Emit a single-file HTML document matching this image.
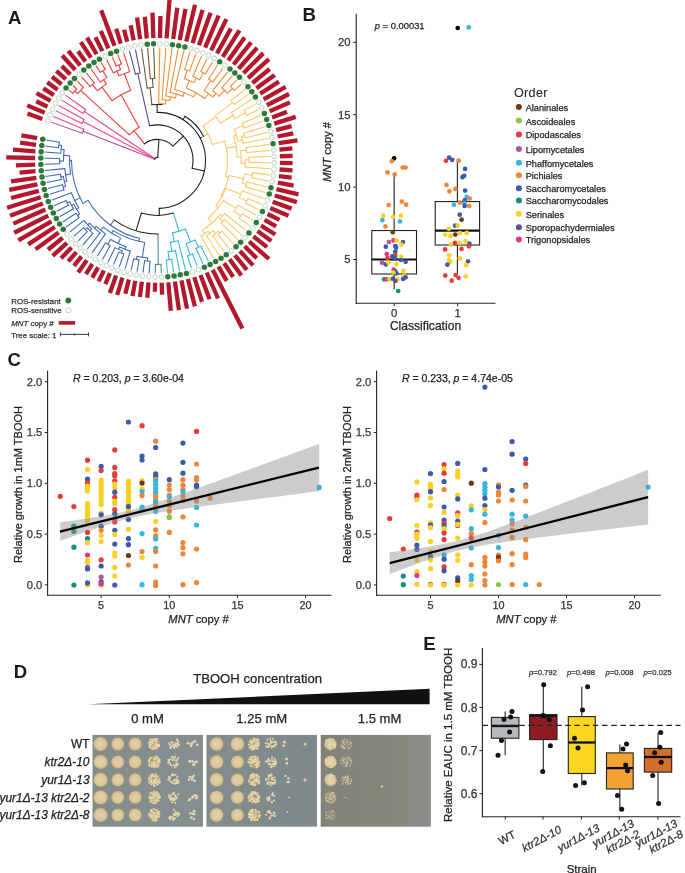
<!DOCTYPE html>
<html><head><meta charset="utf-8"><style>
html,body{margin:0;padding:0;background:#fff;}
svg{display:block;font-family:"Liberation Sans",sans-serif;will-change:transform;}

</style></head><body>
<svg width="685" height="873" viewBox="0 0 685 873">
<rect x="0" y="0" width="685" height="873" fill="#fff"/>
<text x="8" y="23.5" font-size="18.6" text-anchor="start" font-weight="bold" font-style="normal" fill="#1a1a1a" stroke="#1a1a1a" stroke-width="0" >A</text>
<line x1="42.34" y1="118.94" x2="27.47" y2="113.59" stroke="#B3192C" stroke-width="4.3" />
<line x1="44.75" y1="112.77" x2="27.25" y2="105.37" stroke="#B3192C" stroke-width="4.3" />
<line x1="47.49" y1="106.73" x2="36.26" y2="101.25" stroke="#B3192C" stroke-width="4.3" />
<line x1="50.56" y1="100.86" x2="36.58" y2="93.07" stroke="#B3192C" stroke-width="4.3" />
<line x1="53.94" y1="95.15" x2="43.28" y2="88.44" stroke="#B3192C" stroke-width="4.3" />
<line x1="57.62" y1="89.64" x2="47.26" y2="82.3" stroke="#B3192C" stroke-width="4.3" />
<line x1="61.6" y1="84.34" x2="52.04" y2="76.76" stroke="#B3192C" stroke-width="4.3" />
<line x1="65.86" y1="79.26" x2="56.35" y2="70.84" stroke="#B3192C" stroke-width="4.3" />
<line x1="70.38" y1="74.42" x2="61.77" y2="65.92" stroke="#B3192C" stroke-width="4.3" />
<line x1="75.17" y1="69.83" x2="62.18" y2="55.55" stroke="#B3192C" stroke-width="4.3" />
<line x1="80.19" y1="65.51" x2="68.31" y2="50.93" stroke="#B3192C" stroke-width="4.3" />
<line x1="85.44" y1="61.46" x2="78.02" y2="51.28" stroke="#B3192C" stroke-width="4.3" />
<line x1="90.9" y1="57.7" x2="80.83" y2="42.18" stroke="#B3192C" stroke-width="4.3" />
<line x1="96.56" y1="54.25" x2="87.05" y2="37.69" stroke="#B3192C" stroke-width="4.3" />
<line x1="102.39" y1="51.11" x2="95.41" y2="37.27" stroke="#B3192C" stroke-width="4.3" />
<line x1="108.39" y1="48.28" x2="100.77" y2="30.88" stroke="#B3192C" stroke-width="4.3" />
<line x1="114.53" y1="45.79" x2="101.19" y2="10.21" stroke="#B3192C" stroke-width="4.3" />
<line x1="120.8" y1="43.63" x2="116.12" y2="28.75" stroke="#B3192C" stroke-width="4.3" />
<line x1="127.17" y1="41.82" x2="124.1" y2="29.8" stroke="#B3192C" stroke-width="4.3" />
<line x1="133.64" y1="40.35" x2="130.63" y2="25.24" stroke="#B3192C" stroke-width="4.3" />
<line x1="140.17" y1="39.23" x2="137.05" y2="17.45" stroke="#B3192C" stroke-width="4.3" />
<line x1="146.75" y1="38.47" x2="144.84" y2="16.76" stroke="#B3192C" stroke-width="4.3" />
<line x1="153.37" y1="38.07" x2="152.51" y2="12.68" stroke="#B3192C" stroke-width="4.3" />
<line x1="160" y1="38.03" x2="160.45" y2="16.03" stroke="#B3192C" stroke-width="4.3" />
<line x1="166.62" y1="38.34" x2="169.6" y2="-1.55" stroke="#B3192C" stroke-width="4.3" />
<line x1="173.21" y1="39.01" x2="177.27" y2="7.67" stroke="#B3192C" stroke-width="4.3" />
<line x1="179.76" y1="40.04" x2="185.51" y2="8.97" stroke="#B3192C" stroke-width="4.3" />
<line x1="186.24" y1="41.42" x2="195.09" y2="4.78" stroke="#B3192C" stroke-width="4.3" />
<line x1="192.64" y1="43.15" x2="202.6" y2="9.91" stroke="#B3192C" stroke-width="4.3" />
<line x1="198.94" y1="45.23" x2="210.61" y2="12.76" stroke="#B3192C" stroke-width="4.3" />
<line x1="205.11" y1="47.64" x2="218.68" y2="15.49" stroke="#B3192C" stroke-width="4.3" />
<line x1="211.14" y1="50.38" x2="226.39" y2="19.1" stroke="#B3192C" stroke-width="4.3" />
<line x1="217.02" y1="53.45" x2="230.88" y2="28.54" stroke="#B3192C" stroke-width="4.3" />
<line x1="222.72" y1="56.82" x2="239.4" y2="30.34" stroke="#B3192C" stroke-width="4.3" />
<line x1="228.23" y1="60.51" x2="244.59" y2="37.41" stroke="#B3192C" stroke-width="4.3" />
<line x1="233.54" y1="64.48" x2="251.12" y2="42.31" stroke="#B3192C" stroke-width="4.3" />
<line x1="238.62" y1="68.74" x2="257.17" y2="47.77" stroke="#B3192C" stroke-width="4.3" />
<line x1="243.46" y1="73.26" x2="263.34" y2="53.12" stroke="#B3192C" stroke-width="4.3" />
<line x1="248.05" y1="78.05" x2="268.91" y2="59.07" stroke="#B3192C" stroke-width="4.3" />
<line x1="252.38" y1="83.07" x2="269.66" y2="68.98" stroke="#B3192C" stroke-width="4.3" />
<line x1="256.42" y1="88.32" x2="274.69" y2="75.01" stroke="#B3192C" stroke-width="4.3" />
<line x1="260.18" y1="93.78" x2="278.89" y2="81.64" stroke="#B3192C" stroke-width="4.3" />
<line x1="263.64" y1="99.43" x2="285.66" y2="86.78" stroke="#B3192C" stroke-width="4.3" />
<line x1="266.78" y1="105.27" x2="289.1" y2="94.01" stroke="#B3192C" stroke-width="4.3" />
<line x1="269.6" y1="111.26" x2="289.94" y2="102.35" stroke="#B3192C" stroke-width="4.3" />
<line x1="272.1" y1="117.4" x2="286.99" y2="111.82" stroke="#B3192C" stroke-width="4.3" />
<line x1="274.26" y1="123.67" x2="295.72" y2="116.92" stroke="#B3192C" stroke-width="4.3" />
<line x1="276.08" y1="130.05" x2="291.58" y2="126.08" stroke="#B3192C" stroke-width="4.3" />
<line x1="277.55" y1="136.51" x2="293.24" y2="133.39" stroke="#B3192C" stroke-width="4.3" />
<line x1="278.66" y1="143.04" x2="297.47" y2="140.35" stroke="#B3192C" stroke-width="4.3" />
<line x1="279.42" y1="149.63" x2="292.37" y2="148.48" stroke="#B3192C" stroke-width="4.3" />
<line x1="279.83" y1="156.24" x2="292.62" y2="155.81" stroke="#B3192C" stroke-width="4.3" />
<line x1="279.88" y1="162.87" x2="292.57" y2="163.13" stroke="#B3192C" stroke-width="4.3" />
<line x1="279.56" y1="169.49" x2="292.53" y2="170.46" stroke="#B3192C" stroke-width="4.3" />
<line x1="278.89" y1="176.08" x2="291.68" y2="177.74" stroke="#B3192C" stroke-width="4.3" />
<line x1="277.86" y1="182.63" x2="293.6" y2="185.54" stroke="#B3192C" stroke-width="4.3" />
<line x1="276.48" y1="189.11" x2="298.45" y2="194.42" stroke="#B3192C" stroke-width="4.3" />
<line x1="274.76" y1="195.51" x2="296.88" y2="202.14" stroke="#B3192C" stroke-width="4.3" />
<line x1="272.68" y1="201.81" x2="291.6" y2="208.61" stroke="#B3192C" stroke-width="4.3" />
<line x1="270.27" y1="207.98" x2="288.51" y2="215.68" stroke="#B3192C" stroke-width="4.3" />
<line x1="267.53" y1="214.02" x2="279.49" y2="219.84" stroke="#B3192C" stroke-width="4.3" />
<line x1="264.47" y1="219.9" x2="276.18" y2="226.41" stroke="#B3192C" stroke-width="4.3" />
<line x1="261.09" y1="225.6" x2="275.31" y2="234.55" stroke="#B3192C" stroke-width="4.3" />
<line x1="257.41" y1="231.11" x2="271.37" y2="240.99" stroke="#B3192C" stroke-width="4.3" />
<line x1="253.43" y1="236.42" x2="266.99" y2="247.16" stroke="#B3192C" stroke-width="4.3" />
<line x1="249.18" y1="241.5" x2="268.95" y2="258.99" stroke="#B3192C" stroke-width="4.3" />
<line x1="244.65" y1="246.34" x2="256.76" y2="258.28" stroke="#B3192C" stroke-width="4.3" />
<line x1="239.88" y1="250.93" x2="253" y2="265.36" stroke="#B3192C" stroke-width="4.3" />
<line x1="234.85" y1="255.26" x2="246.86" y2="269.98" stroke="#B3192C" stroke-width="4.3" />
<line x1="229.61" y1="259.31" x2="241.39" y2="275.47" stroke="#B3192C" stroke-width="4.3" />
<line x1="224.15" y1="263.06" x2="233.13" y2="276.9" stroke="#B3192C" stroke-width="4.3" />
<line x1="218.49" y1="266.52" x2="226.71" y2="280.83" stroke="#B3192C" stroke-width="4.3" />
<line x1="212.66" y1="269.67" x2="242.4" y2="328.59" stroke="#B3192C" stroke-width="4.3" />
<line x1="206.66" y1="272.49" x2="218.07" y2="298.5" stroke="#B3192C" stroke-width="4.3" />
<line x1="200.52" y1="274.99" x2="209.59" y2="299.14" stroke="#B3192C" stroke-width="4.3" />
<line x1="194.26" y1="277.15" x2="202.03" y2="301.86" stroke="#B3192C" stroke-width="4.3" />
<line x1="187.88" y1="278.97" x2="194.91" y2="306.38" stroke="#B3192C" stroke-width="4.3" />
<line x1="181.42" y1="280.44" x2="187.05" y2="308.68" stroke="#B3192C" stroke-width="4.3" />
<line x1="174.89" y1="281.56" x2="178.98" y2="310.07" stroke="#B3192C" stroke-width="4.3" />
<line x1="168.3" y1="282.32" x2="170.82" y2="310.71" stroke="#B3192C" stroke-width="4.3" />
<line x1="161.69" y1="282.73" x2="162.09" y2="294.62" stroke="#B3192C" stroke-width="4.3" />
<line x1="155.06" y1="282.78" x2="154.88" y2="291.77" stroke="#B3192C" stroke-width="4.3" />
<line x1="148.44" y1="282.46" x2="147.3" y2="297.72" stroke="#B3192C" stroke-width="4.3" />
<line x1="141.84" y1="281.79" x2="139.89" y2="296.97" stroke="#B3192C" stroke-width="4.3" />
<line x1="135.3" y1="280.77" x2="132.47" y2="296.11" stroke="#B3192C" stroke-width="4.3" />
<line x1="128.81" y1="279.39" x2="125.37" y2="293.68" stroke="#B3192C" stroke-width="4.3" />
<line x1="122.41" y1="277.66" x2="117.22" y2="295" stroke="#B3192C" stroke-width="4.3" />
<line x1="116.12" y1="275.59" x2="109.86" y2="293" stroke="#B3192C" stroke-width="4.3" />
<line x1="109.94" y1="273.18" x2="105.36" y2="284.06" stroke="#B3192C" stroke-width="4.3" />
<line x1="103.91" y1="270.44" x2="98.61" y2="281.32" stroke="#B3192C" stroke-width="4.3" />
<line x1="98.03" y1="267.38" x2="92.25" y2="277.78" stroke="#B3192C" stroke-width="4.3" />
<line x1="92.32" y1="264" x2="85.94" y2="274.16" stroke="#B3192C" stroke-width="4.3" />
<line x1="86.81" y1="260.32" x2="78.21" y2="272.49" stroke="#B3192C" stroke-width="4.3" />
<line x1="81.51" y1="256.35" x2="73.99" y2="265.84" stroke="#B3192C" stroke-width="4.3" />
<line x1="76.42" y1="252.1" x2="68.28" y2="261.31" stroke="#B3192C" stroke-width="4.3" />
<line x1="71.58" y1="247.57" x2="61.05" y2="258.26" stroke="#B3192C" stroke-width="4.3" />
<line x1="66.99" y1="242.8" x2="52.71" y2="255.79" stroke="#B3192C" stroke-width="4.3" />
<line x1="62.66" y1="237.78" x2="47.94" y2="249.79" stroke="#B3192C" stroke-width="4.3" />
<line x1="58.61" y1="232.53" x2="35.5" y2="249.38" stroke="#B3192C" stroke-width="4.3" />
<line x1="54.85" y1="227.07" x2="28.18" y2="244.39" stroke="#B3192C" stroke-width="4.3" />
<line x1="51.39" y1="221.41" x2="18.36" y2="240.41" stroke="#B3192C" stroke-width="4.3" />
<line x1="48.24" y1="215.58" x2="14.24" y2="232.76" stroke="#B3192C" stroke-width="4.3" />
<line x1="45.42" y1="209.59" x2="13.37" y2="223.65" stroke="#B3192C" stroke-width="4.3" />
<line x1="42.92" y1="203.45" x2="10.06" y2="215.79" stroke="#B3192C" stroke-width="4.3" />
<line x1="40.76" y1="197.18" x2="7.09" y2="207.79" stroke="#B3192C" stroke-width="4.3" />
<line x1="38.94" y1="190.81" x2="11.04" y2="197.96" stroke="#B3192C" stroke-width="4.3" />
<line x1="37.47" y1="184.35" x2="9.22" y2="189.98" stroke="#B3192C" stroke-width="4.3" />
<line x1="36.34" y1="177.81" x2="11.1" y2="181.44" stroke="#B3192C" stroke-width="4.3" />
<line x1="35.58" y1="171.23" x2="19.64" y2="172.65" stroke="#B3192C" stroke-width="4.3" />
<line x1="35.17" y1="164.61" x2="15.88" y2="165.28" stroke="#B3192C" stroke-width="4.3" />
<line x1="35.12" y1="157.99" x2="6.23" y2="157.42" stroke="#B3192C" stroke-width="4.3" />
<line x1="35.43" y1="151.37" x2="13" y2="149.7" stroke="#B3192C" stroke-width="4.3" />
<line x1="36.1" y1="144.77" x2="20.13" y2="142.72" stroke="#B3192C" stroke-width="4.3" />
<line x1="37.13" y1="138.22" x2="21.39" y2="135.32" stroke="#B3192C" stroke-width="4.3" />
<circle cx="47.7" cy="120.87" r="2.35" fill="#ffffff" stroke="#a9c7ab" stroke-width="0.75"/>
<circle cx="50" cy="114.98" r="2.35" fill="#ffffff" stroke="#a9c7ab" stroke-width="0.75"/>
<circle cx="52.62" cy="109.23" r="2.35" fill="#ffffff" stroke="#a9c7ab" stroke-width="0.75"/>
<circle cx="55.54" cy="103.63" r="2.35" fill="#ffffff" stroke="#a9c7ab" stroke-width="0.75"/>
<circle cx="58.76" cy="98.19" r="2.35" fill="#ffffff" stroke="#a9c7ab" stroke-width="0.75"/>
<circle cx="62.27" cy="92.94" r="2.35" fill="#ffffff" stroke="#a9c7ab" stroke-width="0.75"/>
<circle cx="66.07" cy="87.88" r="2.75" fill="#2C7A3B"/>
<circle cx="70.13" cy="83.04" r="2.75" fill="#2C7A3B"/>
<circle cx="74.44" cy="78.42" r="2.75" fill="#2C7A3B"/>
<circle cx="79" cy="74.05" r="2.35" fill="#ffffff" stroke="#a9c7ab" stroke-width="0.75"/>
<circle cx="83.79" cy="69.93" r="2.75" fill="#2C7A3B"/>
<circle cx="88.8" cy="66.07" r="2.75" fill="#2C7A3B"/>
<circle cx="94" cy="62.49" r="2.75" fill="#2C7A3B"/>
<circle cx="99.4" cy="59.19" r="2.75" fill="#2C7A3B"/>
<circle cx="104.96" cy="56.2" r="2.35" fill="#ffffff" stroke="#a9c7ab" stroke-width="0.75"/>
<circle cx="110.68" cy="53.51" r="2.75" fill="#2C7A3B"/>
<circle cx="116.53" cy="51.13" r="2.75" fill="#2C7A3B"/>
<circle cx="122.51" cy="49.07" r="2.35" fill="#ffffff" stroke="#a9c7ab" stroke-width="0.75"/>
<circle cx="128.58" cy="47.34" r="2.35" fill="#ffffff" stroke="#a9c7ab" stroke-width="0.75"/>
<circle cx="134.75" cy="45.94" r="2.35" fill="#ffffff" stroke="#a9c7ab" stroke-width="0.75"/>
<circle cx="140.98" cy="44.88" r="2.35" fill="#ffffff" stroke="#a9c7ab" stroke-width="0.75"/>
<circle cx="147.25" cy="44.15" r="2.75" fill="#2C7A3B"/>
<circle cx="153.56" cy="43.77" r="2.75" fill="#2C7A3B"/>
<circle cx="159.88" cy="43.72" r="2.35" fill="#ffffff" stroke="#a9c7ab" stroke-width="0.75"/>
<circle cx="166.19" cy="44.02" r="2.35" fill="#ffffff" stroke="#a9c7ab" stroke-width="0.75"/>
<circle cx="172.48" cy="44.67" r="2.75" fill="#2C7A3B"/>
<circle cx="178.72" cy="45.65" r="2.75" fill="#2C7A3B"/>
<circle cx="184.9" cy="46.96" r="2.75" fill="#2C7A3B"/>
<circle cx="191" cy="48.61" r="2.35" fill="#ffffff" stroke="#a9c7ab" stroke-width="0.75"/>
<circle cx="197.01" cy="50.59" r="2.35" fill="#ffffff" stroke="#a9c7ab" stroke-width="0.75"/>
<circle cx="202.89" cy="52.89" r="2.35" fill="#ffffff" stroke="#a9c7ab" stroke-width="0.75"/>
<circle cx="208.65" cy="55.5" r="2.35" fill="#ffffff" stroke="#a9c7ab" stroke-width="0.75"/>
<circle cx="214.25" cy="58.43" r="2.35" fill="#ffffff" stroke="#a9c7ab" stroke-width="0.75"/>
<circle cx="219.68" cy="61.65" r="2.75" fill="#2C7A3B"/>
<circle cx="224.94" cy="65.16" r="2.35" fill="#ffffff" stroke="#a9c7ab" stroke-width="0.75"/>
<circle cx="230" cy="68.95" r="2.75" fill="#2C7A3B"/>
<circle cx="234.84" cy="73.01" r="2.75" fill="#2C7A3B"/>
<circle cx="239.46" cy="77.32" r="2.75" fill="#2C7A3B"/>
<circle cx="243.83" cy="81.88" r="2.35" fill="#ffffff" stroke="#a9c7ab" stroke-width="0.75"/>
<circle cx="247.96" cy="86.67" r="2.75" fill="#2C7A3B"/>
<circle cx="251.82" cy="91.67" r="2.75" fill="#2C7A3B"/>
<circle cx="255.4" cy="96.88" r="2.75" fill="#2C7A3B"/>
<circle cx="258.69" cy="102.27" r="2.35" fill="#ffffff" stroke="#a9c7ab" stroke-width="0.75"/>
<circle cx="261.69" cy="107.84" r="2.35" fill="#ffffff" stroke="#a9c7ab" stroke-width="0.75"/>
<circle cx="264.38" cy="113.55" r="2.75" fill="#2C7A3B"/>
<circle cx="266.76" cy="119.41" r="2.75" fill="#2C7A3B"/>
<circle cx="268.82" cy="125.38" r="2.75" fill="#2C7A3B"/>
<circle cx="270.55" cy="131.46" r="2.35" fill="#ffffff" stroke="#a9c7ab" stroke-width="0.75"/>
<circle cx="271.96" cy="137.62" r="2.35" fill="#ffffff" stroke="#a9c7ab" stroke-width="0.75"/>
<circle cx="273.02" cy="143.85" r="2.75" fill="#2C7A3B"/>
<circle cx="273.75" cy="150.13" r="2.35" fill="#ffffff" stroke="#a9c7ab" stroke-width="0.75"/>
<circle cx="274.13" cy="156.44" r="2.35" fill="#ffffff" stroke="#a9c7ab" stroke-width="0.75"/>
<circle cx="274.18" cy="162.75" r="2.35" fill="#ffffff" stroke="#a9c7ab" stroke-width="0.75"/>
<circle cx="273.88" cy="169.07" r="2.35" fill="#ffffff" stroke="#a9c7ab" stroke-width="0.75"/>
<circle cx="273.24" cy="175.35" r="2.35" fill="#ffffff" stroke="#a9c7ab" stroke-width="0.75"/>
<circle cx="272.26" cy="181.6" r="2.35" fill="#ffffff" stroke="#a9c7ab" stroke-width="0.75"/>
<circle cx="270.94" cy="187.78" r="2.75" fill="#2C7A3B"/>
<circle cx="269.29" cy="193.88" r="2.75" fill="#2C7A3B"/>
<circle cx="267.32" cy="199.88" r="2.35" fill="#ffffff" stroke="#a9c7ab" stroke-width="0.75"/>
<circle cx="265.02" cy="205.77" r="2.35" fill="#ffffff" stroke="#a9c7ab" stroke-width="0.75"/>
<circle cx="262.41" cy="211.52" r="2.75" fill="#2C7A3B"/>
<circle cx="259.49" cy="217.13" r="2.35" fill="#ffffff" stroke="#a9c7ab" stroke-width="0.75"/>
<circle cx="256.27" cy="222.56" r="2.75" fill="#2C7A3B"/>
<circle cx="252.76" cy="227.82" r="2.35" fill="#ffffff" stroke="#a9c7ab" stroke-width="0.75"/>
<circle cx="248.97" cy="232.88" r="2.75" fill="#2C7A3B"/>
<circle cx="244.91" cy="237.72" r="2.35" fill="#ffffff" stroke="#a9c7ab" stroke-width="0.75"/>
<circle cx="240.6" cy="242.34" r="2.75" fill="#2C7A3B"/>
<circle cx="236.04" cy="246.72" r="2.75" fill="#2C7A3B"/>
<circle cx="231.25" cy="250.84" r="2.35" fill="#ffffff" stroke="#a9c7ab" stroke-width="0.75"/>
<circle cx="226.25" cy="254.7" r="2.75" fill="#2C7A3B"/>
<circle cx="221.04" cy="258.28" r="2.75" fill="#2C7A3B"/>
<circle cx="215.65" cy="261.58" r="2.75" fill="#2C7A3B"/>
<circle cx="210.09" cy="264.58" r="2.75" fill="#2C7A3B"/>
<circle cx="204.37" cy="267.27" r="2.75" fill="#2C7A3B"/>
<circle cx="198.52" cy="269.65" r="2.35" fill="#ffffff" stroke="#a9c7ab" stroke-width="0.75"/>
<circle cx="192.54" cy="271.71" r="2.35" fill="#ffffff" stroke="#a9c7ab" stroke-width="0.75"/>
<circle cx="186.47" cy="273.45" r="2.75" fill="#2C7A3B"/>
<circle cx="180.3" cy="274.85" r="2.75" fill="#2C7A3B"/>
<circle cx="174.08" cy="275.92" r="2.75" fill="#2C7A3B"/>
<circle cx="167.8" cy="276.64" r="2.75" fill="#2C7A3B"/>
<circle cx="161.49" cy="277.03" r="2.35" fill="#ffffff" stroke="#a9c7ab" stroke-width="0.75"/>
<circle cx="155.17" cy="277.08" r="2.35" fill="#ffffff" stroke="#a9c7ab" stroke-width="0.75"/>
<circle cx="148.86" cy="276.78" r="2.35" fill="#ffffff" stroke="#a9c7ab" stroke-width="0.75"/>
<circle cx="142.57" cy="276.14" r="2.35" fill="#ffffff" stroke="#a9c7ab" stroke-width="0.75"/>
<circle cx="136.33" cy="275.16" r="2.35" fill="#ffffff" stroke="#a9c7ab" stroke-width="0.75"/>
<circle cx="130.15" cy="273.85" r="2.35" fill="#ffffff" stroke="#a9c7ab" stroke-width="0.75"/>
<circle cx="124.05" cy="272.2" r="2.35" fill="#ffffff" stroke="#a9c7ab" stroke-width="0.75"/>
<circle cx="118.04" cy="270.23" r="2.35" fill="#ffffff" stroke="#a9c7ab" stroke-width="0.75"/>
<circle cx="112.16" cy="267.93" r="2.35" fill="#ffffff" stroke="#a9c7ab" stroke-width="0.75"/>
<circle cx="106.4" cy="265.32" r="2.35" fill="#ffffff" stroke="#a9c7ab" stroke-width="0.75"/>
<circle cx="100.8" cy="262.4" r="2.35" fill="#ffffff" stroke="#a9c7ab" stroke-width="0.75"/>
<circle cx="95.36" cy="259.18" r="2.35" fill="#ffffff" stroke="#a9c7ab" stroke-width="0.75"/>
<circle cx="90.1" cy="255.67" r="2.35" fill="#ffffff" stroke="#a9c7ab" stroke-width="0.75"/>
<circle cx="85.05" cy="251.88" r="2.35" fill="#ffffff" stroke="#a9c7ab" stroke-width="0.75"/>
<circle cx="80.2" cy="247.83" r="2.35" fill="#ffffff" stroke="#a9c7ab" stroke-width="0.75"/>
<circle cx="75.58" cy="243.51" r="2.35" fill="#ffffff" stroke="#a9c7ab" stroke-width="0.75"/>
<circle cx="71.2" cy="238.96" r="2.35" fill="#ffffff" stroke="#a9c7ab" stroke-width="0.75"/>
<circle cx="67.08" cy="234.17" r="2.35" fill="#ffffff" stroke="#a9c7ab" stroke-width="0.75"/>
<circle cx="63.21" cy="229.17" r="2.75" fill="#2C7A3B"/>
<circle cx="59.63" cy="223.96" r="2.75" fill="#2C7A3B"/>
<circle cx="56.33" cy="218.57" r="2.75" fill="#2C7A3B"/>
<circle cx="53.33" cy="213.01" r="2.75" fill="#2C7A3B"/>
<circle cx="50.64" cy="207.3" r="2.75" fill="#2C7A3B"/>
<circle cx="48.26" cy="201.44" r="2.75" fill="#2C7A3B"/>
<circle cx="46.19" cy="195.47" r="2.75" fill="#2C7A3B"/>
<circle cx="44.46" cy="189.39" r="2.75" fill="#2C7A3B"/>
<circle cx="43.06" cy="183.23" r="2.75" fill="#2C7A3B"/>
<circle cx="41.99" cy="177" r="2.75" fill="#2C7A3B"/>
<circle cx="41.26" cy="170.73" r="2.75" fill="#2C7A3B"/>
<circle cx="40.87" cy="164.42" r="2.75" fill="#2C7A3B"/>
<circle cx="40.82" cy="158.1" r="2.75" fill="#2C7A3B"/>
<circle cx="41.12" cy="151.79" r="2.75" fill="#2C7A3B"/>
<circle cx="41.76" cy="145.5" r="2.75" fill="#2C7A3B"/>
<circle cx="42.73" cy="139.26" r="2.75" fill="#2C7A3B"/>
<text x="11.2" y="304.3" font-size="7.9" text-anchor="start" font-weight="normal" font-style="normal" fill="#333" stroke="#333" stroke-width="0.25" >ROS-resistant</text>
<circle cx="68.3" cy="300.5" r="2.9" fill="#2C7A3B"/>
<text x="11.2" y="313" font-size="7.9" text-anchor="start" font-weight="normal" font-style="normal" fill="#333" stroke="#333" stroke-width="0.25" >ROS-sensitive</text>
<circle cx="68.5" cy="310.3" r="2.5" fill="#fff" stroke="#a9c7ab" stroke-width="0.75"/>
<text x="11.2" y="325.7" font-size="7.9" text-anchor="start" font-weight="normal" font-style="normal" fill="#333" stroke="#333" stroke-width="0.25" ><tspan font-style="italic">MNT</tspan> copy #</text>
<rect x="58.7" y="321.1" width="16.4" height="3.6" fill="#B3192C" />
<text x="11.2" y="338.2" font-size="7.9" text-anchor="start" font-weight="normal" font-style="normal" fill="#333" stroke="#333" stroke-width="0.25" >Tree scale: 1</text>
<line x1="60.2" y1="334.4" x2="88.7" y2="334.4" stroke="#222" stroke-width="0.9" />
<line x1="60.4" y1="332.4" x2="60.4" y2="336.4" stroke="#222" stroke-width="0.8" />
<line x1="74.4" y1="333.4" x2="74.4" y2="335.4" stroke="#222" stroke-width="0.8" />
<line x1="88.5" y1="332.4" x2="88.5" y2="336.4" stroke="#222" stroke-width="0.8" />
<line x1="82.23" y1="133.3" x2="51.18" y2="122.12" stroke="#A94FA2" stroke-width="1.05" />
<line x1="83.81" y1="129.27" x2="53.41" y2="116.42" stroke="#EC4589" stroke-width="1.05" />
<path d="M82.23,133.3 A80,80 0 0 1 83.81,129.27" stroke="#A94FA2" stroke-width="1.05" fill="none" stroke-linecap="square"/>
<line x1="154.71" y1="159.31" x2="82.99" y2="131.27" stroke="#A94FA2" stroke-width="1.05" />
<line x1="82.01" y1="123.57" x2="55.94" y2="110.85" stroke="#EC4589" stroke-width="1.05" />
<line x1="84.11" y1="119.54" x2="58.77" y2="105.43" stroke="#EC4589" stroke-width="1.05" />
<path d="M82.01,123.57 A84,84 0 0 1 84.11,119.54" stroke="#EC4589" stroke-width="1.05" fill="none" stroke-linecap="square"/>
<line x1="154.84" y1="159.01" x2="83.03" y2="121.54" stroke="#EC4589" stroke-width="1.05" />
<line x1="83.04" y1="113.49" x2="61.89" y2="100.16" stroke="#EC4589" stroke-width="1.05" />
<line x1="85.69" y1="109.53" x2="65.29" y2="95.08" stroke="#EC4589" stroke-width="1.05" />
<path d="M83.04,113.49 A88,88 0 0 1 85.69,109.53" stroke="#EC4589" stroke-width="1.05" fill="none" stroke-linecap="square"/>
<line x1="155.01" y1="158.73" x2="84.34" y2="111.49" stroke="#EC4589" stroke-width="1.05" />
<line x1="72.88" y1="93.29" x2="68.96" y2="90.18" stroke="#EE3A33" stroke-width="1.05" />
<line x1="76.64" y1="88.81" x2="72.9" y2="85.49" stroke="#EE3A33" stroke-width="1.05" />
<path d="M72.88,93.29 A108,108 0 0 1 76.64,88.81" stroke="#EE3A33" stroke-width="1.05" fill="none" stroke-linecap="square"/>
<line x1="77.8" y1="93.59" x2="74.73" y2="91.02" stroke="#EE3A33" stroke-width="1.05" />
<line x1="83.48" y1="87.35" x2="77.07" y2="81.02" stroke="#EE3A33" stroke-width="1.05" />
<path d="M77.8,93.59 A104,104 0 0 1 83.48,87.35" stroke="#EE3A33" stroke-width="1.05" fill="none" stroke-linecap="square"/>
<line x1="129.39" y1="134.83" x2="80.57" y2="90.41" stroke="#EE3A33" stroke-width="1.05" />
<line x1="90.23" y1="86.41" x2="81.49" y2="76.79" stroke="#EE3A33" stroke-width="1.05" />
<line x1="94.34" y1="82.87" x2="86.13" y2="72.79" stroke="#EE3A33" stroke-width="1.05" />
<path d="M90.23,86.41 A100,100 0 0 1 94.34,82.87" stroke="#EE3A33" stroke-width="1.05" fill="none" stroke-linecap="square"/>
<line x1="97.48" y1="90.67" x2="92.26" y2="84.61" stroke="#EE3A33" stroke-width="1.05" />
<line x1="100.39" y1="81.99" x2="90.97" y2="69.06" stroke="#EE3A33" stroke-width="1.05" />
<line x1="100.37" y1="72.3" x2="96.02" y2="65.59" stroke="#EE3A33" stroke-width="1.05" />
<line x1="105.22" y1="69.34" x2="101.24" y2="62.4" stroke="#EE3A33" stroke-width="1.05" />
<path d="M100.37,72.3 A105,105 0 0 1 105.22,69.34" stroke="#EE3A33" stroke-width="1.05" fill="none" stroke-linecap="square"/>
<line x1="106.94" y1="77.62" x2="102.77" y2="70.79" stroke="#EE3A33" stroke-width="1.05" />
<path d="M100.39,81.99 A97,97 0 0 1 106.94,77.62" stroke="#EE3A33" stroke-width="1.05" fill="none" stroke-linecap="square"/>
<line x1="106.4" y1="83.9" x2="103.62" y2="79.74" stroke="#EE3A33" stroke-width="1.05" />
<path d="M97.48,90.67 A92,92 0 0 1 106.4,83.9" stroke="#EE3A33" stroke-width="1.05" fill="none" stroke-linecap="square"/>
<line x1="112.12" y1="100.68" x2="101.84" y2="87.15" stroke="#EE3A33" stroke-width="1.05" />
<line x1="113.38" y1="72.89" x2="106.62" y2="59.5" stroke="#EE3A33" stroke-width="1.05" />
<line x1="116.17" y1="66.05" x2="112.16" y2="56.89" stroke="#EE3A33" stroke-width="1.05" />
<line x1="121.34" y1="63.96" x2="117.83" y2="54.59" stroke="#EE3A33" stroke-width="1.05" />
<path d="M116.17,66.05 A103,103 0 0 1 121.34,63.96" stroke="#EE3A33" stroke-width="1.05" fill="none" stroke-linecap="square"/>
<line x1="120.62" y1="69.6" x2="118.74" y2="64.97" stroke="#EE3A33" stroke-width="1.05" />
<path d="M113.38,72.89 A98,98 0 0 1 120.62,69.6" stroke="#EE3A33" stroke-width="1.05" fill="none" stroke-linecap="square"/>
<line x1="119.04" y1="75.73" x2="116.97" y2="71.17" stroke="#EE3A33" stroke-width="1.05" />
<line x1="129.61" y1="71.68" x2="123.62" y2="52.6" stroke="#EE3A33" stroke-width="1.05" />
<path d="M119.04,75.73 A93,93 0 0 1 129.61,71.68" stroke="#EE3A33" stroke-width="1.05" fill="none" stroke-linecap="square"/>
<line x1="130.7" y1="90.35" x2="124.26" y2="73.54" stroke="#EE3A33" stroke-width="1.05" />
<path d="M112.12,100.68 A75,75 0 0 1 130.7,90.35" stroke="#EE3A33" stroke-width="1.05" fill="none" stroke-linecap="square"/>
<line x1="139.03" y1="127.19" x2="121.04" y2="94.86" stroke="#EE3A33" stroke-width="1.05" />
<path d="M129.39,134.83 A38,38 0 0 1 139.03,127.19" stroke="#EE3A33" stroke-width="1.05" fill="none" stroke-linecap="square"/>
<line x1="144.46" y1="143.94" x2="133.9" y2="130.62" stroke="#EE3A33" stroke-width="1.05" />
<line x1="135.45" y1="74.18" x2="129.5" y2="50.92" stroke="#4B47A3" stroke-width="1.05" />
<line x1="140.15" y1="73.11" x2="135.47" y2="49.57" stroke="#4B47A3" stroke-width="1.05" />
<path d="M135.45,74.18 A89,89 0 0 1 140.15,73.11" stroke="#4B47A3" stroke-width="1.05" fill="none" stroke-linecap="square"/>
<line x1="149.64" y1="125.78" x2="137.79" y2="73.61" stroke="#4B47A3" stroke-width="1.05" />
<line x1="147.16" y1="88.14" x2="141.5" y2="48.54" stroke="#6E4F31" stroke-width="1.05" />
<line x1="150.3" y1="78.72" x2="147.58" y2="47.84" stroke="#6E4F31" stroke-width="1.05" />
<line x1="154.73" y1="78.45" x2="153.69" y2="47.46" stroke="#6E4F31" stroke-width="1.05" />
<path d="M150.3,78.72 A82,82 0 0 1 154.73,78.45" stroke="#6E4F31" stroke-width="1.05" fill="none" stroke-linecap="square"/>
<line x1="153.06" y1="87.54" x2="152.51" y2="78.55" stroke="#6E4F31" stroke-width="1.05" />
<path d="M147.16,88.14 A73,73 0 0 1 153.06,87.54" stroke="#6E4F31" stroke-width="1.05" fill="none" stroke-linecap="square"/>
<line x1="151.83" y1="104.69" x2="150.11" y2="87.78" stroke="#6E4F31" stroke-width="1.05" />
<line x1="158.66" y1="103.41" x2="159.81" y2="47.42" stroke="#F28A35" stroke-width="1.05" />
<line x1="162.04" y1="99.57" x2="165.92" y2="47.71" stroke="#F28A35" stroke-width="1.05" />
<line x1="165.84" y1="95.94" x2="172.01" y2="48.33" stroke="#F28A35" stroke-width="1.05" />
<line x1="170.05" y1="92.55" x2="178.05" y2="49.28" stroke="#F28A35" stroke-width="1.05" />
<line x1="174.64" y1="89.44" x2="184.03" y2="50.56" stroke="#F28A35" stroke-width="1.05" />
<line x1="184.77" y1="69.4" x2="189.94" y2="52.16" stroke="#F28A35" stroke-width="1.05" />
<line x1="189.66" y1="71.01" x2="195.75" y2="54.07" stroke="#F28A35" stroke-width="1.05" />
<path d="M184.77,69.4 A95,95 0 0 1 189.66,71.01" stroke="#F28A35" stroke-width="1.05" fill="none" stroke-linecap="square"/>
<line x1="184.41" y1="78.72" x2="187.23" y2="70.17" stroke="#F28A35" stroke-width="1.05" />
<line x1="192.9" y1="76.57" x2="201.45" y2="56.3" stroke="#F28A35" stroke-width="1.05" />
<line x1="200.89" y1="71.41" x2="207.02" y2="58.83" stroke="#F28A35" stroke-width="1.05" />
<line x1="205.64" y1="73.89" x2="212.45" y2="61.66" stroke="#F28A35" stroke-width="1.05" />
<path d="M200.89,71.41 A99,99 0 0 1 205.64,73.89" stroke="#F28A35" stroke-width="1.05" fill="none" stroke-linecap="square"/>
<line x1="199.58" y1="79.71" x2="203.28" y2="72.62" stroke="#F28A35" stroke-width="1.05" />
<path d="M192.9,76.57 A91,91 0 0 1 199.58,79.71" stroke="#F28A35" stroke-width="1.05" fill="none" stroke-linecap="square"/>
<line x1="194.14" y1="82.6" x2="196.27" y2="78.07" stroke="#F28A35" stroke-width="1.05" />
<path d="M184.41,78.72 A86,86 0 0 1 194.14,82.6" stroke="#F28A35" stroke-width="1.05" fill="none" stroke-linecap="square"/>
<line x1="186.37" y1="87.94" x2="189.34" y2="80.51" stroke="#F28A35" stroke-width="1.05" />
<line x1="208.65" y1="79.16" x2="217.71" y2="64.78" stroke="#F28A35" stroke-width="1.05" />
<line x1="212.98" y1="82.05" x2="222.8" y2="68.18" stroke="#F28A35" stroke-width="1.05" />
<path d="M208.65,79.16 A96,96 0 0 1 212.98,82.05" stroke="#F28A35" stroke-width="1.05" fill="none" stroke-linecap="square"/>
<line x1="204.17" y1="90.56" x2="210.84" y2="80.58" stroke="#F28A35" stroke-width="1.05" />
<line x1="212.79" y1="90.66" x2="227.7" y2="71.85" stroke="#F28A35" stroke-width="1.05" />
<line x1="221.78" y1="87.76" x2="232.39" y2="75.78" stroke="#F28A35" stroke-width="1.05" />
<line x1="230.54" y1="86.36" x2="236.86" y2="79.96" stroke="#F28A35" stroke-width="1.05" />
<line x1="234.44" y1="90.43" x2="241.1" y2="84.37" stroke="#F28A35" stroke-width="1.05" />
<path d="M230.54,86.36 A104,104 0 0 1 234.44,90.43" stroke="#F28A35" stroke-width="1.05" fill="none" stroke-linecap="square"/>
<line x1="227.47" y1="93.22" x2="232.52" y2="88.37" stroke="#F28A35" stroke-width="1.05" />
<path d="M221.78,87.76 A97,97 0 0 1 227.47,93.22" stroke="#F28A35" stroke-width="1.05" fill="none" stroke-linecap="square"/>
<line x1="219.14" y1="96.2" x2="224.68" y2="90.43" stroke="#F28A35" stroke-width="1.05" />
<path d="M212.79,90.66 A89,89 0 0 1 219.14,96.2" stroke="#F28A35" stroke-width="1.05" fill="none" stroke-linecap="square"/>
<line x1="212.74" y1="97.12" x2="216.03" y2="93.35" stroke="#F28A35" stroke-width="1.05" />
<path d="M204.17,90.56 A84,84 0 0 1 212.74,97.12" stroke="#F28A35" stroke-width="1.05" fill="none" stroke-linecap="square"/>
<line x1="204.91" y1="98.46" x2="208.56" y2="93.7" stroke="#F28A35" stroke-width="1.05" />
<path d="M186.37,87.94 A78,78 0 0 1 204.91,98.46" stroke="#F28A35" stroke-width="1.05" fill="none" stroke-linecap="square"/>
<line x1="193.54" y1="96.91" x2="196" y2="92.57" stroke="#F28A35" stroke-width="1.05" />
<path d="M174.64,89.44 A73,73 0 0 1 193.54,96.91" stroke="#F28A35" stroke-width="1.05" fill="none" stroke-linecap="square"/>
<line x1="182.88" y1="96.24" x2="184.35" y2="92.52" stroke="#F28A35" stroke-width="1.05" />
<path d="M170.05,92.55 A69,69 0 0 1 182.88,96.24" stroke="#F28A35" stroke-width="1.05" fill="none" stroke-linecap="square"/>
<line x1="175.45" y1="97.93" x2="176.55" y2="94.08" stroke="#F28A35" stroke-width="1.05" />
<path d="M165.84,95.94 A65,65 0 0 1 175.45,97.93" stroke="#F28A35" stroke-width="1.05" fill="none" stroke-linecap="square"/>
<line x1="169.87" y1="100.67" x2="170.68" y2="96.75" stroke="#F28A35" stroke-width="1.05" />
<path d="M162.04,99.57 A61,61 0 0 1 169.87,100.67" stroke="#F28A35" stroke-width="1.05" fill="none" stroke-linecap="square"/>
<line x1="165.42" y1="103.95" x2="165.98" y2="99.99" stroke="#F28A35" stroke-width="1.05" />
<path d="M158.66,103.41 A57,57 0 0 1 165.42,103.95" stroke="#F28A35" stroke-width="1.05" fill="none" stroke-linecap="square"/>
<line x1="161.97" y1="104.58" x2="162.05" y2="103.58" stroke="#F28A35" stroke-width="1.05" />
<line x1="231.14" y1="100.38" x2="245.09" y2="89.01" stroke="#F9C766" stroke-width="1.05" />
<line x1="234.28" y1="104.45" x2="248.83" y2="93.85" stroke="#F9C766" stroke-width="1.05" />
<path d="M231.14,100.38 A95,95 0 0 1 234.28,104.45" stroke="#F9C766" stroke-width="1.05" fill="none" stroke-linecap="square"/>
<line x1="215.31" y1="115.83" x2="232.74" y2="102.39" stroke="#F9C766" stroke-width="1.05" />
<line x1="231.32" y1="112.5" x2="252.29" y2="98.89" stroke="#F9C766" stroke-width="1.05" />
<line x1="244.21" y1="110.59" x2="255.48" y2="104.12" stroke="#F9C766" stroke-width="1.05" />
<line x1="246.78" y1="115.36" x2="258.39" y2="109.5" stroke="#F9C766" stroke-width="1.05" />
<path d="M244.21,110.59 A100,100 0 0 1 246.78,115.36" stroke="#F9C766" stroke-width="1.05" fill="none" stroke-linecap="square"/>
<line x1="234.97" y1="118.65" x2="245.53" y2="112.96" stroke="#F9C766" stroke-width="1.05" />
<path d="M231.32,112.5 A88,88 0 0 1 234.97,118.65" stroke="#F9C766" stroke-width="1.05" fill="none" stroke-linecap="square"/>
<line x1="220.3" y1="123.19" x2="233.21" y2="115.54" stroke="#F9C766" stroke-width="1.05" />
<path d="M215.31,115.83 A73,73 0 0 1 220.3,123.19" stroke="#F9C766" stroke-width="1.05" fill="none" stroke-linecap="square"/>
<line x1="203.02" y1="126.1" x2="215.8" y2="116.47" stroke="#F9C766" stroke-width="1.05" />
<line x1="242.12" y1="123.31" x2="261" y2="115.04" stroke="#F9C766" stroke-width="1.05" />
<line x1="244" y1="127.95" x2="263.3" y2="120.71" stroke="#F9C766" stroke-width="1.05" />
<path d="M242.12,123.31 A92.39,92.39 0 0 1 244,127.95" stroke="#F9C766" stroke-width="1.05" fill="none" stroke-linecap="square"/>
<line x1="234.33" y1="129.18" x2="243.09" y2="125.62" stroke="#F9C766" stroke-width="1.05" />
<line x1="243.89" y1="133.22" x2="265.29" y2="126.49" stroke="#F9C766" stroke-width="1.05" />
<line x1="245.24" y1="137.94" x2="266.97" y2="132.38" stroke="#F9C766" stroke-width="1.05" />
<path d="M243.89,133.22 A90.57,90.57 0 0 1 245.24,137.94" stroke="#F9C766" stroke-width="1.05" fill="none" stroke-linecap="square"/>
<line x1="241.47" y1="136.46" x2="244.6" y2="135.57" stroke="#F9C766" stroke-width="1.05" />
<line x1="243.13" y1="143.36" x2="268.33" y2="138.34" stroke="#F9C766" stroke-width="1.05" />
<path d="M241.47,136.46 A87.31,87.31 0 0 1 243.13,143.36" stroke="#F9C766" stroke-width="1.05" fill="none" stroke-linecap="square"/>
<line x1="238.11" y1="140.92" x2="242.37" y2="139.89" stroke="#F9C766" stroke-width="1.05" />
<path d="M234.33,129.18 A82.93,82.93 0 0 1 238.11,140.92" stroke="#F9C766" stroke-width="1.05" fill="none" stroke-linecap="square"/>
<line x1="233.65" y1="135.88" x2="236.44" y2="134.98" stroke="#F9C766" stroke-width="1.05" />
<line x1="246.21" y1="147.69" x2="269.36" y2="144.37" stroke="#F9C766" stroke-width="1.05" />
<line x1="246.77" y1="152.51" x2="270.06" y2="150.45" stroke="#F9C766" stroke-width="1.05" />
<path d="M246.21,147.69 A89.62,89.62 0 0 1 246.77,152.51" stroke="#F9C766" stroke-width="1.05" fill="none" stroke-linecap="square"/>
<line x1="240.7" y1="150.77" x2="246.52" y2="150.1" stroke="#F9C766" stroke-width="1.05" />
<line x1="248.8" y1="157.3" x2="270.43" y2="156.56" stroke="#F9C766" stroke-width="1.05" />
<line x1="248.84" y1="162.24" x2="270.48" y2="162.68" stroke="#F9C766" stroke-width="1.05" />
<path d="M248.8,157.3 A91.36,91.36 0 0 1 248.84,162.24" stroke="#F9C766" stroke-width="1.05" fill="none" stroke-linecap="square"/>
<line x1="245.26" y1="159.79" x2="248.85" y2="159.77" stroke="#F9C766" stroke-width="1.05" />
<line x1="245.02" y1="166.92" x2="270.19" y2="168.79" stroke="#F9C766" stroke-width="1.05" />
<path d="M245.26,159.79 A87.76,87.76 0 0 1 245.02,166.92" stroke="#F9C766" stroke-width="1.05" fill="none" stroke-linecap="square"/>
<line x1="241.2" y1="163.22" x2="245.21" y2="163.36" stroke="#F9C766" stroke-width="1.05" />
<path d="M240.7,150.77 A83.75,83.75 0 0 1 241.2,163.22" stroke="#F9C766" stroke-width="1.05" fill="none" stroke-linecap="square"/>
<line x1="237.43" y1="157.14" x2="241.18" y2="156.99" stroke="#F9C766" stroke-width="1.05" />
<path d="M233.65,135.88 A80,80 0 0 1 237.43,157.14" stroke="#F9C766" stroke-width="1.05" fill="none" stroke-linecap="square"/>
<line x1="226.42" y1="148.13" x2="236.26" y2="146.38" stroke="#F9C766" stroke-width="1.05" />
<line x1="252.71" y1="172.7" x2="269.57" y2="174.88" stroke="#F9C766" stroke-width="1.05" />
<line x1="251.9" y1="177.84" x2="268.62" y2="180.92" stroke="#F9C766" stroke-width="1.05" />
<path d="M252.71,172.7 A96,96 0 0 1 251.9,177.84" stroke="#F9C766" stroke-width="1.05" fill="none" stroke-linecap="square"/>
<line x1="244.44" y1="174.03" x2="252.34" y2="175.27" stroke="#F9C766" stroke-width="1.05" />
<line x1="246.93" y1="181.98" x2="267.35" y2="186.91" stroke="#F9C766" stroke-width="1.05" />
<line x1="245.63" y1="186.79" x2="265.75" y2="192.82" stroke="#F9C766" stroke-width="1.05" />
<path d="M246.93,181.98 A92,92 0 0 1 245.63,186.79" stroke="#F9C766" stroke-width="1.05" fill="none" stroke-linecap="square"/>
<line x1="242.45" y1="183.35" x2="246.32" y2="184.4" stroke="#F9C766" stroke-width="1.05" />
<path d="M244.44,174.03 A88,88 0 0 1 242.45,183.35" stroke="#F9C766" stroke-width="1.05" fill="none" stroke-linecap="square"/>
<line x1="228.9" y1="175.6" x2="243.57" y2="178.72" stroke="#F9C766" stroke-width="1.05" />
<line x1="242.19" y1="190.85" x2="263.84" y2="198.63" stroke="#F9C766" stroke-width="1.05" />
<line x1="247.79" y1="198.5" x2="261.61" y2="204.33" stroke="#F9C766" stroke-width="1.05" />
<line x1="245.6" y1="203.33" x2="259.08" y2="209.9" stroke="#F9C766" stroke-width="1.05" />
<path d="M247.79,198.5 A98,98 0 0 1 245.6,203.33" stroke="#F9C766" stroke-width="1.05" fill="none" stroke-linecap="square"/>
<line x1="239.44" y1="197.62" x2="246.73" y2="200.93" stroke="#F9C766" stroke-width="1.05" />
<path d="M242.19,190.85 A90,90 0 0 1 239.44,197.62" stroke="#F9C766" stroke-width="1.05" fill="none" stroke-linecap="square"/>
<line x1="226.06" y1="188.24" x2="240.89" y2="194.26" stroke="#F9C766" stroke-width="1.05" />
<line x1="237.9" y1="205.12" x2="256.25" y2="215.33" stroke="#F9C766" stroke-width="1.05" />
<line x1="242.13" y1="213.67" x2="253.13" y2="220.59" stroke="#F9C766" stroke-width="1.05" />
<line x1="239.12" y1="218.17" x2="249.74" y2="225.68" stroke="#F9C766" stroke-width="1.05" />
<path d="M242.13,213.67 A100,100 0 0 1 239.12,218.17" stroke="#F9C766" stroke-width="1.05" fill="none" stroke-linecap="square"/>
<line x1="234.01" y1="211.5" x2="240.66" y2="215.94" stroke="#F9C766" stroke-width="1.05" />
<path d="M237.9,205.12 A92,92 0 0 1 234.01,211.5" stroke="#F9C766" stroke-width="1.05" fill="none" stroke-linecap="square"/>
<line x1="223.22" y1="200.53" x2="236.02" y2="208.35" stroke="#F9C766" stroke-width="1.05" />
<line x1="224.51" y1="213.5" x2="246.07" y2="230.58" stroke="#F9C766" stroke-width="1.05" />
<line x1="224.4" y1="219.58" x2="242.14" y2="235.27" stroke="#F9C766" stroke-width="1.05" />
<line x1="221.1" y1="223.11" x2="237.96" y2="239.74" stroke="#F9C766" stroke-width="1.05" />
<path d="M224.4,219.58 A89.32,89.32 0 0 1 221.1,223.11" stroke="#F9C766" stroke-width="1.05" fill="none" stroke-linecap="square"/>
<line x1="219.98" y1="218.76" x2="222.77" y2="221.37" stroke="#F9C766" stroke-width="1.05" />
<path d="M224.51,213.5 A85.5,85.5 0 0 1 219.98,218.76" stroke="#F9C766" stroke-width="1.05" fill="none" stroke-linecap="square"/>
<line x1="220.41" y1="214.55" x2="222.3" y2="216.18" stroke="#F9C766" stroke-width="1.05" />
<line x1="221.97" y1="231.26" x2="233.55" y2="243.98" stroke="#F9C766" stroke-width="1.05" />
<line x1="218.04" y1="234.65" x2="228.91" y2="247.97" stroke="#F9C766" stroke-width="1.05" />
<path d="M221.97,231.26 A95.8,95.8 0 0 1 218.04,234.65" stroke="#F9C766" stroke-width="1.05" fill="none" stroke-linecap="square"/>
<line x1="218.4" y1="231.08" x2="220.03" y2="232.98" stroke="#F9C766" stroke-width="1.05" />
<line x1="212.46" y1="235.79" x2="224.07" y2="251.71" stroke="#F9C766" stroke-width="1.05" />
<path d="M218.4,231.08 A93.3,93.3 0 0 1 212.46,235.79" stroke="#F9C766" stroke-width="1.05" fill="none" stroke-linecap="square"/>
<line x1="213.2" y1="230.62" x2="215.48" y2="233.5" stroke="#F9C766" stroke-width="1.05" />
<line x1="206.3" y1="235.58" x2="219.03" y2="255.18" stroke="#F9C766" stroke-width="1.05" />
<path d="M213.2,230.62 A89.63,89.63 0 0 1 206.3,235.58" stroke="#F9C766" stroke-width="1.05" fill="none" stroke-linecap="square"/>
<line x1="208.35" y1="231.15" x2="209.81" y2="233.18" stroke="#F9C766" stroke-width="1.05" />
<line x1="200.92" y1="235.94" x2="213.81" y2="258.37" stroke="#F9C766" stroke-width="1.05" />
<path d="M208.35,231.15 A87.13,87.13 0 0 1 200.92,235.94" stroke="#F9C766" stroke-width="1.05" fill="none" stroke-linecap="square"/>
<line x1="202.46" y1="230.17" x2="204.69" y2="233.64" stroke="#F9C766" stroke-width="1.05" />
<path d="M220.41,214.55 A83,83 0 0 1 202.46,230.17" stroke="#F9C766" stroke-width="1.05" fill="none" stroke-linecap="square"/>
<line x1="208.06" y1="218.48" x2="211.99" y2="223" stroke="#F9C766" stroke-width="1.05" />
<path d="M223.22,200.53 A77,77 0 0 1 208.06,218.48" stroke="#F9C766" stroke-width="1.05" fill="none" stroke-linecap="square"/>
<line x1="215.81" y1="205.96" x2="218.18" y2="207.81" stroke="#F9C766" stroke-width="1.05" />
<path d="M226.06,188.24 A74,74 0 0 1 215.81,205.96" stroke="#F9C766" stroke-width="1.05" fill="none" stroke-linecap="square"/>
<line x1="221.22" y1="196.01" x2="222.1" y2="196.5" stroke="#F9C766" stroke-width="1.05" />
<path d="M228.9,175.6 A73,73 0 0 1 221.22,196.01" stroke="#F9C766" stroke-width="1.05" fill="none" stroke-linecap="square"/>
<line x1="225.59" y1="176.62" x2="228.51" y2="177.32" stroke="#F9C766" stroke-width="1.05" />
<path d="M224.75,140.99 A70,70 0 0 1 225.59,176.62" stroke="#F9C766" stroke-width="1.05" fill="none" stroke-linecap="square"/>
<line x1="212.26" y1="144.59" x2="224.75" y2="140.99" stroke="#F9C766" stroke-width="1.05" />
<path d="M203.02,126.1 A57,57 0 0 1 212.26,144.59" stroke="#F9C766" stroke-width="1.05" fill="none" stroke-linecap="square"/>
<line x1="201.85" y1="137.31" x2="208.06" y2="134.08" stroke="#F9C766" stroke-width="1.05" />
<line x1="171.7" y1="259.39" x2="173.55" y2="272.25" stroke="#31B7D9" stroke-width="1.05" />
<line x1="166.33" y1="260.01" x2="167.47" y2="272.96" stroke="#31B7D9" stroke-width="1.05" />
<path d="M171.7,259.39 A100,100 0 0 1 166.33,260.01" stroke="#31B7D9" stroke-width="1.05" fill="none" stroke-linecap="square"/>
<line x1="168.1" y1="251.79" x2="169.02" y2="259.73" stroke="#31B7D9" stroke-width="1.05" />
<line x1="175.48" y1="250.63" x2="179.58" y2="271.22" stroke="#31B7D9" stroke-width="1.05" />
<path d="M175.48,250.63 A92,92 0 0 1 168.1,251.79" stroke="#31B7D9" stroke-width="1.05" fill="none" stroke-linecap="square"/>
<line x1="170.4" y1="242.39" x2="171.8" y2="251.28" stroke="#31B7D9" stroke-width="1.05" />
<line x1="178.1" y1="240.8" x2="185.55" y2="269.86" stroke="#31B7D9" stroke-width="1.05" />
<path d="M178.1,240.8 A83,83 0 0 1 170.4,242.39" stroke="#31B7D9" stroke-width="1.05" fill="none" stroke-linecap="square"/>
<line x1="172.45" y1="232.87" x2="174.27" y2="241.69" stroke="#31B7D9" stroke-width="1.05" />
<line x1="192.65" y1="254.02" x2="197.22" y2="266.19" stroke="#31B7D9" stroke-width="1.05" />
<line x1="187.53" y1="255.78" x2="191.43" y2="268.18" stroke="#31B7D9" stroke-width="1.05" />
<path d="M192.65,254.02 A100,100 0 0 1 187.53,255.78" stroke="#31B7D9" stroke-width="1.05" fill="none" stroke-linecap="square"/>
<line x1="186.19" y1="243.59" x2="190.1" y2="254.94" stroke="#31B7D9" stroke-width="1.05" />
<line x1="200.76" y1="246.1" x2="208.42" y2="261.28" stroke="#31B7D9" stroke-width="1.05" />
<line x1="196.06" y1="248.32" x2="202.89" y2="263.88" stroke="#31B7D9" stroke-width="1.05" />
<path d="M200.76,246.1 A96,96 0 0 1 196.06,248.32" stroke="#31B7D9" stroke-width="1.05" fill="none" stroke-linecap="square"/>
<line x1="195.01" y1="240" x2="198.42" y2="247.24" stroke="#31B7D9" stroke-width="1.05" />
<path d="M195.01,240 A88,88 0 0 1 186.19,243.59" stroke="#31B7D9" stroke-width="1.05" fill="none" stroke-linecap="square"/>
<line x1="185.38" y1="228.95" x2="190.65" y2="241.92" stroke="#31B7D9" stroke-width="1.05" />
<path d="M185.38,228.95 A74,74 0 0 1 172.45,232.87" stroke="#31B7D9" stroke-width="1.05" fill="none" stroke-linecap="square"/>
<line x1="173.48" y1="213.03" x2="179" y2="231.21" stroke="#31B7D9" stroke-width="1.05" />
<line x1="161.06" y1="264.34" x2="161.36" y2="273.33" stroke="#3E8E88" stroke-width="1.05" />
<line x1="155.43" y1="264.38" x2="155.25" y2="273.38" stroke="#3E8E88" stroke-width="1.05" />
<path d="M161.06,264.34 A104,104 0 0 1 155.43,264.38" stroke="#3E8E88" stroke-width="1.05" fill="none" stroke-linecap="square"/>
<line x1="158.02" y1="234" x2="158.24" y2="264.4" stroke="#3E8E88" stroke-width="1.05" />
<line x1="150.01" y1="261.23" x2="149.13" y2="273.09" stroke="#3C67B6" stroke-width="1.05" />
<line x1="144.57" y1="260.68" x2="143.05" y2="272.47" stroke="#3C67B6" stroke-width="1.05" />
<path d="M150.01,261.23 A101.11,101.11 0 0 1 144.57,260.68" stroke="#3C67B6" stroke-width="1.05" fill="none" stroke-linecap="square"/>
<line x1="147.6" y1="257.9" x2="147.29" y2="260.99" stroke="#3C67B6" stroke-width="1.05" />
<line x1="139.1" y1="260.13" x2="137" y2="271.53" stroke="#3C67B6" stroke-width="1.05" />
<line x1="133.73" y1="258.99" x2="131.02" y2="270.25" stroke="#3C67B6" stroke-width="1.05" />
<path d="M139.1,260.13 A101.41,101.41 0 0 1 133.73,258.99" stroke="#3C67B6" stroke-width="1.05" fill="none" stroke-linecap="square"/>
<line x1="137.12" y1="256.26" x2="136.41" y2="259.6" stroke="#3C67B6" stroke-width="1.05" />
<path d="M147.6,257.9 A98,98 0 0 1 137.12,256.26" stroke="#3C67B6" stroke-width="1.05" fill="none" stroke-linecap="square"/>
<line x1="144.66" y1="242.4" x2="142.34" y2="257.22" stroke="#3C67B6" stroke-width="1.05" />
<line x1="130.41" y1="250.93" x2="125.11" y2="268.66" stroke="#3C67B6" stroke-width="1.05" />
<line x1="123.85" y1="254.07" x2="119.29" y2="266.75" stroke="#3C67B6" stroke-width="1.05" />
<line x1="118.83" y1="252.11" x2="113.59" y2="264.52" stroke="#3C67B6" stroke-width="1.05" />
<path d="M123.85,254.07 A99.53,99.53 0 0 1 118.83,252.11" stroke="#3C67B6" stroke-width="1.05" fill="none" stroke-linecap="square"/>
<line x1="122.23" y1="250.8" x2="121.32" y2="253.12" stroke="#3C67B6" stroke-width="1.05" />
<line x1="115.01" y1="247.64" x2="108.02" y2="261.99" stroke="#3C67B6" stroke-width="1.05" />
<path d="M122.23,250.8 A97.03,97.03 0 0 1 115.01,247.64" stroke="#3C67B6" stroke-width="1.05" fill="none" stroke-linecap="square"/>
<line x1="119.61" y1="246.97" x2="118.59" y2="249.29" stroke="#3C67B6" stroke-width="1.05" />
<path d="M130.41,250.93 A94.5,94.5 0 0 1 119.61,246.97" stroke="#3C67B6" stroke-width="1.05" fill="none" stroke-linecap="square"/>
<line x1="125.81" y1="246.77" x2="124.95" y2="249.12" stroke="#3C67B6" stroke-width="1.05" />
<line x1="110.14" y1="245.59" x2="102.6" y2="259.17" stroke="#3C67B6" stroke-width="1.05" />
<line x1="105.6" y1="242.9" x2="97.33" y2="256.05" stroke="#3C67B6" stroke-width="1.05" />
<path d="M110.14,245.59 A97.47,97.47 0 0 1 105.6,242.9" stroke="#3C67B6" stroke-width="1.05" fill="none" stroke-linecap="square"/>
<line x1="110.64" y1="239.57" x2="107.85" y2="244.28" stroke="#3C67B6" stroke-width="1.05" />
<path d="M125.81,246.77 A92,92 0 0 1 110.64,239.57" stroke="#3C67B6" stroke-width="1.05" fill="none" stroke-linecap="square"/>
<line x1="120.63" y1="238.1" x2="118.06" y2="243.52" stroke="#3C67B6" stroke-width="1.05" />
<line x1="105.52" y1="233.87" x2="92.24" y2="252.65" stroke="#3C67B6" stroke-width="1.05" />
<line x1="100.07" y1="232.91" x2="87.34" y2="248.98" stroke="#3C67B6" stroke-width="1.05" />
<line x1="92.92" y1="233.44" x2="82.65" y2="245.06" stroke="#3C67B6" stroke-width="1.05" />
<line x1="87.3" y1="231.62" x2="78.18" y2="240.88" stroke="#3C67B6" stroke-width="1.05" />
<line x1="83.55" y1="227.72" x2="73.94" y2="236.47" stroke="#3C67B6" stroke-width="1.05" />
<path d="M87.3,231.62 A100,100 0 0 1 83.55,227.72" stroke="#3C67B6" stroke-width="1.05" fill="none" stroke-linecap="square"/>
<line x1="87.2" y1="227.96" x2="85.4" y2="229.69" stroke="#3C67B6" stroke-width="1.05" />
<path d="M92.92,233.44 A97.5,97.5 0 0 1 87.2,227.96" stroke="#3C67B6" stroke-width="1.05" fill="none" stroke-linecap="square"/>
<line x1="91.74" y1="228.96" x2="90" y2="230.76" stroke="#3C67B6" stroke-width="1.05" />
<line x1="83.89" y1="220.45" x2="69.94" y2="231.83" stroke="#3C67B6" stroke-width="1.05" />
<path d="M91.74,228.96 A95,95 0 0 1 83.89,220.45" stroke="#3C67B6" stroke-width="1.05" fill="none" stroke-linecap="square"/>
<line x1="89.52" y1="223.13" x2="87.68" y2="224.83" stroke="#3C67B6" stroke-width="1.05" />
<path d="M100.07,232.91 A92.5,92.5 0 0 1 89.52,223.13" stroke="#3C67B6" stroke-width="1.05" fill="none" stroke-linecap="square"/>
<line x1="96.3" y1="226.39" x2="94.6" y2="228.23" stroke="#3C67B6" stroke-width="1.05" />
<path d="M105.52,233.87 A90,90 0 0 1 96.3,226.39" stroke="#3C67B6" stroke-width="1.05" fill="none" stroke-linecap="square"/>
<line x1="103.31" y1="227.18" x2="100.79" y2="230.29" stroke="#3C67B6" stroke-width="1.05" />
<path d="M120.63,238.1 A86,86 0 0 1 103.31,227.18" stroke="#3C67B6" stroke-width="1.05" fill="none" stroke-linecap="square"/>
<line x1="113.24" y1="230.62" x2="111.65" y2="233.16" stroke="#3C67B6" stroke-width="1.05" />
<path d="M144.66,242.4 A83,83 0 0 1 113.24,230.62" stroke="#3C67B6" stroke-width="1.05" fill="none" stroke-linecap="square"/>
<line x1="139.5" y1="238.35" x2="138.83" y2="241.27" stroke="#3C67B6" stroke-width="1.05" />
<line x1="79.07" y1="217.61" x2="66.2" y2="226.99" stroke="#3C67B6" stroke-width="1.05" />
<line x1="76.09" y1="213.28" x2="62.73" y2="221.95" stroke="#3C67B6" stroke-width="1.05" />
<path d="M79.07,217.61 A97.08,97.08 0 0 1 76.09,213.28" stroke="#3C67B6" stroke-width="1.05" fill="none" stroke-linecap="square"/>
<line x1="79.67" y1="214" x2="77.55" y2="215.46" stroke="#3C67B6" stroke-width="1.05" />
<line x1="73.41" y1="208.75" x2="59.54" y2="216.73" stroke="#3C67B6" stroke-width="1.05" />
<line x1="68.52" y1="205.34" x2="56.64" y2="211.34" stroke="#3C67B6" stroke-width="1.05" />
<line x1="66.22" y1="200.46" x2="54.03" y2="205.81" stroke="#3C67B6" stroke-width="1.05" />
<path d="M68.52,205.34 A99.69,99.69 0 0 1 66.22,200.46" stroke="#3C67B6" stroke-width="1.05" fill="none" stroke-linecap="square"/>
<line x1="69.76" y1="201.77" x2="67.33" y2="202.92" stroke="#3C67B6" stroke-width="1.05" />
<path d="M73.41,208.75 A97,97 0 0 1 69.76,201.77" stroke="#3C67B6" stroke-width="1.05" fill="none" stroke-linecap="square"/>
<line x1="73.73" y1="204.14" x2="71.52" y2="205.3" stroke="#3C67B6" stroke-width="1.05" />
<path d="M79.67,214 A94.5,94.5 0 0 1 73.73,204.14" stroke="#3C67B6" stroke-width="1.05" fill="none" stroke-linecap="square"/>
<line x1="78.69" y1="207.87" x2="76.55" y2="209.16" stroke="#3C67B6" stroke-width="1.05" />
<line x1="71.38" y1="192.76" x2="51.72" y2="200.14" stroke="#3C67B6" stroke-width="1.05" />
<path d="M78.69,207.87 A92,92 0 0 1 71.38,192.76" stroke="#3C67B6" stroke-width="1.05" fill="none" stroke-linecap="square"/>
<line x1="80.09" y1="197.87" x2="74.69" y2="200.48" stroke="#3C67B6" stroke-width="1.05" />
<line x1="64.03" y1="189.85" x2="49.72" y2="194.36" stroke="#3C67B6" stroke-width="1.05" />
<line x1="62.57" y1="184.75" x2="48.04" y2="188.47" stroke="#3C67B6" stroke-width="1.05" />
<path d="M64.03,189.85 A98,98 0 0 1 62.57,184.75" stroke="#3C67B6" stroke-width="1.05" fill="none" stroke-linecap="square"/>
<line x1="65.67" y1="186.62" x2="63.27" y2="187.31" stroke="#3C67B6" stroke-width="1.05" />
<line x1="61.39" y1="179.57" x2="46.68" y2="182.51" stroke="#3C67B6" stroke-width="1.05" />
<line x1="60.5" y1="174.34" x2="45.65" y2="176.48" stroke="#3C67B6" stroke-width="1.05" />
<path d="M61.39,179.57 A98,98 0 0 1 60.5,174.34" stroke="#3C67B6" stroke-width="1.05" fill="none" stroke-linecap="square"/>
<line x1="63.37" y1="176.54" x2="60.91" y2="176.96" stroke="#3C67B6" stroke-width="1.05" />
<path d="M65.67,186.62 A95.5,95.5 0 0 1 63.37,176.54" stroke="#3C67B6" stroke-width="1.05" fill="none" stroke-linecap="square"/>
<line x1="66.82" y1="181.06" x2="64.39" y2="181.61" stroke="#3C67B6" stroke-width="1.05" />
<line x1="64.86" y1="168.63" x2="44.94" y2="170.4" stroke="#3C67B6" stroke-width="1.05" />
<path d="M66.82,181.06 A93,93 0 0 1 64.86,168.63" stroke="#3C67B6" stroke-width="1.05" fill="none" stroke-linecap="square"/>
<line x1="70.57" y1="174.1" x2="65.63" y2="174.88" stroke="#3C67B6" stroke-width="1.05" />
<line x1="59.68" y1="163.77" x2="44.57" y2="164.29" stroke="#3C67B6" stroke-width="1.05" />
<line x1="59.64" y1="158.47" x2="44.52" y2="158.17" stroke="#3C67B6" stroke-width="1.05" />
<path d="M59.68,163.77 A97.88,97.88 0 0 1 59.64,158.47" stroke="#3C67B6" stroke-width="1.05" fill="none" stroke-linecap="square"/>
<line x1="63.5" y1="161.09" x2="59.62" y2="161.12" stroke="#3C67B6" stroke-width="1.05" />
<line x1="60.76" y1="153.24" x2="44.81" y2="152.06" stroke="#3C67B6" stroke-width="1.05" />
<line x1="58.56" y1="147.66" x2="45.42" y2="145.97" stroke="#3C67B6" stroke-width="1.05" />
<line x1="59.39" y1="142.32" x2="46.37" y2="139.93" stroke="#3C67B6" stroke-width="1.05" />
<path d="M58.56,147.66 A99.76,99.76 0 0 1 59.39,142.32" stroke="#3C67B6" stroke-width="1.05" fill="none" stroke-linecap="square"/>
<line x1="61.66" y1="145.41" x2="58.94" y2="144.99" stroke="#3C67B6" stroke-width="1.05" />
<path d="M60.76,153.24 A97.01,97.01 0 0 1 61.66,145.41" stroke="#3C67B6" stroke-width="1.05" fill="none" stroke-linecap="square"/>
<line x1="64.12" y1="149.66" x2="61.13" y2="149.32" stroke="#3C67B6" stroke-width="1.05" />
<path d="M63.5,161.09 A94,94 0 0 1 64.12,149.66" stroke="#3C67B6" stroke-width="1.05" fill="none" stroke-linecap="square"/>
<line x1="69.63" y1="155.69" x2="63.63" y2="155.37" stroke="#3C67B6" stroke-width="1.05" />
<path d="M70.57,174.1 A88,88 0 0 1 69.63,155.69" stroke="#3C67B6" stroke-width="1.05" fill="none" stroke-linecap="square"/>
<line x1="71.5" y1="160.4" x2="69.5" y2="160.4" stroke="#3C67B6" stroke-width="1.05" />
<path d="M83.02,203.4 A86,86 0 0 1 71.5,160.4" stroke="#3C67B6" stroke-width="1.05" fill="none" stroke-linecap="square"/>
<line x1="88.22" y1="200.4" x2="83.02" y2="203.4" stroke="#3C67B6" stroke-width="1.05" />
<path d="M139.5,238.35 A80,80 0 0 1 88.22,200.4" stroke="#3C67B6" stroke-width="1.05" fill="none" stroke-linecap="square"/>
<line x1="114.24" y1="219.94" x2="110.48" y2="225.12" stroke="#3C67B6" stroke-width="1.05" />
<path d="M154.71,159.31 A3,3 0 0 1 157.71,157.41" stroke="#1a1a1a" stroke-width="1.05" fill="none" stroke-linecap="square"/>
<line x1="157.71" y1="157.41" x2="158.96" y2="139.45" stroke="#1a1a1a" stroke-width="1.05" />
<path d="M144.46,143.94 A21,21 0 0 1 172.86,146.08" stroke="#1a1a1a" stroke-width="1.05" fill="none" stroke-linecap="square"/>
<line x1="172.86" y1="146.08" x2="183.46" y2="136.19" stroke="#1a1a1a" stroke-width="1.05" />
<path d="M149.64,125.78 A35.5,35.5 0 0 1 192.12,168.26" stroke="#1a1a1a" stroke-width="1.05" fill="none" stroke-linecap="square"/>
<line x1="192.12" y1="168.26" x2="204.31" y2="171.03" stroke="#1a1a1a" stroke-width="1.05" />
<path d="M157.16,112.4 A48,48 0 0 1 159.18,208.37" stroke="#1a1a1a" stroke-width="1.05" fill="none" stroke-linecap="square"/>
<line x1="157.16" y1="112.4" x2="157.11" y2="104.4" stroke="#1a1a1a" stroke-width="1.05" />
<path d="M151.83,104.69 A56,56 0 0 1 161.97,104.58" stroke="#1a1a1a" stroke-width="1.05" fill="none" stroke-linecap="square"/>
<path d="M185.06,116.3 A52,52 0 0 1 203.62,136.39" stroke="#1a1a1a" stroke-width="1.05" fill="none" stroke-linecap="square"/>
<line x1="182.94" y1="119.69" x2="185.06" y2="116.3" stroke="#1a1a1a" stroke-width="1.05" />
<line x1="200.08" y1="138.24" x2="201.85" y2="137.31" stroke="#1a1a1a" stroke-width="1.05" />
<line x1="159.18" y1="208.37" x2="159.42" y2="215.37" stroke="#1a1a1a" stroke-width="1.05" />
<path d="M173.48,213.03 A55,55 0 0 1 141.42,213" stroke="#1a1a1a" stroke-width="1.05" fill="none" stroke-linecap="square"/>
<line x1="141.42" y1="213" x2="135.98" y2="230.78" stroke="#1a1a1a" stroke-width="1.05" />
<path d="M158.02,234 A73.6,73.6 0 0 1 114.24,219.94" stroke="#1a1a1a" stroke-width="1.05" fill="none" stroke-linecap="square"/>
<text x="302.6" y="20.8" font-size="18.6" text-anchor="start" font-weight="bold" font-style="normal" fill="#1a1a1a" stroke="#1a1a1a" stroke-width="0" >B</text>
<line x1="356.2" y1="14" x2="356.2" y2="303.8" stroke="#222" stroke-width="1.1" />
<line x1="355.7" y1="303.3" x2="495.5" y2="303.3" stroke="#222" stroke-width="1.1" />
<line x1="353.2" y1="259.5" x2="356.2" y2="259.5" stroke="#222" stroke-width="1" />
<text x="350.6" y="263.4" font-size="11.3" text-anchor="end" font-weight="normal" font-style="normal" fill="#333" stroke="#333" stroke-width="0.25" >5</text>
<line x1="353.2" y1="187.1" x2="356.2" y2="187.1" stroke="#222" stroke-width="1" />
<text x="350.6" y="191" font-size="11.3" text-anchor="end" font-weight="normal" font-style="normal" fill="#333" stroke="#333" stroke-width="0.25" >10</text>
<line x1="353.2" y1="114.7" x2="356.2" y2="114.7" stroke="#222" stroke-width="1" />
<text x="350.6" y="118.6" font-size="11.3" text-anchor="end" font-weight="normal" font-style="normal" fill="#333" stroke="#333" stroke-width="0.25" >15</text>
<line x1="353.2" y1="42.3" x2="356.2" y2="42.3" stroke="#222" stroke-width="1" />
<text x="350.6" y="46.2" font-size="11.3" text-anchor="end" font-weight="normal" font-style="normal" fill="#333" stroke="#333" stroke-width="0.25" >20</text>
<line x1="394.2" y1="303.3" x2="394.2" y2="306.3" stroke="#222" stroke-width="1" />
<text x="394.2" y="317.2" font-size="11.3" text-anchor="middle" font-weight="normal" font-style="normal" fill="#333" stroke="#333" stroke-width="0.25" >0</text>
<line x1="457.7" y1="303.3" x2="457.7" y2="306.3" stroke="#222" stroke-width="1" />
<text x="457.7" y="317.2" font-size="11.3" text-anchor="middle" font-weight="normal" font-style="normal" fill="#333" stroke="#333" stroke-width="0.25" >1</text>
<text x="425.5" y="330.3" font-size="12.1" text-anchor="middle" font-weight="normal" font-style="normal" fill="#222" stroke="#222" stroke-width="0.25" >Classification</text>
<text x="331" y="151.9" font-size="11.1" text-anchor="middle" font-weight="normal" font-style="normal" fill="#222" stroke="#222" stroke-width="0.25" transform="rotate(-90 331.0 151.9)" ><tspan font-style="italic">MNT</tspan> copy #</text>
<line x1="394.15" y1="173.34" x2="394.15" y2="230.54" stroke="#222" stroke-width="1.1" />
<line x1="394.15" y1="273.98" x2="394.15" y2="289.18" stroke="#222" stroke-width="1.1" />
<rect x="371.8" y="230.54" width="44.7" height="43.44" fill="none" stroke="#222" stroke-width="1.1" />
<line x1="371.8" y1="259.5" x2="416.5" y2="259.5" stroke="#111" stroke-width="2.2" />
<line x1="457.4" y1="158.86" x2="457.4" y2="201.58" stroke="#222" stroke-width="1.1" />
<line x1="457.4" y1="245.02" x2="457.4" y2="273.98" stroke="#222" stroke-width="1.1" />
<rect x="435.2" y="201.58" width="44.4" height="43.44" fill="none" stroke="#222" stroke-width="1.1" />
<line x1="435.2" y1="230.54" x2="479.6" y2="230.54" stroke="#111" stroke-width="2.2" />
<circle cx="394.1" cy="158.3" r="2.35" fill="#000000"/>
<circle cx="391.8" cy="161.2" r="2.35" fill="#EF8535"/>
<circle cx="402.7" cy="167.5" r="2.35" fill="#EF8535"/>
<circle cx="405.6" cy="167.5" r="2.35" fill="#EF8535"/>
<circle cx="387.5" cy="172.4" r="2.35" fill="#EF8535"/>
<circle cx="394.7" cy="174.4" r="2.35" fill="#EF8535"/>
<circle cx="388.6" cy="205" r="2.35" fill="#EF8535"/>
<circle cx="401.8" cy="201.6" r="2.35" fill="#EF8535"/>
<circle cx="406.1" cy="204.7" r="2.35" fill="#EF8535"/>
<circle cx="383.2" cy="215.7" r="2.35" fill="#FBD024"/>
<circle cx="393" cy="217" r="2.35" fill="#FBD024"/>
<circle cx="401" cy="215.7" r="2.35" fill="#FBD024"/>
<circle cx="382.4" cy="220.2" r="2.35" fill="#33B6E0"/>
<circle cx="400" cy="221.4" r="2.35" fill="#33B6E0"/>
<circle cx="385.5" cy="226.4" r="2.35" fill="#EF8535"/>
<circle cx="392.7" cy="232.2" r="2.35" fill="#6B3A12"/>
<circle cx="388.9" cy="242" r="2.35" fill="#B0559F"/>
<circle cx="393.5" cy="240.3" r="2.35" fill="#E83A36"/>
<circle cx="396.5" cy="240.6" r="2.35" fill="#FBD024"/>
<circle cx="403" cy="242" r="2.35" fill="#3A5BA9"/>
<circle cx="401.3" cy="244.6" r="2.35" fill="#FBD024"/>
<circle cx="385.8" cy="246.7" r="2.35" fill="#3A5BA9"/>
<circle cx="395.3" cy="246" r="2.35" fill="#3A5BA9"/>
<circle cx="396.1" cy="247.7" r="2.35" fill="#3A5BA9"/>
<circle cx="395.3" cy="251.5" r="2.35" fill="#3A5BA9"/>
<circle cx="386.8" cy="254" r="2.35" fill="#E8368F"/>
<circle cx="395.3" cy="255" r="2.35" fill="#E83A36"/>
<circle cx="392.3" cy="256.3" r="2.35" fill="#3A5BA9"/>
<circle cx="387.5" cy="258" r="2.35" fill="#E83A36"/>
<circle cx="401.3" cy="256.6" r="2.35" fill="#FBD024"/>
<circle cx="395.3" cy="258.7" r="2.35" fill="#3A5BA9"/>
<circle cx="401" cy="260" r="2.35" fill="#3A5BA9"/>
<circle cx="405.6" cy="261.8" r="2.35" fill="#3A5BA9"/>
<circle cx="382" cy="262.7" r="2.35" fill="#B0559F"/>
<circle cx="385.8" cy="264.4" r="2.35" fill="#3A5BA9"/>
<circle cx="388.4" cy="262.7" r="2.35" fill="#FBD024"/>
<circle cx="396.6" cy="263.9" r="2.35" fill="#FBD024"/>
<circle cx="393.7" cy="269.5" r="2.35" fill="#E8368F"/>
<circle cx="395.3" cy="271.3" r="2.35" fill="#3A5BA9"/>
<circle cx="403.3" cy="270.9" r="2.35" fill="#FBD024"/>
<circle cx="396.5" cy="273.5" r="2.35" fill="#3A5BA9"/>
<circle cx="393.5" cy="272.5" r="2.35" fill="#FBD024"/>
<circle cx="403.9" cy="275.6" r="2.35" fill="#FBD024"/>
<circle cx="405.6" cy="277.3" r="2.35" fill="#3A5BA9"/>
<circle cx="384.1" cy="279.3" r="2.35" fill="#148D80"/>
<circle cx="386.7" cy="279.3" r="2.35" fill="#E8368F"/>
<circle cx="389.6" cy="279.3" r="2.35" fill="#FBD024"/>
<circle cx="393" cy="278.7" r="2.35" fill="#3A5BA9"/>
<circle cx="397.5" cy="279" r="2.35" fill="#FBD024"/>
<circle cx="403" cy="279" r="2.35" fill="#3A5BA9"/>
<circle cx="395.3" cy="281" r="2.35" fill="#5D4D9A"/>
<circle cx="398.2" cy="291" r="2.35" fill="#148D80"/>
<circle cx="449.1" cy="157.7" r="2.35" fill="#3A5BA9"/>
<circle cx="452.2" cy="159.8" r="2.35" fill="#3A5BA9"/>
<circle cx="446" cy="160.8" r="2.35" fill="#E83A36"/>
<circle cx="458.7" cy="160.7" r="2.35" fill="#EF8535"/>
<circle cx="465.1" cy="168.9" r="2.35" fill="#3A5BA9"/>
<circle cx="464.2" cy="175.8" r="2.35" fill="#3A5BA9"/>
<circle cx="462.5" cy="177.2" r="2.35" fill="#3A5BA9"/>
<circle cx="446.5" cy="184.9" r="2.35" fill="#EF8535"/>
<circle cx="455.4" cy="188.9" r="2.35" fill="#EF8535"/>
<circle cx="449.4" cy="191.3" r="2.35" fill="#EF8535"/>
<circle cx="465.1" cy="190.6" r="2.35" fill="#3A5BA9"/>
<circle cx="466.8" cy="196.8" r="2.35" fill="#33B6E0"/>
<circle cx="469.7" cy="198.5" r="2.35" fill="#EF8535"/>
<circle cx="464.9" cy="200.2" r="2.35" fill="#3A5BA9"/>
<circle cx="459.9" cy="202.6" r="2.35" fill="#EF8535"/>
<circle cx="464.6" cy="203.3" r="2.35" fill="#33B6E0"/>
<circle cx="453.9" cy="204.7" r="2.35" fill="#33B6E0"/>
<circle cx="464.6" cy="205.9" r="2.35" fill="#3A5BA9"/>
<circle cx="469.2" cy="206.1" r="2.35" fill="#EF8535"/>
<circle cx="459.7" cy="214.7" r="2.35" fill="#3A5BA9"/>
<circle cx="461.6" cy="219.7" r="2.35" fill="#6B3A12"/>
<circle cx="455.1" cy="225.7" r="2.35" fill="#3A5BA9"/>
<circle cx="457.7" cy="225.7" r="2.35" fill="#FBD024"/>
<circle cx="448.7" cy="228.8" r="2.35" fill="#FBD024"/>
<circle cx="445.3" cy="234.6" r="2.35" fill="#FBD024"/>
<circle cx="450.5" cy="235.7" r="2.35" fill="#FBD024"/>
<circle cx="455.3" cy="234.6" r="2.35" fill="#6B3A12"/>
<circle cx="459.9" cy="233.2" r="2.35" fill="#FBD024"/>
<circle cx="466.8" cy="232.9" r="2.35" fill="#FBD024"/>
<circle cx="465.4" cy="241.2" r="2.35" fill="#FBD024"/>
<circle cx="454.9" cy="242.9" r="2.35" fill="#E83A36"/>
<circle cx="459.7" cy="242.9" r="2.35" fill="#FBD024"/>
<circle cx="450.8" cy="244.6" r="2.35" fill="#FBD024"/>
<circle cx="469.4" cy="243.7" r="2.35" fill="#3A5BA9"/>
<circle cx="468.9" cy="246.3" r="2.35" fill="#E83A36"/>
<circle cx="445.1" cy="249.4" r="2.35" fill="#E83A36"/>
<circle cx="461.5" cy="248.9" r="2.35" fill="#E83A36"/>
<circle cx="449.1" cy="255.3" r="2.35" fill="#FBD024"/>
<circle cx="449.1" cy="260.1" r="2.35" fill="#FBD024"/>
<circle cx="450.1" cy="261.8" r="2.35" fill="#FBD024"/>
<circle cx="459.7" cy="258.4" r="2.35" fill="#FBD024"/>
<circle cx="468" cy="261.3" r="2.35" fill="#3A5BA9"/>
<circle cx="447.4" cy="264.7" r="2.35" fill="#3A5BA9"/>
<circle cx="466.3" cy="265.2" r="2.35" fill="#FBD024"/>
<circle cx="445.3" cy="275.6" r="2.35" fill="#E83A36"/>
<circle cx="455.6" cy="275" r="2.35" fill="#E83A36"/>
<circle cx="458.5" cy="277.8" r="2.35" fill="#E83A36"/>
<circle cx="451.7" cy="280.7" r="2.35" fill="#E83A36"/>
<circle cx="465.8" cy="276.4" r="2.35" fill="#FBD024"/>
<circle cx="457.7" cy="28" r="2.35" fill="#000000"/>
<circle cx="468.8" cy="27.4" r="2.35" fill="#33B6E0"/>
<text x="374.8" y="28.8" font-size="9.4" text-anchor="start" font-weight="normal" font-style="normal" fill="#222" stroke="#222" stroke-width="0.25" ><tspan font-style="italic">p</tspan> = 0.00031</text>
<text x="514" y="96.9" font-size="12.6" fill="#222" stroke="#222" stroke-width="0.05" letter-spacing="0.3">Order</text>
<circle cx="518.9" cy="107.1" r="3" fill="#6B3A12"/>
<text x="525.7" y="111" font-size="9.2" text-anchor="start" font-weight="normal" font-style="normal" fill="#222" stroke="#222" stroke-width="0.25" >Alaninales</text>
<circle cx="518.9" cy="120.6" r="3" fill="#8CC63F"/>
<text x="525.7" y="124.5" font-size="9.2" text-anchor="start" font-weight="normal" font-style="normal" fill="#222" stroke="#222" stroke-width="0.25" >Ascoideales</text>
<circle cx="518.9" cy="134.4" r="3" fill="#E83A36"/>
<text x="525.7" y="138.3" font-size="9.2" text-anchor="start" font-weight="normal" font-style="normal" fill="#222" stroke="#222" stroke-width="0.25" >Dipodascales</text>
<circle cx="518.9" cy="149" r="3" fill="#B0559F"/>
<text x="525.7" y="152.9" font-size="9.2" text-anchor="start" font-weight="normal" font-style="normal" fill="#222" stroke="#222" stroke-width="0.25" >Lipomycetales</text>
<circle cx="518.9" cy="162.7" r="3" fill="#33B6E0"/>
<text x="525.7" y="166.6" font-size="9.2" text-anchor="start" font-weight="normal" font-style="normal" fill="#222" stroke="#222" stroke-width="0.25" >Phaffomycetales</text>
<circle cx="518.9" cy="175.3" r="3" fill="#EF8535"/>
<text x="525.7" y="179.2" font-size="9.2" text-anchor="start" font-weight="normal" font-style="normal" fill="#222" stroke="#222" stroke-width="0.25" >Pichiales</text>
<circle cx="518.9" cy="188.3" r="3" fill="#3A5BA9"/>
<text x="525.7" y="192.2" font-size="9.2" text-anchor="start" font-weight="normal" font-style="normal" fill="#222" stroke="#222" stroke-width="0.25" >Saccharomycetales</text>
<circle cx="518.9" cy="200.5" r="3" fill="#148D80"/>
<text x="525.7" y="204.4" font-size="9.2" text-anchor="start" font-weight="normal" font-style="normal" fill="#222" stroke="#222" stroke-width="0.25" >Saccharomycodales</text>
<circle cx="518.9" cy="213.8" r="3" fill="#FBD024"/>
<text x="525.7" y="217.7" font-size="9.2" text-anchor="start" font-weight="normal" font-style="normal" fill="#222" stroke="#222" stroke-width="0.25" >Serinales</text>
<circle cx="518.9" cy="227.3" r="3" fill="#5D4D9A"/>
<text x="525.7" y="231.2" font-size="9.2" text-anchor="start" font-weight="normal" font-style="normal" fill="#222" stroke="#222" stroke-width="0.25" >Sporopachydermiales</text>
<circle cx="518.9" cy="239.4" r="3" fill="#E8368F"/>
<text x="525.7" y="243.3" font-size="9.2" text-anchor="start" font-weight="normal" font-style="normal" fill="#222" stroke="#222" stroke-width="0.25" >Trigonopsidales</text>
<text x="7.6" y="365.7" font-size="18.6" text-anchor="start" font-weight="bold" font-style="normal" fill="#1a1a1a" stroke="#1a1a1a" stroke-width="0" >C</text>
<line x1="47.6" y1="370.7" x2="47.6" y2="595.8" stroke="#222" stroke-width="1.1" />
<line x1="47.1" y1="595.3" x2="331.5" y2="595.3" stroke="#222" stroke-width="1.1" />
<line x1="44.8" y1="584.9" x2="47.6" y2="584.9" stroke="#222" stroke-width="1" />
<text x="42.3" y="588.8" font-size="11.2" text-anchor="end" font-weight="normal" font-style="normal" fill="#333" stroke="#333" stroke-width="0.25" >0.0</text>
<line x1="44.8" y1="534.1" x2="47.6" y2="534.1" stroke="#222" stroke-width="1" />
<text x="42.3" y="538" font-size="11.2" text-anchor="end" font-weight="normal" font-style="normal" fill="#333" stroke="#333" stroke-width="0.25" >0.5</text>
<line x1="44.8" y1="483.3" x2="47.6" y2="483.3" stroke="#222" stroke-width="1" />
<text x="42.3" y="487.2" font-size="11.2" text-anchor="end" font-weight="normal" font-style="normal" fill="#333" stroke="#333" stroke-width="0.25" >1.0</text>
<line x1="44.8" y1="432.5" x2="47.6" y2="432.5" stroke="#222" stroke-width="1" />
<text x="42.3" y="436.4" font-size="11.2" text-anchor="end" font-weight="normal" font-style="normal" fill="#333" stroke="#333" stroke-width="0.25" >1.5</text>
<line x1="44.8" y1="381.7" x2="47.6" y2="381.7" stroke="#222" stroke-width="1" />
<text x="42.3" y="385.6" font-size="11.2" text-anchor="end" font-weight="normal" font-style="normal" fill="#333" stroke="#333" stroke-width="0.25" >2.0</text>
<line x1="101.15" y1="595.3" x2="101.15" y2="598" stroke="#222" stroke-width="1" />
<text x="101.15" y="608.6" font-size="10.9" text-anchor="middle" font-weight="normal" font-style="normal" fill="#333" stroke="#333" stroke-width="0.25" >5</text>
<line x1="169.3" y1="595.3" x2="169.3" y2="598" stroke="#222" stroke-width="1" />
<text x="169.3" y="608.6" font-size="10.9" text-anchor="middle" font-weight="normal" font-style="normal" fill="#333" stroke="#333" stroke-width="0.25" >10</text>
<line x1="237.45" y1="595.3" x2="237.45" y2="598" stroke="#222" stroke-width="1" />
<text x="237.45" y="608.6" font-size="10.9" text-anchor="middle" font-weight="normal" font-style="normal" fill="#333" stroke="#333" stroke-width="0.25" >15</text>
<line x1="305.6" y1="595.3" x2="305.6" y2="598" stroke="#222" stroke-width="1" />
<text x="305.6" y="608.6" font-size="10.9" text-anchor="middle" font-weight="normal" font-style="normal" fill="#333" stroke="#333" stroke-width="0.25" >20</text>
<text x="198.5" y="622.6" font-size="11.2" text-anchor="middle" font-weight="normal" font-style="normal" fill="#222" stroke="#222" stroke-width="0.25" ><tspan font-style="italic">MNT</tspan> copy #</text>
<text x="22.3" y="484.5" font-size="11" text-anchor="middle" font-weight="normal" font-style="normal" fill="#222" stroke="#222" stroke-width="0.25" transform="rotate(-90 22.3 484.5)" >Relative growth in 1mM TBOOH</text>
<circle cx="60.26" cy="496.3" r="2.6" fill="#E83A36"/>
<circle cx="73.89" cy="506.6" r="2.6" fill="#E83A36"/>
<circle cx="73.89" cy="526.2" r="2.6" fill="#148D80"/>
<circle cx="73.89" cy="531.3" r="2.6" fill="#148D80"/>
<circle cx="73.89" cy="547.2" r="2.6" fill="#148D80"/>
<circle cx="73.89" cy="585" r="2.6" fill="#148D80"/>
<circle cx="87.52" cy="460.2" r="2.6" fill="#E83A36"/>
<circle cx="87.52" cy="469.5" r="2.6" fill="#FBD024"/>
<circle cx="87.52" cy="479.2" r="2.6" fill="#3A5BA9"/>
<circle cx="87.52" cy="482.9" r="2.6" fill="#E83A36"/>
<circle cx="87.52" cy="486" r="2.6" fill="#FBD024"/>
<circle cx="87.52" cy="488.5" r="2.6" fill="#FBD024"/>
<circle cx="87.52" cy="491" r="2.6" fill="#FBD024"/>
<circle cx="87.52" cy="503.5" r="2.6" fill="#FBD024"/>
<circle cx="87.52" cy="507" r="2.6" fill="#FBD024"/>
<circle cx="87.52" cy="510" r="2.6" fill="#FBD024"/>
<circle cx="87.52" cy="513" r="2.6" fill="#FBD024"/>
<circle cx="87.52" cy="516" r="2.6" fill="#FBD024"/>
<circle cx="87.52" cy="519.5" r="2.6" fill="#FBD024"/>
<circle cx="87.52" cy="523" r="2.6" fill="#FBD024"/>
<circle cx="87.52" cy="532.4" r="2.6" fill="#E83A36"/>
<circle cx="87.52" cy="538.6" r="2.6" fill="#148D80"/>
<circle cx="87.52" cy="542.7" r="2.6" fill="#FBD024"/>
<circle cx="87.52" cy="555" r="2.6" fill="#E8368F"/>
<circle cx="87.52" cy="559.8" r="2.6" fill="#FBD024"/>
<circle cx="87.52" cy="562.3" r="2.6" fill="#FBD024"/>
<circle cx="87.52" cy="567.4" r="2.6" fill="#E8368F"/>
<circle cx="87.52" cy="568.9" r="2.6" fill="#3A5BA9"/>
<circle cx="87.52" cy="585" r="2.6" fill="#FBD024"/>
<circle cx="87.52" cy="582.9" r="2.6" fill="#3A5BA9"/>
<circle cx="101.15" cy="466.4" r="2.6" fill="#3A5BA9"/>
<circle cx="101.15" cy="470.5" r="2.6" fill="#E83A36"/>
<circle cx="101.15" cy="480" r="2.6" fill="#FBD024"/>
<circle cx="101.15" cy="483" r="2.6" fill="#FBD024"/>
<circle cx="101.15" cy="486" r="2.6" fill="#FBD024"/>
<circle cx="101.15" cy="489" r="2.6" fill="#FBD024"/>
<circle cx="101.15" cy="492" r="2.6" fill="#FBD024"/>
<circle cx="101.15" cy="495" r="2.6" fill="#FBD024"/>
<circle cx="101.15" cy="498" r="2.6" fill="#FBD024"/>
<circle cx="101.15" cy="501" r="2.6" fill="#FBD024"/>
<circle cx="101.15" cy="504.5" r="2.6" fill="#FBD024"/>
<circle cx="101.15" cy="512.8" r="2.6" fill="#FBD024"/>
<circle cx="101.15" cy="514.8" r="2.6" fill="#3A5BA9"/>
<circle cx="101.15" cy="526.2" r="2.6" fill="#3A5BA9"/>
<circle cx="101.15" cy="530.3" r="2.6" fill="#EF8535"/>
<circle cx="101.15" cy="535.5" r="2.6" fill="#FBD024"/>
<circle cx="101.15" cy="541.6" r="2.6" fill="#FBD024"/>
<circle cx="101.15" cy="559.8" r="2.6" fill="#E83A36"/>
<circle cx="101.15" cy="566" r="2.6" fill="#3A5BA9"/>
<circle cx="101.15" cy="577.1" r="2.6" fill="#B0559F"/>
<circle cx="101.15" cy="585" r="2.6" fill="#FBD024"/>
<circle cx="101.15" cy="581.9" r="2.6" fill="#3A5BA9"/>
<circle cx="101.15" cy="583.9" r="2.6" fill="#E8368F"/>
<circle cx="114.78" cy="449.9" r="2.6" fill="#E83A36"/>
<circle cx="114.78" cy="467.4" r="2.6" fill="#E83A36"/>
<circle cx="114.78" cy="473.6" r="2.6" fill="#E83A36"/>
<circle cx="114.78" cy="475.7" r="2.6" fill="#E83A36"/>
<circle cx="114.78" cy="480.8" r="2.6" fill="#E83A36"/>
<circle cx="114.78" cy="484" r="2.6" fill="#FBD024"/>
<circle cx="114.78" cy="488" r="2.6" fill="#FBD024"/>
<circle cx="114.78" cy="492.2" r="2.6" fill="#3A5BA9"/>
<circle cx="114.78" cy="497.3" r="2.6" fill="#E83A36"/>
<circle cx="114.78" cy="501.4" r="2.6" fill="#FBD024"/>
<circle cx="114.78" cy="503.5" r="2.6" fill="#FBD024"/>
<circle cx="114.78" cy="509.7" r="2.6" fill="#E83A36"/>
<circle cx="114.78" cy="513.8" r="2.6" fill="#3A5BA9"/>
<circle cx="114.78" cy="519" r="2.6" fill="#E83A36"/>
<circle cx="114.78" cy="522" r="2.6" fill="#E83A36"/>
<circle cx="114.78" cy="530.3" r="2.6" fill="#3A5BA9"/>
<circle cx="114.78" cy="534.4" r="2.6" fill="#FBD024"/>
<circle cx="114.78" cy="544.1" r="2.6" fill="#3A5BA9"/>
<circle cx="114.78" cy="553" r="2.6" fill="#FBD024"/>
<circle cx="114.78" cy="556" r="2.6" fill="#FBD024"/>
<circle cx="114.78" cy="567.4" r="2.6" fill="#FBD024"/>
<circle cx="114.78" cy="576.1" r="2.6" fill="#FBD024"/>
<circle cx="114.78" cy="585" r="2.6" fill="#3A5BA9"/>
<circle cx="128.41" cy="422" r="2.6" fill="#3A5BA9"/>
<circle cx="128.41" cy="481" r="2.6" fill="#FBD024"/>
<circle cx="128.41" cy="484" r="2.6" fill="#FBD024"/>
<circle cx="128.41" cy="487" r="2.6" fill="#FBD024"/>
<circle cx="128.41" cy="490" r="2.6" fill="#FBD024"/>
<circle cx="128.41" cy="493" r="2.6" fill="#FBD024"/>
<circle cx="128.41" cy="496" r="2.6" fill="#FBD024"/>
<circle cx="128.41" cy="499" r="2.6" fill="#FBD024"/>
<circle cx="128.41" cy="502" r="2.6" fill="#FBD024"/>
<circle cx="128.41" cy="505" r="2.6" fill="#FBD024"/>
<circle cx="128.41" cy="508" r="2.6" fill="#FBD024"/>
<circle cx="128.41" cy="510.7" r="2.6" fill="#FBD024"/>
<circle cx="128.41" cy="506.6" r="2.6" fill="#3A5BA9"/>
<circle cx="128.41" cy="519.4" r="2.6" fill="#3A5BA9"/>
<circle cx="128.41" cy="529.3" r="2.6" fill="#FBD024"/>
<circle cx="128.41" cy="538.6" r="2.6" fill="#3A5BA9"/>
<circle cx="128.41" cy="544.7" r="2.6" fill="#3A5BA9"/>
<circle cx="128.41" cy="555.5" r="2.6" fill="#6B3A12"/>
<circle cx="128.41" cy="565" r="2.6" fill="#EF8535"/>
<circle cx="142.04" cy="425.7" r="2.6" fill="#E83A36"/>
<circle cx="142.04" cy="456" r="2.6" fill="#3A5BA9"/>
<circle cx="142.04" cy="460" r="2.6" fill="#3A5BA9"/>
<circle cx="142.04" cy="480.8" r="2.6" fill="#FBD024"/>
<circle cx="142.04" cy="483" r="2.6" fill="#6B3A12"/>
<circle cx="142.04" cy="488.9" r="2.6" fill="#FBD024"/>
<circle cx="142.04" cy="491.7" r="2.6" fill="#33B6E0"/>
<circle cx="142.04" cy="495.6" r="2.6" fill="#EF8535"/>
<circle cx="142.04" cy="507" r="2.6" fill="#33B6E0"/>
<circle cx="142.04" cy="510" r="2.6" fill="#33B6E0"/>
<circle cx="142.04" cy="533.5" r="2.6" fill="#33B6E0"/>
<circle cx="142.04" cy="551.6" r="2.6" fill="#EF8535"/>
<circle cx="142.04" cy="557.5" r="2.6" fill="#FBD024"/>
<circle cx="142.04" cy="584.7" r="2.6" fill="#33B6E0"/>
<circle cx="155.67" cy="441.2" r="2.6" fill="#EF8535"/>
<circle cx="155.67" cy="447.5" r="2.6" fill="#3A5BA9"/>
<circle cx="155.67" cy="473.8" r="2.6" fill="#3A5BA9"/>
<circle cx="155.67" cy="476.4" r="2.6" fill="#3A5BA9"/>
<circle cx="155.67" cy="479.3" r="2.6" fill="#EF8535"/>
<circle cx="155.67" cy="493" r="2.6" fill="#EF8535"/>
<circle cx="155.67" cy="496.5" r="2.6" fill="#EF8535"/>
<circle cx="155.67" cy="500" r="2.6" fill="#EF8535"/>
<circle cx="155.67" cy="503" r="2.6" fill="#EF8535"/>
<circle cx="155.67" cy="506" r="2.6" fill="#EF8535"/>
<circle cx="155.67" cy="481" r="2.6" fill="#33B6E0"/>
<circle cx="155.67" cy="484.5" r="2.6" fill="#33B6E0"/>
<circle cx="155.67" cy="488" r="2.6" fill="#33B6E0"/>
<circle cx="155.67" cy="491.7" r="2.6" fill="#33B6E0"/>
<circle cx="155.67" cy="501.5" r="2.6" fill="#33B6E0"/>
<circle cx="155.67" cy="511.3" r="2.6" fill="#33B6E0"/>
<circle cx="155.67" cy="521.5" r="2.6" fill="#FBD024"/>
<circle cx="155.67" cy="529.8" r="2.6" fill="#EF8535"/>
<circle cx="155.67" cy="535.9" r="2.6" fill="#EF8535"/>
<circle cx="155.67" cy="538.1" r="2.6" fill="#EF8535"/>
<circle cx="155.67" cy="539" r="2.6" fill="#33B6E0"/>
<circle cx="155.67" cy="548.3" r="2.6" fill="#33B6E0"/>
<circle cx="155.67" cy="551.6" r="2.6" fill="#EF8535"/>
<circle cx="155.67" cy="566" r="2.6" fill="#EF8535"/>
<circle cx="155.67" cy="582" r="2.6" fill="#EF8535"/>
<circle cx="155.67" cy="585.4" r="2.6" fill="#EF8535"/>
<circle cx="169.3" cy="479.7" r="2.6" fill="#3A5BA9"/>
<circle cx="169.3" cy="485" r="2.6" fill="#EF8535"/>
<circle cx="169.3" cy="489.5" r="2.6" fill="#EF8535"/>
<circle cx="169.3" cy="495" r="2.6" fill="#EF8535"/>
<circle cx="169.3" cy="496.7" r="2.6" fill="#33B6E0"/>
<circle cx="169.3" cy="501.5" r="2.6" fill="#EF8535"/>
<circle cx="169.3" cy="505.9" r="2.6" fill="#EF8535"/>
<circle cx="169.3" cy="511.3" r="2.6" fill="#EF8535"/>
<circle cx="169.3" cy="516.8" r="2.6" fill="#33B6E0"/>
<circle cx="169.3" cy="517.4" r="2.6" fill="#8CC63F"/>
<circle cx="169.3" cy="532.4" r="2.6" fill="#EF8535"/>
<circle cx="182.93" cy="443.1" r="2.6" fill="#3A5BA9"/>
<circle cx="182.93" cy="462.3" r="2.6" fill="#3A5BA9"/>
<circle cx="182.93" cy="473.2" r="2.6" fill="#3A5BA9"/>
<circle cx="182.93" cy="479.7" r="2.6" fill="#EF8535"/>
<circle cx="182.93" cy="485.2" r="2.6" fill="#EF8535"/>
<circle cx="182.93" cy="489.5" r="2.6" fill="#EF8535"/>
<circle cx="182.93" cy="491.7" r="2.6" fill="#33B6E0"/>
<circle cx="182.93" cy="496" r="2.6" fill="#EF8535"/>
<circle cx="182.93" cy="500.4" r="2.6" fill="#EF8535"/>
<circle cx="182.93" cy="516.8" r="2.6" fill="#EF8535"/>
<circle cx="182.93" cy="542.5" r="2.6" fill="#EF8535"/>
<circle cx="182.93" cy="547.7" r="2.6" fill="#EF8535"/>
<circle cx="182.93" cy="553.8" r="2.6" fill="#EF8535"/>
<circle cx="182.93" cy="584.7" r="2.6" fill="#EF8535"/>
<circle cx="196.56" cy="431.4" r="2.6" fill="#E83A36"/>
<circle cx="196.56" cy="464" r="2.6" fill="#EF8535"/>
<circle cx="196.56" cy="477.5" r="2.6" fill="#EF8535"/>
<circle cx="196.56" cy="479.7" r="2.6" fill="#EF8535"/>
<circle cx="196.56" cy="485" r="2.6" fill="#3A5BA9"/>
<circle cx="196.56" cy="486.7" r="2.6" fill="#3A5BA9"/>
<circle cx="196.56" cy="501" r="2.6" fill="#EF8535"/>
<circle cx="196.56" cy="507.6" r="2.6" fill="#33B6E0"/>
<circle cx="196.56" cy="525" r="2.6" fill="#33B6E0"/>
<circle cx="196.56" cy="549" r="2.6" fill="#EF8535"/>
<circle cx="196.56" cy="582.5" r="2.6" fill="#EF8535"/>
<circle cx="210.19" cy="498.2" r="2.6" fill="#EF8535"/>
<circle cx="319.23" cy="487.4" r="2.6" fill="#33B6E0"/>
<path d="M60.26,522.26 L66.73,521.37 L73.21,520.46 L79.68,519.53 L86.16,518.58 L92.63,517.58 L99.11,516.54 L105.58,515.43 L112.05,514.24 L118.53,512.93 L125,511.49 L131.48,509.9 L137.95,508.15 L144.43,506.26 L150.9,504.26 L157.37,502.17 L163.85,500.02 L170.32,497.81 L176.8,495.57 L183.27,493.3 L189.75,491.01 L196.22,488.71 L202.69,486.39 L209.17,484.06 L215.64,481.72 L222.12,479.37 L228.59,477.02 L235.06,474.67 L241.54,472.31 L248.01,469.95 L254.49,467.58 L260.96,465.22 L267.44,462.85 L273.91,460.47 L280.38,458.1 L286.86,455.73 L293.33,453.35 L299.81,450.97 L306.28,448.59 L312.76,446.22 L319.23,443.84 L319.23,491.2 L312.76,492.02 L306.28,492.84 L299.81,493.66 L293.33,494.49 L286.86,495.31 L280.38,496.13 L273.91,496.96 L267.44,497.79 L260.96,498.62 L254.49,499.45 L248.01,500.28 L241.54,501.12 L235.06,501.96 L228.59,502.81 L222.12,503.66 L215.64,504.51 L209.17,505.37 L202.69,506.24 L196.22,507.12 L189.75,508.02 L183.27,508.93 L176.8,509.86 L170.32,510.82 L163.85,511.81 L157.37,512.86 L150.9,513.97 L144.43,515.17 L137.95,516.48 L131.48,517.93 L125,519.53 L118.53,521.29 L112.05,523.19 L105.58,525.19 L99.11,527.28 L92.63,529.44 L86.16,531.65 L79.68,533.89 L73.21,536.16 L66.73,538.45 L60.26,540.76 Z" stroke="none" stroke-width="0" fill="#8f8f8f" fill-opacity="0.45"/>
<line x1="59.9" y1="531.6" x2="318.9" y2="467.6" stroke="#000" stroke-width="2.3" />
<text x="73" y="382.3" font-size="10.5" text-anchor="start" font-weight="normal" font-style="normal" fill="#222" stroke="#222" stroke-width="0.25" ><tspan font-style="italic">R</tspan> = 0.203, <tspan font-style="italic">p</tspan> = 3.60e-04</text>
<line x1="376.6" y1="370.7" x2="376.6" y2="595.8" stroke="#222" stroke-width="1.1" />
<line x1="376.1" y1="595.3" x2="660.8" y2="595.3" stroke="#222" stroke-width="1.1" />
<line x1="373.8" y1="584.9" x2="376.6" y2="584.9" stroke="#222" stroke-width="1" />
<text x="371.3" y="588.8" font-size="11.2" text-anchor="end" font-weight="normal" font-style="normal" fill="#333" stroke="#333" stroke-width="0.25" >0.0</text>
<line x1="373.8" y1="534.1" x2="376.6" y2="534.1" stroke="#222" stroke-width="1" />
<text x="371.3" y="538" font-size="11.2" text-anchor="end" font-weight="normal" font-style="normal" fill="#333" stroke="#333" stroke-width="0.25" >0.5</text>
<line x1="373.8" y1="483.3" x2="376.6" y2="483.3" stroke="#222" stroke-width="1" />
<text x="371.3" y="487.2" font-size="11.2" text-anchor="end" font-weight="normal" font-style="normal" fill="#333" stroke="#333" stroke-width="0.25" >1.0</text>
<line x1="373.8" y1="432.5" x2="376.6" y2="432.5" stroke="#222" stroke-width="1" />
<text x="371.3" y="436.4" font-size="11.2" text-anchor="end" font-weight="normal" font-style="normal" fill="#333" stroke="#333" stroke-width="0.25" >1.5</text>
<line x1="373.8" y1="381.7" x2="376.6" y2="381.7" stroke="#222" stroke-width="1" />
<text x="371.3" y="385.6" font-size="11.2" text-anchor="end" font-weight="normal" font-style="normal" fill="#333" stroke="#333" stroke-width="0.25" >2.0</text>
<line x1="430.5" y1="595.3" x2="430.5" y2="598" stroke="#222" stroke-width="1" />
<text x="430.5" y="608.6" font-size="10.9" text-anchor="middle" font-weight="normal" font-style="normal" fill="#333" stroke="#333" stroke-width="0.25" >5</text>
<line x1="498.5" y1="595.3" x2="498.5" y2="598" stroke="#222" stroke-width="1" />
<text x="498.5" y="608.6" font-size="10.9" text-anchor="middle" font-weight="normal" font-style="normal" fill="#333" stroke="#333" stroke-width="0.25" >10</text>
<line x1="566.5" y1="595.3" x2="566.5" y2="598" stroke="#222" stroke-width="1" />
<text x="566.5" y="608.6" font-size="10.9" text-anchor="middle" font-weight="normal" font-style="normal" fill="#333" stroke="#333" stroke-width="0.25" >15</text>
<line x1="634.5" y1="595.3" x2="634.5" y2="598" stroke="#222" stroke-width="1" />
<text x="634.5" y="608.6" font-size="10.9" text-anchor="middle" font-weight="normal" font-style="normal" fill="#333" stroke="#333" stroke-width="0.25" >20</text>
<text x="526.4" y="622.6" font-size="11.2" text-anchor="middle" font-weight="normal" font-style="normal" fill="#222" stroke="#222" stroke-width="0.25" ><tspan font-style="italic">MNT</tspan> copy #</text>
<text x="351.3" y="484.5" font-size="11" text-anchor="middle" font-weight="normal" font-style="normal" fill="#222" stroke="#222" stroke-width="0.25" transform="rotate(-90 351.3 484.5)" >Relative growth in 2mM TBOOH</text>
<circle cx="389.7" cy="518.5" r="2.6" fill="#E83A36"/>
<circle cx="403.3" cy="549" r="2.6" fill="#E83A36"/>
<circle cx="403.3" cy="576" r="2.6" fill="#148D80"/>
<circle cx="403.3" cy="584.7" r="2.6" fill="#148D80"/>
<circle cx="416.9" cy="481.9" r="2.6" fill="#FBD024"/>
<circle cx="416.9" cy="495" r="2.6" fill="#E83A36"/>
<circle cx="416.9" cy="497.1" r="2.6" fill="#E83A36"/>
<circle cx="416.9" cy="499.8" r="2.6" fill="#FBD024"/>
<circle cx="416.9" cy="525.5" r="2.6" fill="#FBD024"/>
<circle cx="416.9" cy="532" r="2.6" fill="#E83A36"/>
<circle cx="416.9" cy="534" r="2.6" fill="#FBD024"/>
<circle cx="416.9" cy="536.3" r="2.6" fill="#FBD024"/>
<circle cx="416.9" cy="538.5" r="2.6" fill="#FBD024"/>
<circle cx="416.9" cy="545" r="2.6" fill="#3A5BA9"/>
<circle cx="416.9" cy="549.4" r="2.6" fill="#3A5BA9"/>
<circle cx="416.9" cy="560" r="2.6" fill="#FBD024"/>
<circle cx="416.9" cy="571.7" r="2.6" fill="#FBD024"/>
<circle cx="416.9" cy="575.6" r="2.6" fill="#E8368F"/>
<circle cx="416.9" cy="584.3" r="2.6" fill="#FBD024"/>
<circle cx="430.5" cy="473.6" r="2.6" fill="#3A5BA9"/>
<circle cx="430.5" cy="484" r="2.6" fill="#FBD024"/>
<circle cx="430.5" cy="486.2" r="2.6" fill="#FBD024"/>
<circle cx="430.5" cy="488.4" r="2.6" fill="#FBD024"/>
<circle cx="430.5" cy="491.7" r="2.6" fill="#3A5BA9"/>
<circle cx="430.5" cy="497.8" r="2.6" fill="#FBD024"/>
<circle cx="430.5" cy="505.4" r="2.6" fill="#FBD024"/>
<circle cx="430.5" cy="522.9" r="2.6" fill="#FBD024"/>
<circle cx="430.5" cy="525.2" r="2.6" fill="#3A5BA9"/>
<circle cx="430.5" cy="527.6" r="2.6" fill="#FBD024"/>
<circle cx="430.5" cy="541.4" r="2.6" fill="#FBD024"/>
<circle cx="430.5" cy="551.6" r="2.6" fill="#FBD024"/>
<circle cx="430.5" cy="556.4" r="2.6" fill="#3A5BA9"/>
<circle cx="430.5" cy="559.9" r="2.6" fill="#FBD024"/>
<circle cx="430.5" cy="568.6" r="2.6" fill="#FBD024"/>
<circle cx="430.5" cy="584.3" r="2.6" fill="#5D4D9A"/>
<circle cx="430.5" cy="585" r="2.6" fill="#FBD024"/>
<circle cx="444.1" cy="464.5" r="2.6" fill="#E83A36"/>
<circle cx="444.1" cy="468.8" r="2.6" fill="#FBD024"/>
<circle cx="444.1" cy="473.2" r="2.6" fill="#E83A36"/>
<circle cx="444.1" cy="481.5" r="2.6" fill="#3A5BA9"/>
<circle cx="444.1" cy="489.5" r="2.6" fill="#EF8535"/>
<circle cx="444.1" cy="507" r="2.6" fill="#3A5BA9"/>
<circle cx="444.1" cy="512.4" r="2.6" fill="#FBD024"/>
<circle cx="444.1" cy="520" r="2.6" fill="#3A5BA9"/>
<circle cx="444.1" cy="523.3" r="2.6" fill="#E83A36"/>
<circle cx="444.1" cy="526" r="2.6" fill="#3A5BA9"/>
<circle cx="444.1" cy="528.7" r="2.6" fill="#FBD024"/>
<circle cx="444.1" cy="533.1" r="2.6" fill="#E83A36"/>
<circle cx="444.1" cy="539.6" r="2.6" fill="#E83A36"/>
<circle cx="444.1" cy="554.9" r="2.6" fill="#33B6E0"/>
<circle cx="444.1" cy="559.2" r="2.6" fill="#3A5BA9"/>
<circle cx="444.1" cy="566.9" r="2.6" fill="#E83A36"/>
<circle cx="444.1" cy="570.8" r="2.6" fill="#3A5BA9"/>
<circle cx="444.1" cy="584.3" r="2.6" fill="#E83A36"/>
<circle cx="444.1" cy="585" r="2.6" fill="#FBD024"/>
<circle cx="457.7" cy="463.4" r="2.6" fill="#3A5BA9"/>
<circle cx="457.7" cy="471" r="2.6" fill="#FBD024"/>
<circle cx="457.7" cy="474" r="2.6" fill="#FBD024"/>
<circle cx="457.7" cy="477" r="2.6" fill="#FBD024"/>
<circle cx="457.7" cy="495" r="2.6" fill="#FBD024"/>
<circle cx="457.7" cy="498.9" r="2.6" fill="#3A5BA9"/>
<circle cx="457.7" cy="512.8" r="2.6" fill="#E83A36"/>
<circle cx="457.7" cy="515.7" r="2.6" fill="#FBD024"/>
<circle cx="457.7" cy="521.1" r="2.6" fill="#3A5BA9"/>
<circle cx="457.7" cy="525.5" r="2.6" fill="#E83A36"/>
<circle cx="457.7" cy="524.4" r="2.6" fill="#FBD024"/>
<circle cx="457.7" cy="538.1" r="2.6" fill="#FBD024"/>
<circle cx="457.7" cy="554.9" r="2.6" fill="#FBD024"/>
<circle cx="457.7" cy="560.3" r="2.6" fill="#FBD024"/>
<circle cx="457.7" cy="577.8" r="2.6" fill="#3A5BA9"/>
<circle cx="457.7" cy="581" r="2.6" fill="#6B3A12"/>
<circle cx="457.7" cy="585" r="2.6" fill="#FBD024"/>
<circle cx="471.3" cy="483.2" r="2.6" fill="#6B3A12"/>
<circle cx="471.3" cy="505.9" r="2.6" fill="#FBD024"/>
<circle cx="471.3" cy="509.8" r="2.6" fill="#33B6E0"/>
<circle cx="471.3" cy="528.7" r="2.6" fill="#33B6E0"/>
<circle cx="471.3" cy="533.7" r="2.6" fill="#EF8535"/>
<circle cx="471.3" cy="538.1" r="2.6" fill="#E83A36"/>
<circle cx="471.3" cy="547.9" r="2.6" fill="#33B6E0"/>
<circle cx="471.3" cy="564.7" r="2.6" fill="#EF8535"/>
<circle cx="471.3" cy="575.6" r="2.6" fill="#33B6E0"/>
<circle cx="471.3" cy="579.5" r="2.6" fill="#33B6E0"/>
<circle cx="471.3" cy="585" r="2.6" fill="#FBD024"/>
<circle cx="484.9" cy="387.1" r="2.6" fill="#3A5BA9"/>
<circle cx="484.9" cy="469.5" r="2.6" fill="#3A5BA9"/>
<circle cx="484.9" cy="483.7" r="2.6" fill="#33B6E0"/>
<circle cx="484.9" cy="487" r="2.6" fill="#33B6E0"/>
<circle cx="484.9" cy="490.3" r="2.6" fill="#33B6E0"/>
<circle cx="484.9" cy="493.7" r="2.6" fill="#33B6E0"/>
<circle cx="484.9" cy="498.2" r="2.6" fill="#3A5BA9"/>
<circle cx="484.9" cy="505.5" r="2.6" fill="#3A5BA9"/>
<circle cx="484.9" cy="509.5" r="2.6" fill="#FBD024"/>
<circle cx="484.9" cy="514.2" r="2.6" fill="#33B6E0"/>
<circle cx="484.9" cy="522.6" r="2.6" fill="#EF8535"/>
<circle cx="484.9" cy="557.4" r="2.6" fill="#EF8535"/>
<circle cx="484.9" cy="562" r="2.6" fill="#EF8535"/>
<circle cx="484.9" cy="566" r="2.6" fill="#EF8535"/>
<circle cx="484.9" cy="574" r="2.6" fill="#EF8535"/>
<circle cx="484.9" cy="580.5" r="2.6" fill="#EF8535"/>
<circle cx="484.9" cy="585" r="2.6" fill="#EF8535"/>
<circle cx="498.5" cy="485" r="2.6" fill="#EF8535"/>
<circle cx="498.5" cy="487.1" r="2.6" fill="#3A5BA9"/>
<circle cx="498.5" cy="492.4" r="2.6" fill="#EF8535"/>
<circle cx="498.5" cy="495" r="2.6" fill="#EF8535"/>
<circle cx="498.5" cy="501" r="2.6" fill="#EF8535"/>
<circle cx="498.5" cy="535.3" r="2.6" fill="#33B6E0"/>
<circle cx="498.5" cy="547.6" r="2.6" fill="#33B6E0"/>
<circle cx="498.5" cy="555" r="2.6" fill="#EF8535"/>
<circle cx="498.5" cy="557.4" r="2.6" fill="#6B3A12"/>
<circle cx="498.5" cy="560.8" r="2.6" fill="#EF8535"/>
<circle cx="498.5" cy="584.5" r="2.6" fill="#8CC63F"/>
<circle cx="512.1" cy="441.6" r="2.6" fill="#3A5BA9"/>
<circle cx="512.1" cy="454.2" r="2.6" fill="#3A5BA9"/>
<circle cx="512.1" cy="490.3" r="2.6" fill="#3A5BA9"/>
<circle cx="512.1" cy="500" r="2.6" fill="#EF8535"/>
<circle cx="512.1" cy="514.2" r="2.6" fill="#33B6E0"/>
<circle cx="512.1" cy="520" r="2.6" fill="#33B6E0"/>
<circle cx="512.1" cy="524" r="2.6" fill="#EF8535"/>
<circle cx="512.1" cy="530" r="2.6" fill="#EF8535"/>
<circle cx="512.1" cy="537.4" r="2.6" fill="#EF8535"/>
<circle cx="512.1" cy="553.7" r="2.6" fill="#EF8535"/>
<circle cx="512.1" cy="564.7" r="2.6" fill="#EF8535"/>
<circle cx="512.1" cy="584.5" r="2.6" fill="#EF8535"/>
<circle cx="525.7" cy="459" r="2.6" fill="#3A5BA9"/>
<circle cx="525.7" cy="463.4" r="2.6" fill="#E83A36"/>
<circle cx="525.7" cy="485" r="2.6" fill="#3A5BA9"/>
<circle cx="525.7" cy="486.6" r="2.6" fill="#EF8535"/>
<circle cx="525.7" cy="501" r="2.6" fill="#EF8535"/>
<circle cx="525.7" cy="516" r="2.6" fill="#33B6E0"/>
<circle cx="525.7" cy="527.4" r="2.6" fill="#EF8535"/>
<circle cx="525.7" cy="539.7" r="2.6" fill="#EF8535"/>
<circle cx="525.7" cy="554" r="2.6" fill="#EF8535"/>
<circle cx="525.7" cy="557.4" r="2.6" fill="#EF8535"/>
<circle cx="525.7" cy="584.5" r="2.6" fill="#33B6E0"/>
<circle cx="539.3" cy="584.5" r="2.6" fill="#EF8535"/>
<circle cx="648.1" cy="487" r="2.6" fill="#33B6E0"/>
<path d="M389.7,552.29 L396.16,551.44 L402.62,550.57 L409.08,549.67 L415.54,548.74 L422,547.76 L428.46,546.72 L434.92,545.61 L441.38,544.4 L447.84,543.06 L454.3,541.58 L460.76,539.93 L467.22,538.12 L473.68,536.17 L480.14,534.08 L486.6,531.9 L493.06,529.64 L499.52,527.32 L505.98,524.96 L512.44,522.56 L518.9,520.13 L525.36,517.69 L531.82,515.22 L538.28,512.75 L544.74,510.26 L551.2,507.76 L557.66,505.26 L564.12,502.75 L570.58,500.23 L577.04,497.71 L583.5,495.19 L589.96,492.66 L596.42,490.13 L602.88,487.6 L609.34,485.06 L615.8,482.53 L622.26,479.99 L628.72,477.45 L635.18,474.9 L641.64,472.36 L648.1,469.82 L648.1,524.38 L641.64,525.14 L635.18,525.9 L628.72,526.65 L622.26,527.41 L615.8,528.17 L609.34,528.94 L602.88,529.7 L596.42,530.47 L589.96,531.24 L583.5,532.01 L577.04,532.79 L570.58,533.57 L564.12,534.35 L557.66,535.14 L551.2,535.94 L544.74,536.74 L538.28,537.55 L531.82,538.38 L525.36,539.21 L518.9,540.07 L512.44,540.94 L505.98,541.84 L499.52,542.78 L493.06,543.76 L486.6,544.8 L480.14,545.92 L473.68,547.13 L467.22,548.48 L460.76,549.97 L454.3,551.62 L447.84,553.44 L441.38,555.4 L434.92,557.49 L428.46,559.68 L422,561.94 L415.54,564.26 L409.08,566.63 L402.62,569.03 L396.16,571.46 L389.7,573.91 Z" stroke="none" stroke-width="0" fill="#8f8f8f" fill-opacity="0.45"/>
<line x1="389.7" y1="563.1" x2="648.1" y2="497.1" stroke="#000" stroke-width="2.3" />
<text x="401.9" y="382.3" font-size="10.5" text-anchor="start" font-weight="normal" font-style="normal" fill="#222" stroke="#222" stroke-width="0.25" ><tspan font-style="italic">R</tspan> = 0.233, <tspan font-style="italic">p</tspan> = 4.74e-05</text>
<text x="13.8" y="677.8" font-size="18.6" text-anchor="start" font-weight="bold" font-style="normal" fill="#1a1a1a" stroke="#1a1a1a" stroke-width="0" >D</text>
<text x="193.2" y="683.2" font-size="13.1" text-anchor="start" font-weight="normal" font-style="normal" fill="#222" stroke="#222" stroke-width="0.25" >TBOOH concentration</text>
<polygon points="88,704.3 429.6,688.8 429.6,704.3" fill="#111"/>
<text x="147.5" y="723.4" font-size="13.1" text-anchor="middle" font-weight="normal" font-style="normal" fill="#222" stroke="#222" stroke-width="0.25" >0 mM</text>
<text x="261.8" y="723.4" font-size="13.1" text-anchor="middle" font-weight="normal" font-style="normal" fill="#222" stroke="#222" stroke-width="0.25" >1.25 mM</text>
<text x="379.6" y="723.4" font-size="13.1" text-anchor="middle" font-weight="normal" font-style="normal" fill="#222" stroke="#222" stroke-width="0.25" >1.5 mM</text>
<text x="89.5" y="748.2" font-size="11.9" text-anchor="end" font-weight="normal" font-style="normal" fill="#222" stroke="#222" stroke-width="0.25" >WT</text>
<text x="89.5" y="766.2" font-size="11.9" text-anchor="end" font-weight="normal" font-style="normal" fill="#222" stroke="#222" stroke-width="0.25" ><tspan font-style="italic">ktr2Δ-10</tspan></text>
<text x="89.5" y="784" font-size="11.9" text-anchor="end" font-weight="normal" font-style="normal" fill="#222" stroke="#222" stroke-width="0.25" ><tspan font-style="italic">yur1Δ-13</tspan></text>
<text x="89.5" y="801.6" font-size="11.9" text-anchor="end" font-weight="normal" font-style="normal" fill="#222" stroke="#222" stroke-width="0.25" ><tspan font-style="italic">yur1Δ-13 ktr2Δ-2</tspan></text>
<text x="89.5" y="819.2" font-size="11.9" text-anchor="end" font-weight="normal" font-style="normal" fill="#222" stroke="#222" stroke-width="0.25" ><tspan font-style="italic">yur1Δ-13 ktr2Δ-8</tspan></text>
<defs>
<linearGradient id="pl1" x1="0" y1="0" x2="1" y2="0"><stop offset="0" stop-color="#848c8b"/><stop offset="1" stop-color="#868f90"/></linearGradient>
<linearGradient id="pl2" x1="0" y1="0" x2="1" y2="0"><stop offset="0" stop-color="#838c8c"/><stop offset="1" stop-color="#7f8a8d"/></linearGradient>
<linearGradient id="pl3" x1="0" y1="0" x2="1" y2="0"><stop offset="0" stop-color="#81837a"/><stop offset="0.6" stop-color="#85877d"/><stop offset="1" stop-color="#8b8e88"/></linearGradient>
<radialGradient id="spot" cx="0.5" cy="0.5" r="0.5"><stop offset="0" stop-color="#e0d0aa"/><stop offset="0.7" stop-color="#dbc89c"/><stop offset="0.9" stop-color="#cdb484"/><stop offset="1" stop-color="#bca275"/></radialGradient>
<filter id="soft" x="-5%" y="-5%" width="110%" height="110%"><feGaussianBlur stdDeviation="0.35"/></filter>
</defs>
<rect x="92.5" y="734.9" width="110.5" height="91.8" fill="url(#pl1)" />
<g filter="url(#soft)">
<rect x="206.4" y="734.9" width="110.6" height="91.8" fill="url(#pl2)" />
<rect x="320.7" y="734.9" width="110.2" height="91.8" fill="url(#pl3)" />
<circle cx="100.6" cy="744" r="7.2" fill="url(#spot)"/>
<circle cx="117.8" cy="744" r="6.6" fill="url(#spot)"/>
<circle cx="135.2" cy="744" r="6.6" fill="url(#spot)"/>
<circle cx="154.3" cy="744" r="6.3" fill="#b29e76"/>
<circle cx="153.26" cy="746.08" r="0.95" fill="#e4d5ad"/>
<circle cx="153.36" cy="742.69" r="0.95" fill="#e4d5ad"/>
<circle cx="150.77" cy="743.19" r="0.95" fill="#e4d5ad"/>
<circle cx="158.28" cy="745.52" r="0.95" fill="#e4d5ad"/>
<circle cx="158.13" cy="744.92" r="0.95" fill="#e4d5ad"/>
<circle cx="155.93" cy="744.77" r="0.95" fill="#e4d5ad"/>
<circle cx="149.46" cy="746.49" r="0.95" fill="#e4d5ad"/>
<circle cx="156.31" cy="745.98" r="0.95" fill="#e4d5ad"/>
<circle cx="150.24" cy="739.82" r="0.95" fill="#e4d5ad"/>
<circle cx="150.96" cy="742.24" r="0.95" fill="#e4d5ad"/>
<circle cx="155.58" cy="743.81" r="0.95" fill="#e4d5ad"/>
<circle cx="156.33" cy="741.5" r="0.95" fill="#e4d5ad"/>
<circle cx="155.57" cy="745.62" r="0.95" fill="#e4d5ad"/>
<circle cx="152.36" cy="749.05" r="0.95" fill="#e4d5ad"/>
<circle cx="156.22" cy="748.14" r="0.95" fill="#e4d5ad"/>
<circle cx="151.95" cy="741.2" r="0.95" fill="#e4d5ad"/>
<circle cx="152.87" cy="743.56" r="0.95" fill="#e4d5ad"/>
<circle cx="156.83" cy="744.99" r="0.95" fill="#e4d5ad"/>
<circle cx="152.64" cy="740.45" r="0.95" fill="#e4d5ad"/>
<circle cx="152.5" cy="748.21" r="0.95" fill="#e4d5ad"/>
<circle cx="151.16" cy="744.95" r="0.95" fill="#e4d5ad"/>
<circle cx="155.68" cy="739.19" r="0.95" fill="#e4d5ad"/>
<circle cx="154.47" cy="748.53" r="0.95" fill="#e4d5ad"/>
<circle cx="148.77" cy="743.12" r="0.95" fill="#e4d5ad"/>
<circle cx="153.89" cy="740.82" r="0.95" fill="#e4d5ad"/>
<circle cx="156.34" cy="743.74" r="0.95" fill="#e4d5ad"/>
<circle cx="149.77" cy="746.56" r="0.95" fill="#e4d5ad"/>
<circle cx="156.72" cy="747.42" r="0.95" fill="#e4d5ad"/>
<circle cx="159.04" cy="745.19" r="0.95" fill="#e4d5ad"/>
<circle cx="154.71" cy="739.49" r="0.95" fill="#e4d5ad"/>
<circle cx="156.68" cy="741.64" r="0.95" fill="#e4d5ad"/>
<circle cx="152.75" cy="739.66" r="0.95" fill="#e4d5ad"/>
<circle cx="150.76" cy="742.05" r="0.95" fill="#e4d5ad"/>
<circle cx="157.42" cy="739.09" r="0.95" fill="#e4d5ad"/>
<circle cx="149.49" cy="744.79" r="0.95" fill="#e4d5ad"/>
<circle cx="158.95" cy="745.86" r="0.95" fill="#e4d5ad"/>
<circle cx="150.71" cy="739.24" r="0.95" fill="#e4d5ad"/>
<circle cx="155.69" cy="741.13" r="0.95" fill="#e4d5ad"/>
<circle cx="150.61" cy="747.22" r="0.95" fill="#e4d5ad"/>
<circle cx="158.33" cy="744.57" r="0.95" fill="#e4d5ad"/>
<circle cx="155.31" cy="745.78" r="0.95" fill="#e4d5ad"/>
<circle cx="159.19" cy="745.9" r="0.95" fill="#e4d5ad"/>
<circle cx="156.35" cy="746.16" r="0.95" fill="#e4d5ad"/>
<circle cx="149.97" cy="747.54" r="0.95" fill="#e4d5ad"/>
<circle cx="157.81" cy="745.95" r="0.95" fill="#e4d5ad"/>
<circle cx="148.94" cy="742.28" r="0.95" fill="#e4d5ad"/>
<circle cx="156.65" cy="738.96" r="0.95" fill="#e4d5ad"/>
<circle cx="153.61" cy="747.8" r="0.95" fill="#e4d5ad"/>
<circle cx="170.26" cy="748.23" r="1.05" fill="#e2d4ad"/>
<circle cx="175.87" cy="743.41" r="1.05" fill="#e2d4ad"/>
<circle cx="174.95" cy="746.5" r="1.05" fill="#e2d4ad"/>
<circle cx="174.12" cy="748.02" r="1.05" fill="#e2d4ad"/>
<circle cx="171.18" cy="742.42" r="1.05" fill="#e2d4ad"/>
<circle cx="177.45" cy="744.1" r="1.05" fill="#e2d4ad"/>
<circle cx="170.73" cy="747.2" r="1.05" fill="#e2d4ad"/>
<circle cx="178.31" cy="742.6" r="1.05" fill="#e2d4ad"/>
<circle cx="169.16" cy="743.56" r="1.05" fill="#e2d4ad"/>
<circle cx="173.1" cy="742.79" r="1.05" fill="#e2d4ad"/>
<circle cx="177.84" cy="740.98" r="1.05" fill="#e2d4ad"/>
<circle cx="177.35" cy="740.33" r="1.05" fill="#e2d4ad"/>
<circle cx="170.84" cy="746.29" r="1.05" fill="#e2d4ad"/>
<circle cx="177.38" cy="746.8" r="1.05" fill="#e2d4ad"/>
<circle cx="175.09" cy="744.57" r="1.05" fill="#e2d4ad"/>
<circle cx="174.3" cy="746.26" r="1.05" fill="#e2d4ad"/>
<circle cx="172.99" cy="745.12" r="1.05" fill="#e2d4ad"/>
<circle cx="175.96" cy="744" r="1.05" fill="#e2d4ad"/>
<circle cx="176.51" cy="746.08" r="1.05" fill="#e2d4ad"/>
<circle cx="179.05" cy="744.87" r="1.05" fill="#e2d4ad"/>
<circle cx="172.01" cy="742.53" r="1.05" fill="#e2d4ad"/>
<circle cx="173.65" cy="747.42" r="1.05" fill="#e2d4ad"/>
<circle cx="172.36" cy="745.53" r="1.05" fill="#e2d4ad"/>
<circle cx="177.07" cy="739.3" r="1.05" fill="#e2d4ad"/>
<circle cx="169.76" cy="744.86" r="1.05" fill="#e2d4ad"/>
<circle cx="175.29" cy="744.95" r="1.05" fill="#e2d4ad"/>
<circle cx="191.14" cy="746.06" r="1.3" fill="#e2d4ad"/>
<circle cx="193.42" cy="742.3" r="1.3" fill="#e2d4ad"/>
<circle cx="197.13" cy="744.68" r="1.3" fill="#e2d4ad"/>
<circle cx="190.69" cy="743.68" r="1.3" fill="#e2d4ad"/>
<circle cx="191.74" cy="743.79" r="1.3" fill="#e2d4ad"/>
<circle cx="187.83" cy="743.17" r="1.3" fill="#e2d4ad"/>
<circle cx="195.12" cy="740.97" r="1.3" fill="#e2d4ad"/>
<circle cx="100.6" cy="762" r="7.2" fill="url(#spot)"/>
<circle cx="117.8" cy="762" r="6.6" fill="url(#spot)"/>
<circle cx="135.2" cy="762" r="6.6" fill="url(#spot)"/>
<circle cx="154.3" cy="762" r="6.3" fill="#b29e76"/>
<circle cx="154.05" cy="765.62" r="0.95" fill="#e4d5ad"/>
<circle cx="156.92" cy="766.56" r="0.95" fill="#e4d5ad"/>
<circle cx="149.13" cy="760.93" r="0.95" fill="#e4d5ad"/>
<circle cx="152.94" cy="764.48" r="0.95" fill="#e4d5ad"/>
<circle cx="156.54" cy="756.5" r="0.95" fill="#e4d5ad"/>
<circle cx="157.53" cy="757.71" r="0.95" fill="#e4d5ad"/>
<circle cx="156.44" cy="757.32" r="0.95" fill="#e4d5ad"/>
<circle cx="154.93" cy="766.26" r="0.95" fill="#e4d5ad"/>
<circle cx="153.67" cy="762.8" r="0.95" fill="#e4d5ad"/>
<circle cx="157.42" cy="762.55" r="0.95" fill="#e4d5ad"/>
<circle cx="154.01" cy="766.97" r="0.95" fill="#e4d5ad"/>
<circle cx="158.15" cy="760.92" r="0.95" fill="#e4d5ad"/>
<circle cx="159.79" cy="759.71" r="0.95" fill="#e4d5ad"/>
<circle cx="157.77" cy="760.99" r="0.95" fill="#e4d5ad"/>
<circle cx="154.83" cy="764.8" r="0.95" fill="#e4d5ad"/>
<circle cx="155.19" cy="764.56" r="0.95" fill="#e4d5ad"/>
<circle cx="150.26" cy="758.01" r="0.95" fill="#e4d5ad"/>
<circle cx="156.53" cy="758.51" r="0.95" fill="#e4d5ad"/>
<circle cx="151.24" cy="757.61" r="0.95" fill="#e4d5ad"/>
<circle cx="158.49" cy="764.47" r="0.95" fill="#e4d5ad"/>
<circle cx="158.77" cy="759.16" r="0.95" fill="#e4d5ad"/>
<circle cx="154.3" cy="757.86" r="0.95" fill="#e4d5ad"/>
<circle cx="156.61" cy="766.79" r="0.95" fill="#e4d5ad"/>
<circle cx="151.65" cy="766.65" r="0.95" fill="#e4d5ad"/>
<circle cx="158.01" cy="761.33" r="0.95" fill="#e4d5ad"/>
<circle cx="149.56" cy="765.38" r="0.95" fill="#e4d5ad"/>
<circle cx="153.91" cy="759.56" r="0.95" fill="#e4d5ad"/>
<circle cx="155.92" cy="763.67" r="0.95" fill="#e4d5ad"/>
<circle cx="158.74" cy="758.97" r="0.95" fill="#e4d5ad"/>
<circle cx="157.6" cy="766.32" r="0.95" fill="#e4d5ad"/>
<circle cx="159.12" cy="761.4" r="0.95" fill="#e4d5ad"/>
<circle cx="151.69" cy="765.58" r="0.95" fill="#e4d5ad"/>
<circle cx="154.79" cy="762.52" r="0.95" fill="#e4d5ad"/>
<circle cx="159.04" cy="761.12" r="0.95" fill="#e4d5ad"/>
<circle cx="148.6" cy="761.04" r="0.95" fill="#e4d5ad"/>
<circle cx="149.19" cy="764.26" r="0.95" fill="#e4d5ad"/>
<circle cx="155.57" cy="759.56" r="0.95" fill="#e4d5ad"/>
<circle cx="154.26" cy="765.24" r="0.95" fill="#e4d5ad"/>
<circle cx="154.57" cy="766.58" r="0.95" fill="#e4d5ad"/>
<circle cx="154.07" cy="765.87" r="0.95" fill="#e4d5ad"/>
<circle cx="158.18" cy="766.19" r="0.95" fill="#e4d5ad"/>
<circle cx="151.84" cy="765.22" r="0.95" fill="#e4d5ad"/>
<circle cx="149.37" cy="759.15" r="0.95" fill="#e4d5ad"/>
<circle cx="149.26" cy="764.74" r="0.95" fill="#e4d5ad"/>
<circle cx="149.94" cy="761.95" r="0.95" fill="#e4d5ad"/>
<circle cx="153.49" cy="761.88" r="0.95" fill="#e4d5ad"/>
<circle cx="151.92" cy="762.94" r="0.95" fill="#e4d5ad"/>
<circle cx="159.65" cy="762.13" r="0.95" fill="#e4d5ad"/>
<circle cx="175.57" cy="765.53" r="1.05" fill="#e2d4ad"/>
<circle cx="173.03" cy="757.73" r="1.05" fill="#e2d4ad"/>
<circle cx="171.78" cy="765.71" r="1.05" fill="#e2d4ad"/>
<circle cx="168.87" cy="760.25" r="1.05" fill="#e2d4ad"/>
<circle cx="177.11" cy="764.68" r="1.05" fill="#e2d4ad"/>
<circle cx="173.73" cy="765.05" r="1.05" fill="#e2d4ad"/>
<circle cx="174.28" cy="757.91" r="1.05" fill="#e2d4ad"/>
<circle cx="169.02" cy="760.09" r="1.05" fill="#e2d4ad"/>
<circle cx="176.99" cy="759.98" r="1.05" fill="#e2d4ad"/>
<circle cx="170.56" cy="759.32" r="1.05" fill="#e2d4ad"/>
<circle cx="168.89" cy="761.63" r="1.05" fill="#e2d4ad"/>
<circle cx="169.65" cy="763.25" r="1.05" fill="#e2d4ad"/>
<circle cx="168.13" cy="762.77" r="1.05" fill="#e2d4ad"/>
<circle cx="172" cy="756.84" r="1.05" fill="#e2d4ad"/>
<circle cx="176.46" cy="760.95" r="1.05" fill="#e2d4ad"/>
<circle cx="168.46" cy="759.94" r="1.05" fill="#e2d4ad"/>
<circle cx="174.85" cy="760.19" r="1.05" fill="#e2d4ad"/>
<circle cx="176.48" cy="764.67" r="1.05" fill="#e2d4ad"/>
<circle cx="176.25" cy="763.25" r="1.05" fill="#e2d4ad"/>
<circle cx="177.95" cy="764.1" r="1.05" fill="#e2d4ad"/>
<circle cx="174.86" cy="756.63" r="1.05" fill="#e2d4ad"/>
<circle cx="176.47" cy="766.05" r="1.05" fill="#e2d4ad"/>
<circle cx="172.53" cy="760.15" r="1.05" fill="#e2d4ad"/>
<circle cx="177.93" cy="758.17" r="1.05" fill="#e2d4ad"/>
<circle cx="174.78" cy="767.56" r="1.05" fill="#e2d4ad"/>
<circle cx="170.45" cy="764.42" r="1.05" fill="#e2d4ad"/>
<circle cx="196.87" cy="761.72" r="1.3" fill="#e2d4ad"/>
<circle cx="194.16" cy="764.68" r="1.3" fill="#e2d4ad"/>
<circle cx="189.72" cy="761.73" r="1.3" fill="#e2d4ad"/>
<circle cx="193.41" cy="764.55" r="1.3" fill="#e2d4ad"/>
<circle cx="192.38" cy="761.34" r="1.3" fill="#e2d4ad"/>
<circle cx="189.5" cy="760.94" r="1.3" fill="#e2d4ad"/>
<circle cx="195.25" cy="762.31" r="1.3" fill="#e2d4ad"/>
<circle cx="100.6" cy="779.8" r="7.2" fill="url(#spot)"/>
<circle cx="117.8" cy="779.8" r="6.6" fill="url(#spot)"/>
<circle cx="135.2" cy="779.8" r="6.6" fill="url(#spot)"/>
<circle cx="154.3" cy="779.8" r="6.3" fill="#b29e76"/>
<circle cx="151.25" cy="776.79" r="0.95" fill="#e4d5ad"/>
<circle cx="159.76" cy="782.13" r="0.95" fill="#e4d5ad"/>
<circle cx="155.71" cy="774.07" r="0.95" fill="#e4d5ad"/>
<circle cx="156.74" cy="781.69" r="0.95" fill="#e4d5ad"/>
<circle cx="159.42" cy="781.1" r="0.95" fill="#e4d5ad"/>
<circle cx="154.02" cy="781.94" r="0.95" fill="#e4d5ad"/>
<circle cx="149.25" cy="782.48" r="0.95" fill="#e4d5ad"/>
<circle cx="155.58" cy="777.04" r="0.95" fill="#e4d5ad"/>
<circle cx="157.69" cy="784.43" r="0.95" fill="#e4d5ad"/>
<circle cx="149.78" cy="777.65" r="0.95" fill="#e4d5ad"/>
<circle cx="155.51" cy="780.57" r="0.95" fill="#e4d5ad"/>
<circle cx="152.82" cy="776.19" r="0.95" fill="#e4d5ad"/>
<circle cx="159.51" cy="782.35" r="0.95" fill="#e4d5ad"/>
<circle cx="150.74" cy="775.79" r="0.95" fill="#e4d5ad"/>
<circle cx="159.09" cy="782.58" r="0.95" fill="#e4d5ad"/>
<circle cx="159.38" cy="782.06" r="0.95" fill="#e4d5ad"/>
<circle cx="150.96" cy="780.8" r="0.95" fill="#e4d5ad"/>
<circle cx="148.86" cy="777.91" r="0.95" fill="#e4d5ad"/>
<circle cx="154.06" cy="781.94" r="0.95" fill="#e4d5ad"/>
<circle cx="151.42" cy="779.31" r="0.95" fill="#e4d5ad"/>
<circle cx="156.16" cy="781.33" r="0.95" fill="#e4d5ad"/>
<circle cx="156.85" cy="780.64" r="0.95" fill="#e4d5ad"/>
<circle cx="153.04" cy="782.86" r="0.95" fill="#e4d5ad"/>
<circle cx="154.49" cy="776.58" r="0.95" fill="#e4d5ad"/>
<circle cx="151.78" cy="779.8" r="0.95" fill="#e4d5ad"/>
<circle cx="153.84" cy="780.46" r="0.95" fill="#e4d5ad"/>
<circle cx="154.3" cy="780.54" r="0.95" fill="#e4d5ad"/>
<circle cx="153.83" cy="775.38" r="0.95" fill="#e4d5ad"/>
<circle cx="155.83" cy="783.63" r="0.95" fill="#e4d5ad"/>
<circle cx="156.09" cy="779.02" r="0.95" fill="#e4d5ad"/>
<circle cx="155.95" cy="776.23" r="0.95" fill="#e4d5ad"/>
<circle cx="148.83" cy="779.97" r="0.95" fill="#e4d5ad"/>
<circle cx="150.97" cy="782.45" r="0.95" fill="#e4d5ad"/>
<circle cx="152.04" cy="774.32" r="0.95" fill="#e4d5ad"/>
<circle cx="151.3" cy="784.36" r="0.95" fill="#e4d5ad"/>
<circle cx="153.02" cy="775.2" r="0.95" fill="#e4d5ad"/>
<circle cx="151.39" cy="781.79" r="0.95" fill="#e4d5ad"/>
<circle cx="156.33" cy="780.52" r="0.95" fill="#e4d5ad"/>
<circle cx="158.95" cy="782.01" r="0.95" fill="#e4d5ad"/>
<circle cx="154.22" cy="782.22" r="0.95" fill="#e4d5ad"/>
<circle cx="159.03" cy="782.58" r="0.95" fill="#e4d5ad"/>
<circle cx="157.67" cy="776.24" r="0.95" fill="#e4d5ad"/>
<circle cx="153.71" cy="782.69" r="0.95" fill="#e4d5ad"/>
<circle cx="153.22" cy="783.71" r="0.95" fill="#e4d5ad"/>
<circle cx="156.49" cy="783.14" r="0.95" fill="#e4d5ad"/>
<circle cx="153.81" cy="785.65" r="0.95" fill="#e4d5ad"/>
<circle cx="158.66" cy="779.04" r="0.95" fill="#e4d5ad"/>
<circle cx="154.51" cy="785.68" r="0.95" fill="#e4d5ad"/>
<circle cx="172.43" cy="783.02" r="1.05" fill="#e2d4ad"/>
<circle cx="177.28" cy="779.82" r="1.05" fill="#e2d4ad"/>
<circle cx="169.64" cy="780.45" r="1.05" fill="#e2d4ad"/>
<circle cx="174.95" cy="783.73" r="1.05" fill="#e2d4ad"/>
<circle cx="176.68" cy="779.89" r="1.05" fill="#e2d4ad"/>
<circle cx="176.8" cy="781.76" r="1.05" fill="#e2d4ad"/>
<circle cx="174.54" cy="780.03" r="1.05" fill="#e2d4ad"/>
<circle cx="172.76" cy="782.44" r="1.05" fill="#e2d4ad"/>
<circle cx="170.08" cy="777.64" r="1.05" fill="#e2d4ad"/>
<circle cx="173.72" cy="775.1" r="1.05" fill="#e2d4ad"/>
<circle cx="172.55" cy="774.49" r="1.05" fill="#e2d4ad"/>
<circle cx="171.15" cy="781.92" r="1.05" fill="#e2d4ad"/>
<circle cx="175.93" cy="779.59" r="1.05" fill="#e2d4ad"/>
<circle cx="172.95" cy="775.21" r="1.05" fill="#e2d4ad"/>
<circle cx="178.8" cy="781.24" r="1.05" fill="#e2d4ad"/>
<circle cx="177.28" cy="776.92" r="1.05" fill="#e2d4ad"/>
<circle cx="173.17" cy="774.6" r="1.05" fill="#e2d4ad"/>
<circle cx="176.39" cy="783.02" r="1.05" fill="#e2d4ad"/>
<circle cx="168.4" cy="779.65" r="1.05" fill="#e2d4ad"/>
<circle cx="175.48" cy="774.84" r="1.05" fill="#e2d4ad"/>
<circle cx="168.97" cy="777.04" r="1.05" fill="#e2d4ad"/>
<circle cx="171.72" cy="775.39" r="1.05" fill="#e2d4ad"/>
<circle cx="173.83" cy="780.82" r="1.05" fill="#e2d4ad"/>
<circle cx="176.03" cy="782.39" r="1.05" fill="#e2d4ad"/>
<circle cx="177.89" cy="783.05" r="1.05" fill="#e2d4ad"/>
<circle cx="169.41" cy="778.15" r="1.05" fill="#e2d4ad"/>
<circle cx="189.72" cy="776.98" r="1.3" fill="#e2d4ad"/>
<circle cx="192.22" cy="779.82" r="1.3" fill="#e2d4ad"/>
<circle cx="193.73" cy="775.83" r="1.3" fill="#e2d4ad"/>
<circle cx="188.99" cy="779.73" r="1.3" fill="#e2d4ad"/>
<circle cx="191.83" cy="778.76" r="1.3" fill="#e2d4ad"/>
<circle cx="192.3" cy="777.4" r="1.3" fill="#e2d4ad"/>
<circle cx="194.71" cy="780.92" r="1.3" fill="#e2d4ad"/>
<circle cx="100.6" cy="797.4" r="7.2" fill="url(#spot)"/>
<circle cx="117.8" cy="797.4" r="6.6" fill="url(#spot)"/>
<circle cx="135.2" cy="797.4" r="6.6" fill="url(#spot)"/>
<circle cx="154.3" cy="797.4" r="6.3" fill="#b29e76"/>
<circle cx="153.95" cy="794.71" r="0.95" fill="#e4d5ad"/>
<circle cx="153.92" cy="791.5" r="0.95" fill="#e4d5ad"/>
<circle cx="150.6" cy="797.54" r="0.95" fill="#e4d5ad"/>
<circle cx="149.39" cy="798.05" r="0.95" fill="#e4d5ad"/>
<circle cx="154.8" cy="792.73" r="0.95" fill="#e4d5ad"/>
<circle cx="153.26" cy="796.1" r="0.95" fill="#e4d5ad"/>
<circle cx="156.11" cy="799.81" r="0.95" fill="#e4d5ad"/>
<circle cx="154.16" cy="794.1" r="0.95" fill="#e4d5ad"/>
<circle cx="153.69" cy="797.12" r="0.95" fill="#e4d5ad"/>
<circle cx="157.18" cy="798.55" r="0.95" fill="#e4d5ad"/>
<circle cx="151.96" cy="793.01" r="0.95" fill="#e4d5ad"/>
<circle cx="152.85" cy="794.52" r="0.95" fill="#e4d5ad"/>
<circle cx="150.24" cy="796.98" r="0.95" fill="#e4d5ad"/>
<circle cx="152.29" cy="797.83" r="0.95" fill="#e4d5ad"/>
<circle cx="156.4" cy="795.74" r="0.95" fill="#e4d5ad"/>
<circle cx="160.04" cy="796.61" r="0.95" fill="#e4d5ad"/>
<circle cx="158.33" cy="797.85" r="0.95" fill="#e4d5ad"/>
<circle cx="156.8" cy="792.07" r="0.95" fill="#e4d5ad"/>
<circle cx="151.35" cy="798.37" r="0.95" fill="#e4d5ad"/>
<circle cx="155.75" cy="803.04" r="0.95" fill="#e4d5ad"/>
<circle cx="155.42" cy="801.83" r="0.95" fill="#e4d5ad"/>
<circle cx="157.03" cy="800.77" r="0.95" fill="#e4d5ad"/>
<circle cx="156.38" cy="796.76" r="0.95" fill="#e4d5ad"/>
<circle cx="156.12" cy="793.54" r="0.95" fill="#e4d5ad"/>
<circle cx="158.1" cy="794.12" r="0.95" fill="#e4d5ad"/>
<circle cx="154.96" cy="803.03" r="0.95" fill="#e4d5ad"/>
<circle cx="153.36" cy="797.48" r="0.95" fill="#e4d5ad"/>
<circle cx="158.5" cy="797.49" r="0.95" fill="#e4d5ad"/>
<circle cx="151.17" cy="798.4" r="0.95" fill="#e4d5ad"/>
<circle cx="156.53" cy="800.11" r="0.95" fill="#e4d5ad"/>
<circle cx="152.09" cy="802.42" r="0.95" fill="#e4d5ad"/>
<circle cx="159.49" cy="797.46" r="0.95" fill="#e4d5ad"/>
<circle cx="155.4" cy="795.64" r="0.95" fill="#e4d5ad"/>
<circle cx="158.82" cy="795.15" r="0.95" fill="#e4d5ad"/>
<circle cx="156.93" cy="795.53" r="0.95" fill="#e4d5ad"/>
<circle cx="151.69" cy="800.1" r="0.95" fill="#e4d5ad"/>
<circle cx="158.89" cy="797.37" r="0.95" fill="#e4d5ad"/>
<circle cx="151.79" cy="800.41" r="0.95" fill="#e4d5ad"/>
<circle cx="154.09" cy="798.7" r="0.95" fill="#e4d5ad"/>
<circle cx="158.69" cy="800.66" r="0.95" fill="#e4d5ad"/>
<circle cx="153.02" cy="803.04" r="0.95" fill="#e4d5ad"/>
<circle cx="154.31" cy="800.49" r="0.95" fill="#e4d5ad"/>
<circle cx="151.7" cy="797.22" r="0.95" fill="#e4d5ad"/>
<circle cx="150.2" cy="801.58" r="0.95" fill="#e4d5ad"/>
<circle cx="158.33" cy="793.81" r="0.95" fill="#e4d5ad"/>
<circle cx="150.41" cy="793.21" r="0.95" fill="#e4d5ad"/>
<circle cx="158.43" cy="795.79" r="0.95" fill="#e4d5ad"/>
<circle cx="154.05" cy="796.09" r="0.95" fill="#e4d5ad"/>
<circle cx="173.27" cy="793.53" r="1.05" fill="#e2d4ad"/>
<circle cx="173.78" cy="792.74" r="1.05" fill="#e2d4ad"/>
<circle cx="173.41" cy="798.65" r="1.05" fill="#e2d4ad"/>
<circle cx="175.55" cy="796.48" r="1.05" fill="#e2d4ad"/>
<circle cx="170.35" cy="797.99" r="1.05" fill="#e2d4ad"/>
<circle cx="172.23" cy="802.16" r="1.05" fill="#e2d4ad"/>
<circle cx="176.63" cy="796.96" r="1.05" fill="#e2d4ad"/>
<circle cx="171.93" cy="794.76" r="1.05" fill="#e2d4ad"/>
<circle cx="170.29" cy="796.12" r="1.05" fill="#e2d4ad"/>
<circle cx="174.86" cy="799.42" r="1.05" fill="#e2d4ad"/>
<circle cx="175.14" cy="802.73" r="1.05" fill="#e2d4ad"/>
<circle cx="170.98" cy="797.45" r="1.05" fill="#e2d4ad"/>
<circle cx="178.51" cy="794.18" r="1.05" fill="#e2d4ad"/>
<circle cx="171.64" cy="798.07" r="1.05" fill="#e2d4ad"/>
<circle cx="174.32" cy="799.03" r="1.05" fill="#e2d4ad"/>
<circle cx="172.74" cy="798.87" r="1.05" fill="#e2d4ad"/>
<circle cx="173.9" cy="800.34" r="1.05" fill="#e2d4ad"/>
<circle cx="168.75" cy="795.09" r="1.05" fill="#e2d4ad"/>
<circle cx="173.69" cy="793.67" r="1.05" fill="#e2d4ad"/>
<circle cx="170.1" cy="799.56" r="1.05" fill="#e2d4ad"/>
<circle cx="171.29" cy="799.76" r="1.05" fill="#e2d4ad"/>
<circle cx="176.53" cy="798.56" r="1.05" fill="#e2d4ad"/>
<circle cx="175.72" cy="796.99" r="1.05" fill="#e2d4ad"/>
<circle cx="169.1" cy="797.3" r="1.05" fill="#e2d4ad"/>
<circle cx="175.46" cy="795.35" r="1.05" fill="#e2d4ad"/>
<circle cx="173.32" cy="800.27" r="1.05" fill="#e2d4ad"/>
<circle cx="189.91" cy="799.29" r="1.3" fill="#e2d4ad"/>
<circle cx="196.74" cy="796.14" r="1.3" fill="#e2d4ad"/>
<circle cx="192.99" cy="796.89" r="1.3" fill="#e2d4ad"/>
<circle cx="196.46" cy="798.21" r="1.3" fill="#e2d4ad"/>
<circle cx="195.12" cy="795.39" r="1.3" fill="#e2d4ad"/>
<circle cx="192.45" cy="797.37" r="1.3" fill="#e2d4ad"/>
<circle cx="188.91" cy="800.31" r="1.3" fill="#e2d4ad"/>
<circle cx="100.6" cy="815" r="7.2" fill="url(#spot)"/>
<circle cx="117.8" cy="815" r="6.6" fill="url(#spot)"/>
<circle cx="135.2" cy="815" r="6.6" fill="url(#spot)"/>
<circle cx="154.3" cy="815" r="6.3" fill="#b29e76"/>
<circle cx="156.83" cy="810.08" r="0.95" fill="#e4d5ad"/>
<circle cx="157.24" cy="814.48" r="0.95" fill="#e4d5ad"/>
<circle cx="156.12" cy="816.49" r="0.95" fill="#e4d5ad"/>
<circle cx="149.41" cy="814.31" r="0.95" fill="#e4d5ad"/>
<circle cx="159.04" cy="813.17" r="0.95" fill="#e4d5ad"/>
<circle cx="151.15" cy="810.82" r="0.95" fill="#e4d5ad"/>
<circle cx="150.01" cy="816.18" r="0.95" fill="#e4d5ad"/>
<circle cx="159.43" cy="816.3" r="0.95" fill="#e4d5ad"/>
<circle cx="154.93" cy="820.71" r="0.95" fill="#e4d5ad"/>
<circle cx="152.29" cy="812.39" r="0.95" fill="#e4d5ad"/>
<circle cx="156.38" cy="817.16" r="0.95" fill="#e4d5ad"/>
<circle cx="151.02" cy="811.22" r="0.95" fill="#e4d5ad"/>
<circle cx="155.51" cy="816.03" r="0.95" fill="#e4d5ad"/>
<circle cx="149.78" cy="814.3" r="0.95" fill="#e4d5ad"/>
<circle cx="152.14" cy="816.83" r="0.95" fill="#e4d5ad"/>
<circle cx="153.81" cy="814.64" r="0.95" fill="#e4d5ad"/>
<circle cx="153.01" cy="818.85" r="0.95" fill="#e4d5ad"/>
<circle cx="158.95" cy="813.77" r="0.95" fill="#e4d5ad"/>
<circle cx="157.37" cy="812.25" r="0.95" fill="#e4d5ad"/>
<circle cx="154.58" cy="817.96" r="0.95" fill="#e4d5ad"/>
<circle cx="159.17" cy="813.77" r="0.95" fill="#e4d5ad"/>
<circle cx="153.99" cy="815.83" r="0.95" fill="#e4d5ad"/>
<circle cx="149.39" cy="815.05" r="0.95" fill="#e4d5ad"/>
<circle cx="151.64" cy="816.46" r="0.95" fill="#e4d5ad"/>
<circle cx="151.44" cy="810" r="0.95" fill="#e4d5ad"/>
<circle cx="154.46" cy="816.09" r="0.95" fill="#e4d5ad"/>
<circle cx="152.26" cy="818.3" r="0.95" fill="#e4d5ad"/>
<circle cx="153.2" cy="812.57" r="0.95" fill="#e4d5ad"/>
<circle cx="155.8" cy="810.08" r="0.95" fill="#e4d5ad"/>
<circle cx="151.59" cy="814.92" r="0.95" fill="#e4d5ad"/>
<circle cx="157.58" cy="814.37" r="0.95" fill="#e4d5ad"/>
<circle cx="155.52" cy="812.4" r="0.95" fill="#e4d5ad"/>
<circle cx="155.23" cy="820.14" r="0.95" fill="#e4d5ad"/>
<circle cx="152.67" cy="820.61" r="0.95" fill="#e4d5ad"/>
<circle cx="151.71" cy="815.07" r="0.95" fill="#e4d5ad"/>
<circle cx="154.94" cy="818.81" r="0.95" fill="#e4d5ad"/>
<circle cx="151.34" cy="809.98" r="0.95" fill="#e4d5ad"/>
<circle cx="156.58" cy="817.99" r="0.95" fill="#e4d5ad"/>
<circle cx="155.66" cy="820.75" r="0.95" fill="#e4d5ad"/>
<circle cx="155.16" cy="816.06" r="0.95" fill="#e4d5ad"/>
<circle cx="157.79" cy="816.38" r="0.95" fill="#e4d5ad"/>
<circle cx="158.81" cy="811.64" r="0.95" fill="#e4d5ad"/>
<circle cx="153.65" cy="809.06" r="0.95" fill="#e4d5ad"/>
<circle cx="157.42" cy="813.57" r="0.95" fill="#e4d5ad"/>
<circle cx="156.58" cy="820.32" r="0.95" fill="#e4d5ad"/>
<circle cx="154.28" cy="813.93" r="0.95" fill="#e4d5ad"/>
<circle cx="152.41" cy="811.84" r="0.95" fill="#e4d5ad"/>
<circle cx="151.88" cy="817.45" r="0.95" fill="#e4d5ad"/>
<circle cx="173.85" cy="815.27" r="1.05" fill="#e2d4ad"/>
<circle cx="173.06" cy="818.38" r="1.05" fill="#e2d4ad"/>
<circle cx="175.66" cy="814.44" r="1.05" fill="#e2d4ad"/>
<circle cx="176.28" cy="814.41" r="1.05" fill="#e2d4ad"/>
<circle cx="170.44" cy="819.12" r="1.05" fill="#e2d4ad"/>
<circle cx="175.37" cy="811.57" r="1.05" fill="#e2d4ad"/>
<circle cx="177.5" cy="816.22" r="1.05" fill="#e2d4ad"/>
<circle cx="169.82" cy="818.99" r="1.05" fill="#e2d4ad"/>
<circle cx="174.93" cy="818.28" r="1.05" fill="#e2d4ad"/>
<circle cx="174.51" cy="814.39" r="1.05" fill="#e2d4ad"/>
<circle cx="169.27" cy="817.78" r="1.05" fill="#e2d4ad"/>
<circle cx="173.82" cy="813.84" r="1.05" fill="#e2d4ad"/>
<circle cx="175.12" cy="815.32" r="1.05" fill="#e2d4ad"/>
<circle cx="176.28" cy="813.58" r="1.05" fill="#e2d4ad"/>
<circle cx="173.61" cy="809.5" r="1.05" fill="#e2d4ad"/>
<circle cx="172.09" cy="817.56" r="1.05" fill="#e2d4ad"/>
<circle cx="178.1" cy="813.8" r="1.05" fill="#e2d4ad"/>
<circle cx="173.32" cy="819.9" r="1.05" fill="#e2d4ad"/>
<circle cx="172.46" cy="817.78" r="1.05" fill="#e2d4ad"/>
<circle cx="178.74" cy="815.12" r="1.05" fill="#e2d4ad"/>
<circle cx="177.7" cy="812.69" r="1.05" fill="#e2d4ad"/>
<circle cx="174.55" cy="814.68" r="1.05" fill="#e2d4ad"/>
<circle cx="174.1" cy="818.98" r="1.05" fill="#e2d4ad"/>
<circle cx="179.16" cy="813.48" r="1.05" fill="#e2d4ad"/>
<circle cx="171.5" cy="816.9" r="1.05" fill="#e2d4ad"/>
<circle cx="170.01" cy="816.74" r="1.05" fill="#e2d4ad"/>
<circle cx="194.35" cy="814.1" r="1.3" fill="#e2d4ad"/>
<circle cx="193.84" cy="811.1" r="1.3" fill="#e2d4ad"/>
<circle cx="194.36" cy="811.21" r="1.3" fill="#e2d4ad"/>
<circle cx="190.35" cy="813.29" r="1.3" fill="#e2d4ad"/>
<circle cx="191.28" cy="817.62" r="1.3" fill="#e2d4ad"/>
<circle cx="192.77" cy="813.68" r="1.3" fill="#e2d4ad"/>
<circle cx="193.85" cy="818.94" r="1.3" fill="#e2d4ad"/>
<circle cx="216.6" cy="744" r="7" fill="url(#spot)"/>
<circle cx="237.4" cy="744" r="7" fill="url(#spot)"/>
<circle cx="254.2" cy="744" r="6.3" fill="#b29e76"/>
<circle cx="254.23" cy="745.52" r="0.95" fill="#e4d5ad"/>
<circle cx="258.55" cy="744.94" r="0.95" fill="#e4d5ad"/>
<circle cx="251.48" cy="749.27" r="0.95" fill="#e4d5ad"/>
<circle cx="258.62" cy="740.02" r="0.95" fill="#e4d5ad"/>
<circle cx="254.04" cy="745.73" r="0.95" fill="#e4d5ad"/>
<circle cx="257.67" cy="746.41" r="0.95" fill="#e4d5ad"/>
<circle cx="253.2" cy="740.13" r="0.95" fill="#e4d5ad"/>
<circle cx="254.58" cy="747.85" r="0.95" fill="#e4d5ad"/>
<circle cx="250.62" cy="740.63" r="0.95" fill="#e4d5ad"/>
<circle cx="254.13" cy="738.49" r="0.95" fill="#e4d5ad"/>
<circle cx="253.13" cy="742.21" r="0.95" fill="#e4d5ad"/>
<circle cx="255.95" cy="741.27" r="0.95" fill="#e4d5ad"/>
<circle cx="250.86" cy="742.51" r="0.95" fill="#e4d5ad"/>
<circle cx="254" cy="741.34" r="0.95" fill="#e4d5ad"/>
<circle cx="254.25" cy="746.96" r="0.95" fill="#e4d5ad"/>
<circle cx="257.41" cy="748.62" r="0.95" fill="#e4d5ad"/>
<circle cx="251.19" cy="742.39" r="0.95" fill="#e4d5ad"/>
<circle cx="249.46" cy="747.62" r="0.95" fill="#e4d5ad"/>
<circle cx="251.32" cy="743.87" r="0.95" fill="#e4d5ad"/>
<circle cx="255.94" cy="739.48" r="0.95" fill="#e4d5ad"/>
<circle cx="256.11" cy="743.89" r="0.95" fill="#e4d5ad"/>
<circle cx="248.85" cy="744.86" r="0.95" fill="#e4d5ad"/>
<circle cx="257.28" cy="739.18" r="0.95" fill="#e4d5ad"/>
<circle cx="257.34" cy="744.81" r="0.95" fill="#e4d5ad"/>
<circle cx="256.11" cy="745.77" r="0.95" fill="#e4d5ad"/>
<circle cx="258.7" cy="743.23" r="0.95" fill="#e4d5ad"/>
<circle cx="257.51" cy="742.45" r="0.95" fill="#e4d5ad"/>
<circle cx="256.87" cy="741.01" r="0.95" fill="#e4d5ad"/>
<circle cx="253.87" cy="749.27" r="0.95" fill="#e4d5ad"/>
<circle cx="256.03" cy="743.35" r="0.95" fill="#e4d5ad"/>
<circle cx="250.32" cy="741.32" r="0.95" fill="#e4d5ad"/>
<circle cx="254.93" cy="747.56" r="0.95" fill="#e4d5ad"/>
<circle cx="255.91" cy="746.1" r="0.95" fill="#e4d5ad"/>
<circle cx="254.06" cy="748.63" r="0.95" fill="#e4d5ad"/>
<circle cx="252.64" cy="741.8" r="0.95" fill="#e4d5ad"/>
<circle cx="257.62" cy="744.24" r="0.95" fill="#e4d5ad"/>
<circle cx="253.08" cy="741.68" r="0.95" fill="#e4d5ad"/>
<circle cx="253.17" cy="746.5" r="0.95" fill="#e4d5ad"/>
<circle cx="255.44" cy="739.75" r="0.95" fill="#e4d5ad"/>
<circle cx="255.96" cy="744.74" r="0.95" fill="#e4d5ad"/>
<circle cx="250.69" cy="746.71" r="0.95" fill="#e4d5ad"/>
<circle cx="253.04" cy="742.61" r="0.95" fill="#e4d5ad"/>
<circle cx="256.78" cy="748.27" r="0.95" fill="#e4d5ad"/>
<circle cx="251.51" cy="745.71" r="0.95" fill="#e4d5ad"/>
<circle cx="252.13" cy="749.46" r="0.95" fill="#e4d5ad"/>
<circle cx="252.48" cy="748.16" r="0.95" fill="#e4d5ad"/>
<circle cx="251.79" cy="747.02" r="0.95" fill="#e4d5ad"/>
<circle cx="258.13" cy="739.5" r="0.95" fill="#e4d5ad"/>
<circle cx="269.37" cy="745.88" r="1" fill="#e2d4ad"/>
<circle cx="270.65" cy="741.5" r="1" fill="#e2d4ad"/>
<circle cx="276.31" cy="744.2" r="1" fill="#e2d4ad"/>
<circle cx="266.5" cy="746.34" r="1" fill="#e2d4ad"/>
<circle cx="266.63" cy="746.92" r="1" fill="#e2d4ad"/>
<circle cx="268.81" cy="744.55" r="1" fill="#e2d4ad"/>
<circle cx="275.14" cy="744.39" r="1" fill="#e2d4ad"/>
<circle cx="267.61" cy="739.87" r="1" fill="#e2d4ad"/>
<circle cx="274.74" cy="746.34" r="1" fill="#e2d4ad"/>
<circle cx="268.26" cy="746.88" r="1" fill="#e2d4ad"/>
<circle cx="272.81" cy="746.37" r="1" fill="#e2d4ad"/>
<circle cx="265.66" cy="743.29" r="1" fill="#e2d4ad"/>
<circle cx="274.04" cy="746.48" r="1" fill="#e2d4ad"/>
<circle cx="272.86" cy="738.82" r="1" fill="#e2d4ad"/>
<circle cx="271.65" cy="745.88" r="1" fill="#e2d4ad"/>
<circle cx="276.18" cy="742.06" r="1" fill="#e2d4ad"/>
<circle cx="269.71" cy="744.14" r="1" fill="#e2d4ad"/>
<circle cx="274.12" cy="742.44" r="1" fill="#e2d4ad"/>
<circle cx="274.64" cy="741.5" r="1" fill="#e2d4ad"/>
<circle cx="272.01" cy="742" r="1" fill="#e2d4ad"/>
<circle cx="271.59" cy="741.43" r="1" fill="#e2d4ad"/>
<circle cx="266.75" cy="746.91" r="1" fill="#e2d4ad"/>
<circle cx="272.14" cy="741.9" r="1" fill="#e2d4ad"/>
<circle cx="271.7" cy="747.47" r="1" fill="#e2d4ad"/>
<circle cx="267.55" cy="743.61" r="1" fill="#e2d4ad"/>
<circle cx="272.99" cy="745.94" r="1" fill="#e2d4ad"/>
<circle cx="270.17" cy="738.76" r="1" fill="#e2d4ad"/>
<circle cx="275.06" cy="745.07" r="1" fill="#e2d4ad"/>
<circle cx="271.05" cy="742.91" r="1" fill="#e2d4ad"/>
<circle cx="272.01" cy="742.37" r="1" fill="#e2d4ad"/>
<circle cx="283.99" cy="742.05" r="1.2" fill="#e2d4ad"/>
<circle cx="284.96" cy="742.22" r="1.2" fill="#e2d4ad"/>
<circle cx="283.69" cy="745.65" r="1.2" fill="#e2d4ad"/>
<circle cx="283.44" cy="745.64" r="1.2" fill="#e2d4ad"/>
<circle cx="305" cy="744" r="1.6" fill="#dcc696"/>
<circle cx="216.6" cy="762" r="7" fill="url(#spot)"/>
<circle cx="237.4" cy="762" r="6.6" fill="url(#spot)"/>
<circle cx="254.2" cy="762" r="6.3" fill="#b29e76"/>
<circle cx="250.46" cy="763.3" r="0.95" fill="#e4d5ad"/>
<circle cx="258.86" cy="762.69" r="0.95" fill="#e4d5ad"/>
<circle cx="251.3" cy="762.19" r="0.95" fill="#e4d5ad"/>
<circle cx="254.65" cy="756.73" r="0.95" fill="#e4d5ad"/>
<circle cx="251.75" cy="762.66" r="0.95" fill="#e4d5ad"/>
<circle cx="252.27" cy="762.33" r="0.95" fill="#e4d5ad"/>
<circle cx="256.92" cy="764.84" r="0.95" fill="#e4d5ad"/>
<circle cx="257.54" cy="764.17" r="0.95" fill="#e4d5ad"/>
<circle cx="252.99" cy="761.92" r="0.95" fill="#e4d5ad"/>
<circle cx="253.08" cy="760.7" r="0.95" fill="#e4d5ad"/>
<circle cx="253.65" cy="756.75" r="0.95" fill="#e4d5ad"/>
<circle cx="252.81" cy="761.9" r="0.95" fill="#e4d5ad"/>
<circle cx="250.52" cy="761.91" r="0.95" fill="#e4d5ad"/>
<circle cx="256.3" cy="761.33" r="0.95" fill="#e4d5ad"/>
<circle cx="257.92" cy="757.33" r="0.95" fill="#e4d5ad"/>
<circle cx="253.59" cy="756.63" r="0.95" fill="#e4d5ad"/>
<circle cx="256.25" cy="767.56" r="0.95" fill="#e4d5ad"/>
<circle cx="248.35" cy="762.3" r="0.95" fill="#e4d5ad"/>
<circle cx="256.3" cy="760.78" r="0.95" fill="#e4d5ad"/>
<circle cx="255.58" cy="756.39" r="0.95" fill="#e4d5ad"/>
<circle cx="257.45" cy="763.42" r="0.95" fill="#e4d5ad"/>
<circle cx="254.29" cy="759.62" r="0.95" fill="#e4d5ad"/>
<circle cx="256.7" cy="760.1" r="0.95" fill="#e4d5ad"/>
<circle cx="255.11" cy="759.92" r="0.95" fill="#e4d5ad"/>
<circle cx="248.46" cy="761.92" r="0.95" fill="#e4d5ad"/>
<circle cx="254.99" cy="764.96" r="0.95" fill="#e4d5ad"/>
<circle cx="250.82" cy="761.87" r="0.95" fill="#e4d5ad"/>
<circle cx="256.69" cy="762.59" r="0.95" fill="#e4d5ad"/>
<circle cx="257.27" cy="766.91" r="0.95" fill="#e4d5ad"/>
<circle cx="251.78" cy="756.88" r="0.95" fill="#e4d5ad"/>
<circle cx="256.79" cy="766.63" r="0.95" fill="#e4d5ad"/>
<circle cx="257.47" cy="764.89" r="0.95" fill="#e4d5ad"/>
<circle cx="251.85" cy="759.29" r="0.95" fill="#e4d5ad"/>
<circle cx="257.31" cy="758.81" r="0.95" fill="#e4d5ad"/>
<circle cx="249.27" cy="759.29" r="0.95" fill="#e4d5ad"/>
<circle cx="258.92" cy="765.64" r="0.95" fill="#e4d5ad"/>
<circle cx="251.62" cy="759.26" r="0.95" fill="#e4d5ad"/>
<circle cx="255.11" cy="759.06" r="0.95" fill="#e4d5ad"/>
<circle cx="258.74" cy="761.73" r="0.95" fill="#e4d5ad"/>
<circle cx="250.86" cy="766.03" r="0.95" fill="#e4d5ad"/>
<circle cx="251.85" cy="762.89" r="0.95" fill="#e4d5ad"/>
<circle cx="254.15" cy="760.69" r="0.95" fill="#e4d5ad"/>
<circle cx="255.48" cy="759.27" r="0.95" fill="#e4d5ad"/>
<circle cx="250.39" cy="757.44" r="0.95" fill="#e4d5ad"/>
<circle cx="250.02" cy="759.5" r="0.95" fill="#e4d5ad"/>
<circle cx="254.1" cy="762.23" r="0.95" fill="#e4d5ad"/>
<circle cx="256.46" cy="762.49" r="0.95" fill="#e4d5ad"/>
<circle cx="251.27" cy="759.38" r="0.95" fill="#e4d5ad"/>
<circle cx="265.72" cy="761.58" r="1" fill="#e2d4ad"/>
<circle cx="272.8" cy="763.97" r="1" fill="#e2d4ad"/>
<circle cx="270.52" cy="761.31" r="1" fill="#e2d4ad"/>
<circle cx="274.34" cy="762.05" r="1" fill="#e2d4ad"/>
<circle cx="273.63" cy="764.07" r="1" fill="#e2d4ad"/>
<circle cx="271.69" cy="766.22" r="1" fill="#e2d4ad"/>
<circle cx="268.86" cy="760.66" r="1" fill="#e2d4ad"/>
<circle cx="268.25" cy="759.29" r="1" fill="#e2d4ad"/>
<circle cx="274.59" cy="766.06" r="1" fill="#e2d4ad"/>
<circle cx="271.09" cy="764.16" r="1" fill="#e2d4ad"/>
<circle cx="274.69" cy="764.53" r="1" fill="#e2d4ad"/>
<circle cx="274.42" cy="758.42" r="1" fill="#e2d4ad"/>
<circle cx="268.65" cy="763.66" r="1" fill="#e2d4ad"/>
<circle cx="275.49" cy="762.32" r="1" fill="#e2d4ad"/>
<circle cx="267.94" cy="760.73" r="1" fill="#e2d4ad"/>
<circle cx="268.72" cy="759.04" r="1" fill="#e2d4ad"/>
<circle cx="275.43" cy="760.16" r="1" fill="#e2d4ad"/>
<circle cx="271.05" cy="767.32" r="1" fill="#e2d4ad"/>
<circle cx="274.93" cy="763.11" r="1" fill="#e2d4ad"/>
<circle cx="268.73" cy="763.52" r="1" fill="#e2d4ad"/>
<circle cx="275.61" cy="763.77" r="1" fill="#e2d4ad"/>
<circle cx="275.14" cy="762.32" r="1" fill="#e2d4ad"/>
<circle cx="272.97" cy="761.23" r="1" fill="#e2d4ad"/>
<circle cx="272.36" cy="766.15" r="1" fill="#e2d4ad"/>
<circle cx="266.52" cy="761.8" r="1" fill="#e2d4ad"/>
<circle cx="271.91" cy="759.84" r="1" fill="#e2d4ad"/>
<circle cx="269.88" cy="764.86" r="1" fill="#e2d4ad"/>
<circle cx="276.04" cy="763.58" r="1" fill="#e2d4ad"/>
<circle cx="271.97" cy="757.36" r="1" fill="#e2d4ad"/>
<circle cx="276.14" cy="762.21" r="1" fill="#e2d4ad"/>
<circle cx="286.61" cy="758.93" r="1.2" fill="#e2d4ad"/>
<circle cx="286.54" cy="758.98" r="1.2" fill="#e2d4ad"/>
<circle cx="286.92" cy="763.44" r="1.2" fill="#e2d4ad"/>
<circle cx="286.8" cy="762.88" r="1.2" fill="#e2d4ad"/>
<circle cx="216.6" cy="779.8" r="7" fill="url(#spot)"/>
<circle cx="237.4" cy="779.8" r="6.6" fill="url(#spot)"/>
<circle cx="254.2" cy="779.8" r="6.3" fill="#b29e76"/>
<circle cx="251.55" cy="784.25" r="0.95" fill="#e4d5ad"/>
<circle cx="252.34" cy="774.62" r="0.95" fill="#e4d5ad"/>
<circle cx="253.46" cy="776.8" r="0.95" fill="#e4d5ad"/>
<circle cx="250.47" cy="778.49" r="0.95" fill="#e4d5ad"/>
<circle cx="255.24" cy="775.6" r="0.95" fill="#e4d5ad"/>
<circle cx="253.74" cy="784.57" r="0.95" fill="#e4d5ad"/>
<circle cx="256.92" cy="779.19" r="0.95" fill="#e4d5ad"/>
<circle cx="254.74" cy="779.29" r="0.95" fill="#e4d5ad"/>
<circle cx="254.01" cy="782.7" r="0.95" fill="#e4d5ad"/>
<circle cx="253.98" cy="773.99" r="0.95" fill="#e4d5ad"/>
<circle cx="254.12" cy="776.38" r="0.95" fill="#e4d5ad"/>
<circle cx="256.7" cy="777.45" r="0.95" fill="#e4d5ad"/>
<circle cx="254.59" cy="785.49" r="0.95" fill="#e4d5ad"/>
<circle cx="250.81" cy="776.15" r="0.95" fill="#e4d5ad"/>
<circle cx="251.19" cy="774.7" r="0.95" fill="#e4d5ad"/>
<circle cx="248.82" cy="780.84" r="0.95" fill="#e4d5ad"/>
<circle cx="252.41" cy="774.56" r="0.95" fill="#e4d5ad"/>
<circle cx="249.5" cy="781.76" r="0.95" fill="#e4d5ad"/>
<circle cx="251.2" cy="778.38" r="0.95" fill="#e4d5ad"/>
<circle cx="255.32" cy="784.39" r="0.95" fill="#e4d5ad"/>
<circle cx="259.24" cy="782.48" r="0.95" fill="#e4d5ad"/>
<circle cx="254.8" cy="780.57" r="0.95" fill="#e4d5ad"/>
<circle cx="258.72" cy="783.38" r="0.95" fill="#e4d5ad"/>
<circle cx="252.93" cy="781.67" r="0.95" fill="#e4d5ad"/>
<circle cx="255.4" cy="780.02" r="0.95" fill="#e4d5ad"/>
<circle cx="252.52" cy="775.34" r="0.95" fill="#e4d5ad"/>
<circle cx="252.52" cy="774.94" r="0.95" fill="#e4d5ad"/>
<circle cx="258.41" cy="781.65" r="0.95" fill="#e4d5ad"/>
<circle cx="250.66" cy="783.89" r="0.95" fill="#e4d5ad"/>
<circle cx="256.59" cy="774.68" r="0.95" fill="#e4d5ad"/>
<circle cx="259.3" cy="782.04" r="0.95" fill="#e4d5ad"/>
<circle cx="259.2" cy="776.82" r="0.95" fill="#e4d5ad"/>
<circle cx="256.32" cy="781.49" r="0.95" fill="#e4d5ad"/>
<circle cx="255.05" cy="780.52" r="0.95" fill="#e4d5ad"/>
<circle cx="257.31" cy="775.39" r="0.95" fill="#e4d5ad"/>
<circle cx="250.58" cy="775.74" r="0.95" fill="#e4d5ad"/>
<circle cx="252.03" cy="777.44" r="0.95" fill="#e4d5ad"/>
<circle cx="255.72" cy="780.9" r="0.95" fill="#e4d5ad"/>
<circle cx="254.33" cy="777.09" r="0.95" fill="#e4d5ad"/>
<circle cx="252.56" cy="783.33" r="0.95" fill="#e4d5ad"/>
<circle cx="257.21" cy="780.2" r="0.95" fill="#e4d5ad"/>
<circle cx="253.17" cy="784.76" r="0.95" fill="#e4d5ad"/>
<circle cx="251.91" cy="782.3" r="0.95" fill="#e4d5ad"/>
<circle cx="258.34" cy="778.85" r="0.95" fill="#e4d5ad"/>
<circle cx="257" cy="776.02" r="0.95" fill="#e4d5ad"/>
<circle cx="257.97" cy="780.54" r="0.95" fill="#e4d5ad"/>
<circle cx="249.35" cy="781.85" r="0.95" fill="#e4d5ad"/>
<circle cx="251.33" cy="783.92" r="0.95" fill="#e4d5ad"/>
<circle cx="268.47" cy="779.19" r="1" fill="#e2d4ad"/>
<circle cx="272.09" cy="778.51" r="1" fill="#e2d4ad"/>
<circle cx="271.98" cy="777.71" r="1" fill="#e2d4ad"/>
<circle cx="273.52" cy="779.82" r="1" fill="#e2d4ad"/>
<circle cx="271.42" cy="774.28" r="1" fill="#e2d4ad"/>
<circle cx="274.92" cy="779.91" r="1" fill="#e2d4ad"/>
<circle cx="266.01" cy="780.07" r="1" fill="#e2d4ad"/>
<circle cx="272.57" cy="783.41" r="1" fill="#e2d4ad"/>
<circle cx="268.07" cy="783.98" r="1" fill="#e2d4ad"/>
<circle cx="270.64" cy="785.23" r="1" fill="#e2d4ad"/>
<circle cx="270.45" cy="782.34" r="1" fill="#e2d4ad"/>
<circle cx="269.77" cy="776.04" r="1" fill="#e2d4ad"/>
<circle cx="274.44" cy="782.65" r="1" fill="#e2d4ad"/>
<circle cx="275.34" cy="782.22" r="1" fill="#e2d4ad"/>
<circle cx="269.38" cy="775.1" r="1" fill="#e2d4ad"/>
<circle cx="268.68" cy="777.4" r="1" fill="#e2d4ad"/>
<circle cx="268.14" cy="781.84" r="1" fill="#e2d4ad"/>
<circle cx="272.27" cy="778.76" r="1" fill="#e2d4ad"/>
<circle cx="271.68" cy="779.23" r="1" fill="#e2d4ad"/>
<circle cx="271.78" cy="782.56" r="1" fill="#e2d4ad"/>
<circle cx="274.23" cy="777.49" r="1" fill="#e2d4ad"/>
<circle cx="267.18" cy="783.42" r="1" fill="#e2d4ad"/>
<circle cx="271.39" cy="783.58" r="1" fill="#e2d4ad"/>
<circle cx="266.23" cy="778.84" r="1" fill="#e2d4ad"/>
<circle cx="271.08" cy="775.3" r="1" fill="#e2d4ad"/>
<circle cx="269.14" cy="782.41" r="1" fill="#e2d4ad"/>
<circle cx="273.88" cy="784.06" r="1" fill="#e2d4ad"/>
<circle cx="268.47" cy="775.69" r="1" fill="#e2d4ad"/>
<circle cx="272.8" cy="783.05" r="1" fill="#e2d4ad"/>
<circle cx="271.63" cy="775.58" r="1" fill="#e2d4ad"/>
<circle cx="288.85" cy="781.98" r="1.2" fill="#e2d4ad"/>
<circle cx="288.35" cy="778.35" r="1.2" fill="#e2d4ad"/>
<circle cx="287.59" cy="782.11" r="1.2" fill="#e2d4ad"/>
<circle cx="285.5" cy="775.84" r="1.2" fill="#e2d4ad"/>
<circle cx="305" cy="779.8" r="1.6" fill="#dcc696"/>
<circle cx="216.6" cy="797.4" r="7" fill="url(#spot)"/>
<circle cx="237.4" cy="797.4" r="6.6" fill="url(#spot)"/>
<circle cx="254.2" cy="797.4" r="6.3" fill="#b29e76"/>
<circle cx="255.53" cy="799.35" r="0.95" fill="#e4d5ad"/>
<circle cx="254.25" cy="800.82" r="0.95" fill="#e4d5ad"/>
<circle cx="251.82" cy="797.07" r="0.95" fill="#e4d5ad"/>
<circle cx="252.97" cy="799.7" r="0.95" fill="#e4d5ad"/>
<circle cx="259.25" cy="796.61" r="0.95" fill="#e4d5ad"/>
<circle cx="258.91" cy="800.9" r="0.95" fill="#e4d5ad"/>
<circle cx="257.18" cy="799.61" r="0.95" fill="#e4d5ad"/>
<circle cx="259.51" cy="796.86" r="0.95" fill="#e4d5ad"/>
<circle cx="253.79" cy="793.47" r="0.95" fill="#e4d5ad"/>
<circle cx="255.79" cy="801.91" r="0.95" fill="#e4d5ad"/>
<circle cx="256.33" cy="799.09" r="0.95" fill="#e4d5ad"/>
<circle cx="253.36" cy="798.11" r="0.95" fill="#e4d5ad"/>
<circle cx="249.91" cy="800.56" r="0.95" fill="#e4d5ad"/>
<circle cx="252.73" cy="793.43" r="0.95" fill="#e4d5ad"/>
<circle cx="251.46" cy="794.39" r="0.95" fill="#e4d5ad"/>
<circle cx="257.12" cy="801.02" r="0.95" fill="#e4d5ad"/>
<circle cx="249.94" cy="800.3" r="0.95" fill="#e4d5ad"/>
<circle cx="257.49" cy="795.26" r="0.95" fill="#e4d5ad"/>
<circle cx="249.57" cy="795.08" r="0.95" fill="#e4d5ad"/>
<circle cx="251.68" cy="798.76" r="0.95" fill="#e4d5ad"/>
<circle cx="253.22" cy="791.87" r="0.95" fill="#e4d5ad"/>
<circle cx="254.95" cy="792.45" r="0.95" fill="#e4d5ad"/>
<circle cx="257.16" cy="793.45" r="0.95" fill="#e4d5ad"/>
<circle cx="251.66" cy="794.27" r="0.95" fill="#e4d5ad"/>
<circle cx="252.37" cy="801.78" r="0.95" fill="#e4d5ad"/>
<circle cx="257.37" cy="799.64" r="0.95" fill="#e4d5ad"/>
<circle cx="255.22" cy="792.45" r="0.95" fill="#e4d5ad"/>
<circle cx="252.15" cy="795.22" r="0.95" fill="#e4d5ad"/>
<circle cx="250.62" cy="799.27" r="0.95" fill="#e4d5ad"/>
<circle cx="251.43" cy="794.75" r="0.95" fill="#e4d5ad"/>
<circle cx="251.59" cy="792.25" r="0.95" fill="#e4d5ad"/>
<circle cx="256.18" cy="801.82" r="0.95" fill="#e4d5ad"/>
<circle cx="254.86" cy="793.73" r="0.95" fill="#e4d5ad"/>
<circle cx="248.3" cy="797.78" r="0.95" fill="#e4d5ad"/>
<circle cx="258.49" cy="798.45" r="0.95" fill="#e4d5ad"/>
<circle cx="257.01" cy="801.88" r="0.95" fill="#e4d5ad"/>
<circle cx="258.22" cy="795.83" r="0.95" fill="#e4d5ad"/>
<circle cx="257.85" cy="800.09" r="0.95" fill="#e4d5ad"/>
<circle cx="249.3" cy="796.11" r="0.95" fill="#e4d5ad"/>
<circle cx="249.43" cy="797.03" r="0.95" fill="#e4d5ad"/>
<circle cx="256.26" cy="793.6" r="0.95" fill="#e4d5ad"/>
<circle cx="249.27" cy="800.51" r="0.95" fill="#e4d5ad"/>
<circle cx="255.43" cy="802.2" r="0.95" fill="#e4d5ad"/>
<circle cx="250.12" cy="800.67" r="0.95" fill="#e4d5ad"/>
<circle cx="258.47" cy="801.53" r="0.95" fill="#e4d5ad"/>
<circle cx="253.32" cy="798.52" r="0.95" fill="#e4d5ad"/>
<circle cx="253.62" cy="801.14" r="0.95" fill="#e4d5ad"/>
<circle cx="258.06" cy="797.72" r="0.95" fill="#e4d5ad"/>
<circle cx="267.33" cy="799.4" r="1" fill="#e2d4ad"/>
<circle cx="269.46" cy="799.46" r="1" fill="#e2d4ad"/>
<circle cx="271.69" cy="801.65" r="1" fill="#e2d4ad"/>
<circle cx="274.37" cy="796.06" r="1" fill="#e2d4ad"/>
<circle cx="271.87" cy="801.79" r="1" fill="#e2d4ad"/>
<circle cx="269.21" cy="798.85" r="1" fill="#e2d4ad"/>
<circle cx="274.03" cy="800.6" r="1" fill="#e2d4ad"/>
<circle cx="272.46" cy="793.69" r="1" fill="#e2d4ad"/>
<circle cx="267.32" cy="798.12" r="1" fill="#e2d4ad"/>
<circle cx="271.74" cy="802.25" r="1" fill="#e2d4ad"/>
<circle cx="268.59" cy="800.59" r="1" fill="#e2d4ad"/>
<circle cx="272.89" cy="793.3" r="1" fill="#e2d4ad"/>
<circle cx="268.34" cy="797.94" r="1" fill="#e2d4ad"/>
<circle cx="269.31" cy="796.87" r="1" fill="#e2d4ad"/>
<circle cx="272.5" cy="794.82" r="1" fill="#e2d4ad"/>
<circle cx="272.53" cy="795.31" r="1" fill="#e2d4ad"/>
<circle cx="269.21" cy="799.17" r="1" fill="#e2d4ad"/>
<circle cx="269.07" cy="798.37" r="1" fill="#e2d4ad"/>
<circle cx="289.25" cy="797.44" r="0.9" fill="#e2d4ad"/>
<circle cx="216.6" cy="815" r="7" fill="url(#spot)"/>
<circle cx="237.4" cy="815" r="6.6" fill="url(#spot)"/>
<circle cx="254.2" cy="815" r="6.3" fill="#b29e76"/>
<circle cx="253.62" cy="817.91" r="0.95" fill="#e4d5ad"/>
<circle cx="252.87" cy="818.93" r="0.95" fill="#e4d5ad"/>
<circle cx="249.9" cy="817.08" r="0.95" fill="#e4d5ad"/>
<circle cx="252.26" cy="811.97" r="0.95" fill="#e4d5ad"/>
<circle cx="259.19" cy="812.6" r="0.95" fill="#e4d5ad"/>
<circle cx="259.3" cy="816.91" r="0.95" fill="#e4d5ad"/>
<circle cx="258.6" cy="812.04" r="0.95" fill="#e4d5ad"/>
<circle cx="257.67" cy="819.21" r="0.95" fill="#e4d5ad"/>
<circle cx="253.71" cy="814.46" r="0.95" fill="#e4d5ad"/>
<circle cx="260.02" cy="815.42" r="0.95" fill="#e4d5ad"/>
<circle cx="252.53" cy="812.51" r="0.95" fill="#e4d5ad"/>
<circle cx="256.02" cy="816.35" r="0.95" fill="#e4d5ad"/>
<circle cx="254.74" cy="820.25" r="0.95" fill="#e4d5ad"/>
<circle cx="252.87" cy="816.92" r="0.95" fill="#e4d5ad"/>
<circle cx="258.59" cy="811.98" r="0.95" fill="#e4d5ad"/>
<circle cx="256.99" cy="819.91" r="0.95" fill="#e4d5ad"/>
<circle cx="250.09" cy="811.67" r="0.95" fill="#e4d5ad"/>
<circle cx="251.43" cy="810.07" r="0.95" fill="#e4d5ad"/>
<circle cx="255.5" cy="809.67" r="0.95" fill="#e4d5ad"/>
<circle cx="255.82" cy="819.71" r="0.95" fill="#e4d5ad"/>
<circle cx="249.14" cy="814.01" r="0.95" fill="#e4d5ad"/>
<circle cx="248.99" cy="817.12" r="0.95" fill="#e4d5ad"/>
<circle cx="251.3" cy="813.96" r="0.95" fill="#e4d5ad"/>
<circle cx="254.42" cy="817.22" r="0.95" fill="#e4d5ad"/>
<circle cx="252.75" cy="815.06" r="0.95" fill="#e4d5ad"/>
<circle cx="251.97" cy="815.47" r="0.95" fill="#e4d5ad"/>
<circle cx="249.98" cy="815.23" r="0.95" fill="#e4d5ad"/>
<circle cx="248.81" cy="813.63" r="0.95" fill="#e4d5ad"/>
<circle cx="259.68" cy="815.23" r="0.95" fill="#e4d5ad"/>
<circle cx="249.8" cy="815.9" r="0.95" fill="#e4d5ad"/>
<circle cx="251.42" cy="810.27" r="0.95" fill="#e4d5ad"/>
<circle cx="251.46" cy="817.74" r="0.95" fill="#e4d5ad"/>
<circle cx="255.79" cy="814.6" r="0.95" fill="#e4d5ad"/>
<circle cx="251.09" cy="811.38" r="0.95" fill="#e4d5ad"/>
<circle cx="258.8" cy="815.83" r="0.95" fill="#e4d5ad"/>
<circle cx="251.83" cy="809.73" r="0.95" fill="#e4d5ad"/>
<circle cx="251.33" cy="820.19" r="0.95" fill="#e4d5ad"/>
<circle cx="250.04" cy="814.72" r="0.95" fill="#e4d5ad"/>
<circle cx="255.08" cy="814.34" r="0.95" fill="#e4d5ad"/>
<circle cx="253.26" cy="810.36" r="0.95" fill="#e4d5ad"/>
<circle cx="251.26" cy="819.72" r="0.95" fill="#e4d5ad"/>
<circle cx="251.45" cy="818.07" r="0.95" fill="#e4d5ad"/>
<circle cx="249.01" cy="814.16" r="0.95" fill="#e4d5ad"/>
<circle cx="255.16" cy="818.83" r="0.95" fill="#e4d5ad"/>
<circle cx="250.26" cy="817.09" r="0.95" fill="#e4d5ad"/>
<circle cx="255.7" cy="812.13" r="0.95" fill="#e4d5ad"/>
<circle cx="255.98" cy="811.64" r="0.95" fill="#e4d5ad"/>
<circle cx="251.08" cy="814.93" r="0.95" fill="#e4d5ad"/>
<circle cx="266.07" cy="814.8" r="1" fill="#e2d4ad"/>
<circle cx="268.49" cy="811.33" r="1" fill="#e2d4ad"/>
<circle cx="269.63" cy="817.46" r="1" fill="#e2d4ad"/>
<circle cx="269.83" cy="818.65" r="1" fill="#e2d4ad"/>
<circle cx="268.07" cy="811.68" r="1" fill="#e2d4ad"/>
<circle cx="275.12" cy="816.06" r="1" fill="#e2d4ad"/>
<circle cx="273.78" cy="812.57" r="1" fill="#e2d4ad"/>
<circle cx="273.61" cy="815.84" r="1" fill="#e2d4ad"/>
<circle cx="273.18" cy="815.09" r="1" fill="#e2d4ad"/>
<circle cx="274.44" cy="813.15" r="1" fill="#e2d4ad"/>
<circle cx="268.57" cy="811.28" r="1" fill="#e2d4ad"/>
<circle cx="274.3" cy="812.9" r="1" fill="#e2d4ad"/>
<circle cx="268.06" cy="812.35" r="1" fill="#e2d4ad"/>
<circle cx="269.72" cy="811.36" r="1" fill="#e2d4ad"/>
<circle cx="270.03" cy="812.91" r="1" fill="#e2d4ad"/>
<circle cx="269.31" cy="812.07" r="1" fill="#e2d4ad"/>
<circle cx="271.13" cy="813.41" r="1" fill="#e2d4ad"/>
<circle cx="271.4" cy="815.87" r="1" fill="#e2d4ad"/>
<circle cx="287.14" cy="812.17" r="0.9" fill="#e2d4ad"/>
<circle cx="330.5" cy="744" r="6.2" fill="url(#spot)"/>
<circle cx="328.47" cy="740.98" r="0.7" fill="#e6d9b6"/>
<circle cx="332.84" cy="739.22" r="0.7" fill="#e6d9b6"/>
<circle cx="327.68" cy="742.84" r="0.7" fill="#e6d9b6"/>
<circle cx="329.25" cy="747.69" r="0.7" fill="#e6d9b6"/>
<circle cx="328.86" cy="747.58" r="0.7" fill="#e6d9b6"/>
<circle cx="326.85" cy="739.49" r="0.7" fill="#e6d9b6"/>
<circle cx="334.76" cy="745.52" r="0.7" fill="#e6d9b6"/>
<circle cx="332.51" cy="744.51" r="0.7" fill="#e6d9b6"/>
<circle cx="332.18" cy="739.77" r="0.7" fill="#e6d9b6"/>
<circle cx="334" cy="742.04" r="0.7" fill="#e6d9b6"/>
<circle cx="334.22" cy="744.33" r="0.7" fill="#e6d9b6"/>
<circle cx="325.63" cy="740.83" r="0.7" fill="#e6d9b6"/>
<circle cx="334.61" cy="743.5" r="0.7" fill="#e6d9b6"/>
<circle cx="328.87" cy="745" r="0.7" fill="#e6d9b6"/>
<circle cx="328.8" cy="741.82" r="0.7" fill="#e6d9b6"/>
<circle cx="330.93" cy="744.61" r="0.7" fill="#e6d9b6"/>
<circle cx="335.46" cy="744.15" r="0.7" fill="#e6d9b6"/>
<circle cx="334.76" cy="748.08" r="0.7" fill="#e6d9b6"/>
<circle cx="335.26" cy="746.94" r="0.7" fill="#e6d9b6"/>
<circle cx="331.05" cy="744.58" r="0.7" fill="#e6d9b6"/>
<circle cx="329.93" cy="741.1" r="0.7" fill="#e6d9b6"/>
<circle cx="330.23" cy="741.42" r="0.7" fill="#e6d9b6"/>
<circle cx="335.52" cy="745.64" r="0.7" fill="#e6d9b6"/>
<circle cx="329.24" cy="738.6" r="0.7" fill="#e6d9b6"/>
<circle cx="330.28" cy="742.27" r="0.7" fill="#e6d9b6"/>
<circle cx="327.01" cy="740.35" r="0.7" fill="#e6d9b6"/>
<circle cx="324.88" cy="745.42" r="0.7" fill="#e6d9b6"/>
<circle cx="330.35" cy="749.89" r="0.7" fill="#e6d9b6"/>
<circle cx="330.37" cy="743.37" r="0.7" fill="#e6d9b6"/>
<circle cx="335.32" cy="744.45" r="0.7" fill="#e6d9b6"/>
<circle cx="346.2" cy="744" r="5.6" fill="#c8b48a" fill-opacity="0.25"/>
<circle cx="346.85" cy="742.56" r="0.65" fill="#e0d0a8"/>
<circle cx="344.41" cy="748.44" r="0.65" fill="#e0d0a8"/>
<circle cx="348.82" cy="748.49" r="0.65" fill="#e0d0a8"/>
<circle cx="344.84" cy="744.12" r="0.65" fill="#e0d0a8"/>
<circle cx="343.34" cy="747.14" r="0.65" fill="#e0d0a8"/>
<circle cx="341.93" cy="745.73" r="0.65" fill="#e0d0a8"/>
<circle cx="349.27" cy="747.95" r="0.65" fill="#e0d0a8"/>
<circle cx="343.26" cy="747.41" r="0.65" fill="#e0d0a8"/>
<circle cx="343.72" cy="741.37" r="0.65" fill="#e0d0a8"/>
<circle cx="342.46" cy="747.27" r="0.65" fill="#e0d0a8"/>
<circle cx="350.87" cy="742.32" r="0.65" fill="#e0d0a8"/>
<circle cx="343.43" cy="742.77" r="0.65" fill="#e0d0a8"/>
<circle cx="351.33" cy="746.06" r="0.65" fill="#e0d0a8"/>
<circle cx="344.73" cy="739.12" r="0.65" fill="#e0d0a8"/>
<circle cx="344.05" cy="747.79" r="0.65" fill="#e0d0a8"/>
<circle cx="351.25" cy="743.28" r="0.65" fill="#e0d0a8"/>
<circle cx="343.7" cy="742.15" r="0.65" fill="#e0d0a8"/>
<circle cx="341.45" cy="746.29" r="0.65" fill="#e0d0a8"/>
<circle cx="342.89" cy="747.24" r="0.65" fill="#e0d0a8"/>
<circle cx="341.95" cy="740.84" r="0.65" fill="#e0d0a8"/>
<circle cx="347.25" cy="741.21" r="0.65" fill="#e0d0a8"/>
<circle cx="349.07" cy="744.03" r="0.65" fill="#e0d0a8"/>
<circle cx="330.5" cy="762" r="6.2" fill="url(#spot)"/>
<circle cx="326.44" cy="764.15" r="0.7" fill="#e6d9b6"/>
<circle cx="332.78" cy="756.83" r="0.7" fill="#e6d9b6"/>
<circle cx="335.78" cy="763.44" r="0.7" fill="#e6d9b6"/>
<circle cx="332.61" cy="756.83" r="0.7" fill="#e6d9b6"/>
<circle cx="327.68" cy="760.63" r="0.7" fill="#e6d9b6"/>
<circle cx="333.7" cy="757.66" r="0.7" fill="#e6d9b6"/>
<circle cx="328.21" cy="756.74" r="0.7" fill="#e6d9b6"/>
<circle cx="329.5" cy="763.44" r="0.7" fill="#e6d9b6"/>
<circle cx="325.44" cy="760.23" r="0.7" fill="#e6d9b6"/>
<circle cx="332.09" cy="766.95" r="0.7" fill="#e6d9b6"/>
<circle cx="333.14" cy="760.79" r="0.7" fill="#e6d9b6"/>
<circle cx="326.63" cy="758.93" r="0.7" fill="#e6d9b6"/>
<circle cx="327.84" cy="762.59" r="0.7" fill="#e6d9b6"/>
<circle cx="330.35" cy="767.2" r="0.7" fill="#e6d9b6"/>
<circle cx="331.55" cy="758.07" r="0.7" fill="#e6d9b6"/>
<circle cx="335.09" cy="764.82" r="0.7" fill="#e6d9b6"/>
<circle cx="330.9" cy="759.13" r="0.7" fill="#e6d9b6"/>
<circle cx="325.51" cy="759.28" r="0.7" fill="#e6d9b6"/>
<circle cx="333.75" cy="759.14" r="0.7" fill="#e6d9b6"/>
<circle cx="325.94" cy="762.68" r="0.7" fill="#e6d9b6"/>
<circle cx="331.48" cy="764.44" r="0.7" fill="#e6d9b6"/>
<circle cx="332.62" cy="766.55" r="0.7" fill="#e6d9b6"/>
<circle cx="327.57" cy="765.42" r="0.7" fill="#e6d9b6"/>
<circle cx="326.97" cy="764.48" r="0.7" fill="#e6d9b6"/>
<circle cx="331.25" cy="763.02" r="0.7" fill="#e6d9b6"/>
<circle cx="334.17" cy="761.93" r="0.7" fill="#e6d9b6"/>
<circle cx="334.25" cy="764.95" r="0.7" fill="#e6d9b6"/>
<circle cx="331.05" cy="759.69" r="0.7" fill="#e6d9b6"/>
<circle cx="327.61" cy="759.98" r="0.7" fill="#e6d9b6"/>
<circle cx="329.65" cy="761.9" r="0.7" fill="#e6d9b6"/>
<circle cx="346.2" cy="762" r="5.6" fill="#c8b48a" fill-opacity="0.25"/>
<circle cx="351.65" cy="763.17" r="0.65" fill="#e0d0a8"/>
<circle cx="348.8" cy="759.09" r="0.65" fill="#e0d0a8"/>
<circle cx="343.59" cy="760.83" r="0.65" fill="#e0d0a8"/>
<circle cx="346.87" cy="758.41" r="0.65" fill="#e0d0a8"/>
<circle cx="350.83" cy="760.38" r="0.65" fill="#e0d0a8"/>
<circle cx="348.5" cy="757.01" r="0.65" fill="#e0d0a8"/>
<circle cx="346.17" cy="763.09" r="0.65" fill="#e0d0a8"/>
<circle cx="346.92" cy="764.27" r="0.65" fill="#e0d0a8"/>
<circle cx="347.29" cy="762.63" r="0.65" fill="#e0d0a8"/>
<circle cx="341.31" cy="760.16" r="0.65" fill="#e0d0a8"/>
<circle cx="340.94" cy="763.41" r="0.65" fill="#e0d0a8"/>
<circle cx="347.4" cy="761.24" r="0.65" fill="#e0d0a8"/>
<circle cx="343.32" cy="759.96" r="0.65" fill="#e0d0a8"/>
<circle cx="350.2" cy="765.75" r="0.65" fill="#e0d0a8"/>
<circle cx="346.01" cy="766.2" r="0.65" fill="#e0d0a8"/>
<circle cx="342.73" cy="757.77" r="0.65" fill="#e0d0a8"/>
<circle cx="344.5" cy="758.93" r="0.65" fill="#e0d0a8"/>
<circle cx="344.08" cy="762.71" r="0.65" fill="#e0d0a8"/>
<circle cx="351.65" cy="760.81" r="0.65" fill="#e0d0a8"/>
<circle cx="346.39" cy="763.08" r="0.65" fill="#e0d0a8"/>
<circle cx="346.08" cy="765.32" r="0.65" fill="#e0d0a8"/>
<circle cx="350.56" cy="758.94" r="0.65" fill="#e0d0a8"/>
<circle cx="330.5" cy="779.8" r="6.2" fill="url(#spot)"/>
<circle cx="331.18" cy="778.69" r="0.7" fill="#e6d9b6"/>
<circle cx="331.65" cy="774.88" r="0.7" fill="#e6d9b6"/>
<circle cx="326.9" cy="775.06" r="0.7" fill="#e6d9b6"/>
<circle cx="332.64" cy="780.58" r="0.7" fill="#e6d9b6"/>
<circle cx="330.68" cy="773.99" r="0.7" fill="#e6d9b6"/>
<circle cx="329.05" cy="776.86" r="0.7" fill="#e6d9b6"/>
<circle cx="326.12" cy="776.96" r="0.7" fill="#e6d9b6"/>
<circle cx="333.19" cy="781.9" r="0.7" fill="#e6d9b6"/>
<circle cx="330.41" cy="781.91" r="0.7" fill="#e6d9b6"/>
<circle cx="328.05" cy="780.09" r="0.7" fill="#e6d9b6"/>
<circle cx="330.66" cy="782.06" r="0.7" fill="#e6d9b6"/>
<circle cx="330.2" cy="779.19" r="0.7" fill="#e6d9b6"/>
<circle cx="329.96" cy="777.21" r="0.7" fill="#e6d9b6"/>
<circle cx="336.13" cy="781.1" r="0.7" fill="#e6d9b6"/>
<circle cx="331.57" cy="785.5" r="0.7" fill="#e6d9b6"/>
<circle cx="334.29" cy="775.6" r="0.7" fill="#e6d9b6"/>
<circle cx="333.06" cy="782.89" r="0.7" fill="#e6d9b6"/>
<circle cx="335.24" cy="783.11" r="0.7" fill="#e6d9b6"/>
<circle cx="333.1" cy="775.82" r="0.7" fill="#e6d9b6"/>
<circle cx="327.16" cy="780.83" r="0.7" fill="#e6d9b6"/>
<circle cx="332.34" cy="776.08" r="0.7" fill="#e6d9b6"/>
<circle cx="328.93" cy="778.17" r="0.7" fill="#e6d9b6"/>
<circle cx="330.75" cy="781.21" r="0.7" fill="#e6d9b6"/>
<circle cx="329.49" cy="775.45" r="0.7" fill="#e6d9b6"/>
<circle cx="333.94" cy="784.22" r="0.7" fill="#e6d9b6"/>
<circle cx="330.1" cy="783.63" r="0.7" fill="#e6d9b6"/>
<circle cx="332.24" cy="782.39" r="0.7" fill="#e6d9b6"/>
<circle cx="332.35" cy="776.86" r="0.7" fill="#e6d9b6"/>
<circle cx="332.58" cy="783.46" r="0.7" fill="#e6d9b6"/>
<circle cx="328.14" cy="784.99" r="0.7" fill="#e6d9b6"/>
<circle cx="346.2" cy="779.8" r="5.6" fill="#c8b48a" fill-opacity="0.25"/>
<circle cx="350.37" cy="783.44" r="0.65" fill="#e0d0a8"/>
<circle cx="351.16" cy="781.65" r="0.65" fill="#e0d0a8"/>
<circle cx="344.94" cy="777.56" r="0.65" fill="#e0d0a8"/>
<circle cx="343.23" cy="780.22" r="0.65" fill="#e0d0a8"/>
<circle cx="346.08" cy="782.31" r="0.65" fill="#e0d0a8"/>
<circle cx="342.53" cy="784" r="0.65" fill="#e0d0a8"/>
<circle cx="351.59" cy="779.74" r="0.65" fill="#e0d0a8"/>
<circle cx="348.66" cy="781.53" r="0.65" fill="#e0d0a8"/>
<circle cx="347.27" cy="778.99" r="0.65" fill="#e0d0a8"/>
<circle cx="345.75" cy="776.8" r="0.65" fill="#e0d0a8"/>
<circle cx="346.9" cy="779.71" r="0.65" fill="#e0d0a8"/>
<circle cx="347.35" cy="776.74" r="0.65" fill="#e0d0a8"/>
<circle cx="346.36" cy="779.99" r="0.65" fill="#e0d0a8"/>
<circle cx="348.21" cy="776.27" r="0.65" fill="#e0d0a8"/>
<circle cx="347.65" cy="783.2" r="0.65" fill="#e0d0a8"/>
<circle cx="348.43" cy="778.43" r="0.65" fill="#e0d0a8"/>
<circle cx="344.32" cy="778.9" r="0.65" fill="#e0d0a8"/>
<circle cx="348.29" cy="784.25" r="0.65" fill="#e0d0a8"/>
<circle cx="345.61" cy="777.39" r="0.65" fill="#e0d0a8"/>
<circle cx="347.65" cy="780.59" r="0.65" fill="#e0d0a8"/>
<circle cx="343.14" cy="777.32" r="0.65" fill="#e0d0a8"/>
<circle cx="345.82" cy="782.31" r="0.65" fill="#e0d0a8"/>
<circle cx="330.5" cy="797.4" r="6" fill="#c8b48a" fill-opacity="0.45"/>
<circle cx="326.66" cy="794.12" r="0.6" fill="#e0d0a8"/>
<circle cx="332.23" cy="793.16" r="0.6" fill="#e0d0a8"/>
<circle cx="330.95" cy="798.87" r="0.6" fill="#e0d0a8"/>
<circle cx="330.08" cy="793.59" r="0.6" fill="#e0d0a8"/>
<circle cx="330.25" cy="796.01" r="0.6" fill="#e0d0a8"/>
<circle cx="331.79" cy="794.18" r="0.6" fill="#e0d0a8"/>
<circle cx="333.55" cy="792.73" r="0.6" fill="#e0d0a8"/>
<circle cx="329.76" cy="797.43" r="0.6" fill="#e0d0a8"/>
<circle cx="334" cy="795.19" r="0.6" fill="#e0d0a8"/>
<circle cx="332.65" cy="795.17" r="0.6" fill="#e0d0a8"/>
<circle cx="332.64" cy="802.44" r="0.6" fill="#e0d0a8"/>
<circle cx="328.87" cy="799.2" r="0.6" fill="#e0d0a8"/>
<circle cx="327.31" cy="800.75" r="0.6" fill="#e0d0a8"/>
<circle cx="334.82" cy="797.53" r="0.6" fill="#e0d0a8"/>
<circle cx="326.44" cy="798.84" r="0.6" fill="#e0d0a8"/>
<circle cx="334.18" cy="800.89" r="0.6" fill="#e0d0a8"/>
<circle cx="332.77" cy="792.3" r="0.6" fill="#e0d0a8"/>
<circle cx="328.32" cy="801.97" r="0.6" fill="#e0d0a8"/>
<circle cx="326.68" cy="800.93" r="0.6" fill="#e0d0a8"/>
<circle cx="335.7" cy="799.5" r="0.6" fill="#e0d0a8"/>
<circle cx="334.55" cy="796.2" r="0.6" fill="#e0d0a8"/>
<circle cx="326.15" cy="797.03" r="0.6" fill="#e0d0a8"/>
<circle cx="329.66" cy="797.2" r="0.6" fill="#e0d0a8"/>
<circle cx="333.28" cy="796.82" r="0.6" fill="#e0d0a8"/>
<circle cx="331.29" cy="799.15" r="0.6" fill="#e0d0a8"/>
<circle cx="330.48" cy="802.82" r="0.6" fill="#e0d0a8"/>
<circle cx="332.33" cy="797.75" r="0.6" fill="#e0d0a8"/>
<circle cx="329.66" cy="794.88" r="0.6" fill="#e0d0a8"/>
<circle cx="346.2" cy="798.4" r="3" fill="#c8b48a" fill-opacity="0.0"/>
<circle cx="348.51" cy="798.66" r="0.5" fill="#e0d0a8"/>
<circle cx="344.28" cy="797.4" r="0.5" fill="#e0d0a8"/>
<circle cx="345.92" cy="797.48" r="0.5" fill="#e0d0a8"/>
<circle cx="330.5" cy="815" r="5.6" fill="#c8b48a" fill-opacity="0.22"/>
<circle cx="333.74" cy="811.53" r="0.55" fill="#e0d0a8"/>
<circle cx="332.39" cy="815.55" r="0.55" fill="#e0d0a8"/>
<circle cx="326.54" cy="815.16" r="0.55" fill="#e0d0a8"/>
<circle cx="330.14" cy="816.92" r="0.55" fill="#e0d0a8"/>
<circle cx="328.78" cy="816.16" r="0.55" fill="#e0d0a8"/>
<circle cx="326.14" cy="812.17" r="0.55" fill="#e0d0a8"/>
<circle cx="333.05" cy="818.38" r="0.55" fill="#e0d0a8"/>
<circle cx="330.45" cy="812.73" r="0.55" fill="#e0d0a8"/>
<circle cx="332.99" cy="810.18" r="0.55" fill="#e0d0a8"/>
<circle cx="327.72" cy="817.34" r="0.55" fill="#e0d0a8"/>
<circle cx="332.67" cy="811.57" r="0.55" fill="#e0d0a8"/>
<circle cx="326.19" cy="818.31" r="0.55" fill="#e0d0a8"/>
<circle cx="331.05" cy="811.79" r="0.55" fill="#e0d0a8"/>
<circle cx="330.7" cy="818.24" r="0.55" fill="#e0d0a8"/>
<circle cx="382" cy="786.5" r="1.3" fill="#e0cc9a"/>
</g>
<text x="423.3" y="650" font-size="18.6" text-anchor="start" font-weight="bold" font-style="normal" fill="#1a1a1a" stroke="#1a1a1a" stroke-width="0" >E</text>
<line x1="482.4" y1="648" x2="482.4" y2="817.2" stroke="#222" stroke-width="1.1" />
<line x1="481.9" y1="816.7" x2="680.5" y2="816.7" stroke="#222" stroke-width="1.1" />
<line x1="479.4" y1="793.7" x2="482.4" y2="793.7" stroke="#222" stroke-width="1" />
<text x="477.4" y="797.7" font-size="12" text-anchor="end" font-weight="normal" font-style="normal" fill="#333" stroke="#333" stroke-width="0.25" >0.6</text>
<line x1="479.4" y1="750.6" x2="482.4" y2="750.6" stroke="#222" stroke-width="1" />
<text x="477.4" y="754.6" font-size="12" text-anchor="end" font-weight="normal" font-style="normal" fill="#333" stroke="#333" stroke-width="0.25" >0.7</text>
<line x1="479.4" y1="707.5" x2="482.4" y2="707.5" stroke="#222" stroke-width="1" />
<text x="477.4" y="711.5" font-size="12" text-anchor="end" font-weight="normal" font-style="normal" fill="#333" stroke="#333" stroke-width="0.25" >0.8</text>
<line x1="479.4" y1="664.4" x2="482.4" y2="664.4" stroke="#222" stroke-width="1" />
<text x="477.4" y="668.4" font-size="12" text-anchor="end" font-weight="normal" font-style="normal" fill="#333" stroke="#333" stroke-width="0.25" >0.9</text>
<text x="452.3" y="734.8" font-size="11.5" text-anchor="middle" font-weight="normal" font-style="normal" fill="#222" stroke="#222" stroke-width="0.25" transform="rotate(-90 452.3 734.8)" >Relative EAUC in 1.5 mM TBOOH</text>
<line x1="505.3" y1="816.7" x2="505.3" y2="819.7" stroke="#222" stroke-width="1" />
<line x1="543" y1="816.7" x2="543" y2="819.7" stroke="#222" stroke-width="1" />
<line x1="581.4" y1="816.7" x2="581.4" y2="819.7" stroke="#222" stroke-width="1" />
<line x1="619.3" y1="816.7" x2="619.3" y2="819.7" stroke="#222" stroke-width="1" />
<line x1="657.9" y1="816.7" x2="657.9" y2="819.7" stroke="#222" stroke-width="1" />
<line x1="505.15" y1="711.5" x2="505.15" y2="717.4" stroke="#222" stroke-width="1.1" />
<line x1="505.15" y1="738.2" x2="505.15" y2="755.3" stroke="#222" stroke-width="1.1" />
<rect x="491.4" y="717.4" width="27.5" height="20.8" fill="#B7BABD" stroke="#222" stroke-width="1.1" />
<line x1="491.4" y1="726" x2="518.9" y2="726" stroke="#111" stroke-width="2.3" />
<line x1="543.3" y1="684.8" x2="543.3" y2="714.7" stroke="#222" stroke-width="1.1" />
<line x1="543.3" y1="739.6" x2="543.3" y2="771.6" stroke="#222" stroke-width="1.1" />
<rect x="529.6" y="714.7" width="27.4" height="24.9" fill="#8E1B22" stroke="#222" stroke-width="1.1" />
<line x1="529.6" y1="715.6" x2="557" y2="715.6" stroke="#111" stroke-width="2.3" />
<line x1="581.8" y1="686.7" x2="581.8" y2="716.6" stroke="#222" stroke-width="1.1" />
<line x1="581.8" y1="773.5" x2="581.8" y2="785.5" stroke="#222" stroke-width="1.1" />
<rect x="568.3" y="716.6" width="27" height="56.9" fill="#FAD71F" stroke="#222" stroke-width="1.1" />
<line x1="568.3" y1="742.5" x2="595.3" y2="742.5" stroke="#111" stroke-width="2.3" />
<line x1="619.85" y1="744.6" x2="619.85" y2="752.9" stroke="#222" stroke-width="1.1" />
<line x1="619.85" y1="789" x2="619.85" y2="808.7" stroke="#222" stroke-width="1.1" />
<rect x="606.5" y="752.9" width="26.7" height="36.1" fill="#F4A234" stroke="#222" stroke-width="1.1" />
<line x1="606.5" y1="768.1" x2="633.2" y2="768.1" stroke="#111" stroke-width="2.3" />
<line x1="658.05" y1="732.4" x2="658.05" y2="748.4" stroke="#222" stroke-width="1.1" />
<line x1="658.05" y1="772.1" x2="658.05" y2="803.4" stroke="#222" stroke-width="1.1" />
<rect x="644.4" y="748.4" width="27.3" height="23.7" fill="#D46E2D" stroke="#222" stroke-width="1.1" />
<line x1="644.4" y1="757" x2="671.7" y2="757" stroke="#111" stroke-width="2.3" />
<line x1="482.4" y1="725.4" x2="680.5" y2="725.4" stroke="#222" stroke-width="1.2" stroke-dasharray="5.6 3.6"/>
<circle cx="512" cy="711.5" r="2.5" fill="#111"/>
<circle cx="504" cy="719.6" r="2.5" fill="#111"/>
<circle cx="510.6" cy="716.9" r="2.5" fill="#111"/>
<circle cx="509.6" cy="732.1" r="2.5" fill="#111"/>
<circle cx="501.5" cy="740.6" r="2.5" fill="#111"/>
<circle cx="498" cy="755.3" r="2.5" fill="#111"/>
<circle cx="543.7" cy="684.8" r="2.5" fill="#111"/>
<circle cx="542.9" cy="715.5" r="2.5" fill="#111"/>
<circle cx="544.3" cy="716.1" r="2.5" fill="#111"/>
<circle cx="549.3" cy="719.6" r="2.5" fill="#111"/>
<circle cx="550.4" cy="745.7" r="2.5" fill="#111"/>
<circle cx="542.7" cy="771.6" r="2.5" fill="#111"/>
<circle cx="587.6" cy="686.7" r="2.5" fill="#111"/>
<circle cx="582.5" cy="710" r="2.5" fill="#111"/>
<circle cx="574.5" cy="738.2" r="2.5" fill="#111"/>
<circle cx="578" cy="748.1" r="2.5" fill="#111"/>
<circle cx="575.6" cy="785.5" r="2.5" fill="#111"/>
<circle cx="584.4" cy="782.8" r="2.5" fill="#111"/>
<circle cx="626.5" cy="744.1" r="2.5" fill="#111"/>
<circle cx="623" cy="748.9" r="2.5" fill="#111"/>
<circle cx="625.7" cy="764.9" r="2.5" fill="#111"/>
<circle cx="627.6" cy="770.8" r="2.5" fill="#111"/>
<circle cx="617.5" cy="795.4" r="2.5" fill="#111"/>
<circle cx="621.7" cy="809.2" r="2.5" fill="#111"/>
<circle cx="660.7" cy="732.4" r="2.5" fill="#111"/>
<circle cx="659.9" cy="747.3" r="2.5" fill="#111"/>
<circle cx="654.6" cy="752.7" r="2.5" fill="#111"/>
<circle cx="661.2" cy="762.3" r="2.5" fill="#111"/>
<circle cx="652.7" cy="775.6" r="2.5" fill="#111"/>
<circle cx="658.6" cy="803.4" r="2.5" fill="#111"/>
<text x="542.9" y="674.8" font-size="7.7" text-anchor="middle" font-weight="normal" font-style="normal" fill="#333" stroke="#333" stroke-width="0.25" ><tspan font-style="italic">p</tspan>=0.792</text>
<text x="581" y="674.8" font-size="7.7" text-anchor="middle" font-weight="normal" font-style="normal" fill="#333" stroke="#333" stroke-width="0.25" ><tspan font-style="italic">p</tspan>=0.498</text>
<text x="619.6" y="674.8" font-size="7.7" text-anchor="middle" font-weight="normal" font-style="normal" fill="#333" stroke="#333" stroke-width="0.25" ><tspan font-style="italic">p</tspan>=0.008</text>
<text x="657.5" y="674.8" font-size="7.7" text-anchor="middle" font-weight="normal" font-style="normal" fill="#333" stroke="#333" stroke-width="0.25" ><tspan font-style="italic">p</tspan>=0.025</text>
<text x="0" y="4.07" font-size="11.3" text-anchor="middle" font-weight="normal" font-style="normal" fill="#333" stroke="#333" stroke-width="0.25" transform="translate(506.8 837.5) rotate(-28)" >WT</text>
<text x="0" y="4.07" font-size="11.3" text-anchor="middle" font-weight="normal" font-style="italic" fill="#333" stroke="#333" stroke-width="0.25" transform="translate(541.5 838.5) rotate(-28)" >ktr2Δ-10</text>
<text x="0" y="4.07" font-size="11.3" text-anchor="middle" font-weight="normal" font-style="italic" fill="#333" stroke="#333" stroke-width="0.25" transform="translate(578.3 837.7) rotate(-28)" >yur1Δ-13</text>
<text x="22.95" y="-1.93" font-size="11.3" text-anchor="end" font-weight="normal" font-style="italic" fill="#333" stroke="#333" stroke-width="0.25" transform="translate(615.8 838.5) rotate(-28)" >yur1Δ-13</text>
<text x="22.95" y="10.07" font-size="11.3" text-anchor="end" font-weight="normal" font-style="italic" fill="#333" stroke="#333" stroke-width="0.25" transform="translate(615.8 838.5) rotate(-28)" >ktr2Δ-2</text>
<text x="22.95" y="-1.93" font-size="11.3" text-anchor="end" font-weight="normal" font-style="italic" fill="#333" stroke="#333" stroke-width="0.25" transform="translate(659 838.5) rotate(-28)" >yur1Δ-13</text>
<text x="22.95" y="10.07" font-size="11.3" text-anchor="end" font-weight="normal" font-style="italic" fill="#333" stroke="#333" stroke-width="0.25" transform="translate(659 838.5) rotate(-28)" >ktr2Δ-8</text>
<text x="581.7" y="872.6" font-size="11.5" text-anchor="middle" font-weight="normal" font-style="normal" fill="#222" stroke="#222" stroke-width="0.25" >Strain</text>
</svg></body></html>
